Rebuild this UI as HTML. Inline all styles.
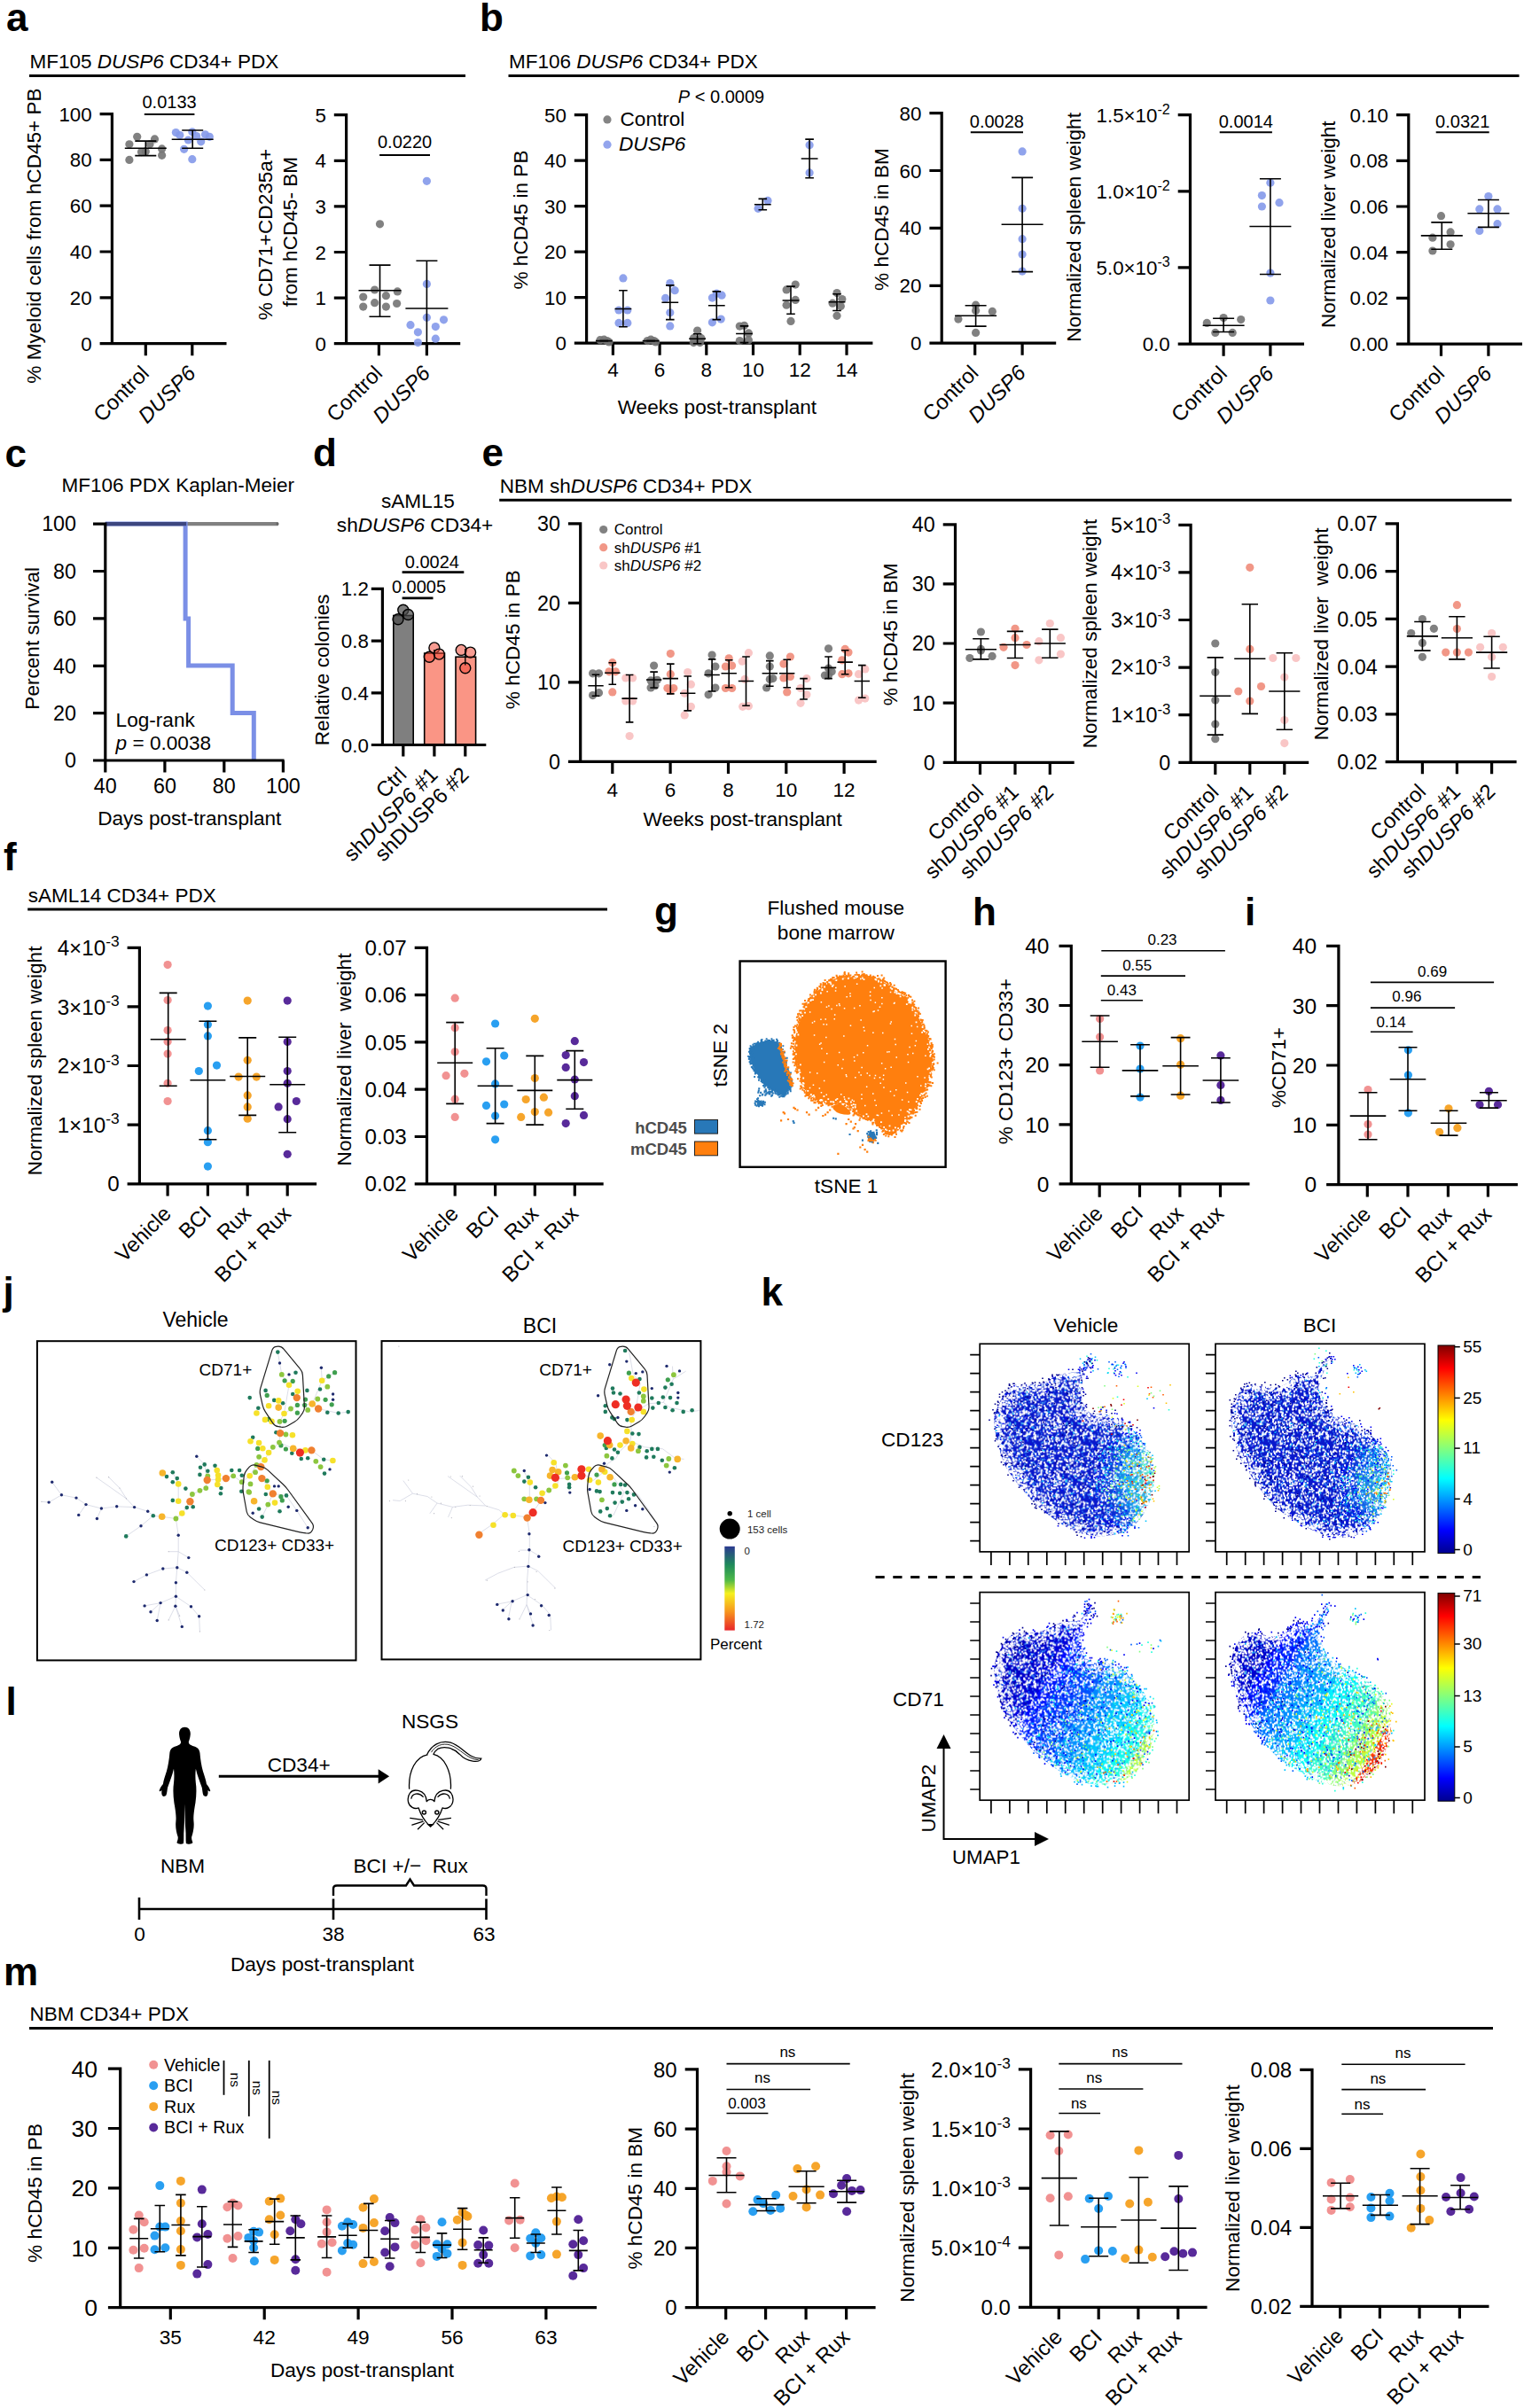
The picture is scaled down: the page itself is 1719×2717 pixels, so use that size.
<!DOCTYPE html>
<html><head><meta charset="utf-8"><title>Figure</title>
<style>html,body{margin:0;padding:0;background:#fff}svg{display:block}text{font-family:"Liberation Sans",sans-serif;fill:#000}</style></head>
<body>
<svg width="1719" height="2717" viewBox="0 0 1719 2717" fill="none">
<rect width="1719" height="2717" fill="#fff"/>
<text x="7" y="35" font-size="44" font-weight="bold" >a</text>
<path d="M33 85.6L525 85.6" stroke="#000" stroke-width="3" />
<text x="33.5" y="77.1" font-size="22.5" >MF105 <tspan font-style="italic">DUSP6</tspan> CD34+ PDX</text>
<path d="M126.4 127L126.4 387.7M112.6 387.7L255.5 387.7M112.6 335.9L126.4 335.9M112.6 284L126.4 284M112.6 232.2L126.4 232.2M112.6 180.4L126.4 180.4M112.6 128.6L126.4 128.6M164.3 387.7L164.3 401.3M216.8 387.7L216.8 401.3" stroke="#000" stroke-width="3.2"/>
<text x="103.6" y="395.7" font-size="22.3" text-anchor="end" >0</text>
<text x="103.6" y="343.8" font-size="22.3" text-anchor="end" >20</text>
<text x="103.6" y="292" font-size="22.3" text-anchor="end" >40</text>
<text x="103.6" y="240.2" font-size="22.3" text-anchor="end" >60</text>
<text x="103.6" y="188.4" font-size="22.3" text-anchor="end" >80</text>
<text x="103.6" y="136.6" font-size="22.3" text-anchor="end" >100</text>
<text x="45.5" y="266" font-size="22.6" text-anchor="middle" transform="rotate(-90 45.5 266)" >% Myeloid cells from hCD45+ PB</text>
<text x="169.6" y="422.7" font-size="23.9" text-anchor="end" transform="rotate(-45 169.6 422.7)" >Control</text>
<text x="222.1" y="422.7" font-size="23.9" text-anchor="end" transform="rotate(-45 222.1 422.7)" ><tspan font-style="italic">DUSP6</tspan></text>
<circle cx="145.9" cy="180.4" r="4.6" fill="#737373" fill-opacity="0.9" />
<circle cx="145.9" cy="162.8" r="4.6" fill="#737373" fill-opacity="0.9" />
<circle cx="154.7" cy="154.3" r="4.6" fill="#737373" fill-opacity="0.9" />
<circle cx="159.5" cy="171.6" r="4.6" fill="#737373" fill-opacity="0.9" />
<circle cx="164.3" cy="170.9" r="4.6" fill="#737373" fill-opacity="0.9" />
<circle cx="169" cy="162.8" r="4.6" fill="#737373" fill-opacity="0.9" />
<circle cx="174.5" cy="156.9" r="4.6" fill="#737373" fill-opacity="0.9" />
<circle cx="182.6" cy="167.9" r="4.6" fill="#737373" fill-opacity="0.9" />
<circle cx="182.6" cy="175.3" r="4.6" fill="#737373" fill-opacity="0.9" />
<path d="M140.8 167.2L187.8 167.2M164.3 175.6L164.3 159.1M152.3 175.6L176.3 175.6M152.3 159.1L176.3 159.1" stroke="#000" stroke-width="1.6"/>
<circle cx="198.4" cy="149.6" r="4.6" fill="#8499ea" fill-opacity="0.9" />
<circle cx="202.8" cy="152.5" r="4.6" fill="#8499ea" fill-opacity="0.9" />
<circle cx="207.6" cy="168.3" r="4.6" fill="#8499ea" fill-opacity="0.9" />
<circle cx="212.4" cy="158" r="4.6" fill="#8499ea" fill-opacity="0.9" />
<circle cx="216.8" cy="179.7" r="4.6" fill="#8499ea" fill-opacity="0.9" />
<circle cx="216.8" cy="148.8" r="4.6" fill="#8499ea" fill-opacity="0.9" />
<circle cx="221.6" cy="153.6" r="4.6" fill="#8499ea" fill-opacity="0.9" />
<circle cx="226.7" cy="159.8" r="4.6" fill="#8499ea" fill-opacity="0.9" />
<circle cx="231.5" cy="151.8" r="4.6" fill="#8499ea" fill-opacity="0.9" />
<circle cx="236.3" cy="154.3" r="4.6" fill="#8499ea" fill-opacity="0.9" />
<path d="M193.7 157.3L240.7 157.3M217.2 167.2L217.2 147M205.2 167.2L229.2 167.2M205.2 147L229.2 147" stroke="#000" stroke-width="1.6"/>
<path d="M162.8 129L219.4 129" stroke="#000" stroke-width="2" />
<text x="191.1" y="121.5" font-size="20" text-anchor="middle" >0.0133</text>
<path d="M390.6 128.1L390.6 387.7M376.8 387.7L519.2 387.7M376.8 336.1L390.6 336.1M376.8 284.5L390.6 284.5M376.8 232.9L390.6 232.9M376.8 181.3L390.6 181.3M376.8 129.7L390.6 129.7M427.4 387.7L427.4 401.3M481.4 387.7L481.4 401.3" stroke="#000" stroke-width="3.2"/>
<text x="367.8" y="395.7" font-size="22.3" text-anchor="end" >0</text>
<text x="367.8" y="344.1" font-size="22.3" text-anchor="end" >1</text>
<text x="367.8" y="292.5" font-size="22.3" text-anchor="end" >2</text>
<text x="367.8" y="240.9" font-size="22.3" text-anchor="end" >3</text>
<text x="367.8" y="189.3" font-size="22.3" text-anchor="end" >4</text>
<text x="367.8" y="137.7" font-size="22.3" text-anchor="end" >5</text>
<text x="306.8" y="264.6" font-size="22.6" text-anchor="middle" transform="rotate(-90 306.8 264.6)" >% CD71+CD235a+</text>
<text x="335.1" y="261.6" font-size="22.6" text-anchor="middle" transform="rotate(-90 335.1 261.6)" >from hCD45- BM</text>
<text x="432.7" y="422.7" font-size="23.9" text-anchor="end" transform="rotate(-45 432.7 422.7)" >Control</text>
<text x="486.7" y="422.7" font-size="23.9" text-anchor="end" transform="rotate(-45 486.7 422.7)" ><tspan font-style="italic">DUSP6</tspan></text>
<circle cx="428.5" cy="252.8" r="4.6" fill="#737373" fill-opacity="0.9" />
<circle cx="409.7" cy="335.1" r="4.6" fill="#737373" fill-opacity="0.9" />
<circle cx="422.6" cy="327" r="4.6" fill="#737373" fill-opacity="0.9" />
<circle cx="435.4" cy="333.7" r="4.6" fill="#737373" fill-opacity="0.9" />
<circle cx="448.3" cy="328.9" r="4.6" fill="#737373" fill-opacity="0.9" />
<circle cx="409.7" cy="346.1" r="4.6" fill="#737373" fill-opacity="0.9" />
<circle cx="422.6" cy="341.7" r="4.6" fill="#737373" fill-opacity="0.9" />
<circle cx="435.4" cy="346.1" r="4.6" fill="#737373" fill-opacity="0.9" />
<circle cx="447.6" cy="342.5" r="4.6" fill="#737373" fill-opacity="0.9" />
<path d="M404.5 327.8L452.5 327.8M428.5 357.2L428.5 299.1M416.5 357.2L440.5 357.2M416.5 299.1L440.5 299.1" stroke="#000" stroke-width="1.6"/>
<circle cx="481.4" cy="204.3" r="4.6" fill="#8499ea" fill-opacity="0.9" />
<circle cx="481.4" cy="320.4" r="4.6" fill="#8499ea" fill-opacity="0.9" />
<circle cx="481.4" cy="358.3" r="4.6" fill="#8499ea" fill-opacity="0.9" />
<circle cx="500.5" cy="360.8" r="4.6" fill="#8499ea" fill-opacity="0.9" />
<circle cx="463" cy="366.7" r="4.6" fill="#8499ea" fill-opacity="0.9" />
<circle cx="491.3" cy="368.6" r="4.6" fill="#8499ea" fill-opacity="0.9" />
<circle cx="471.4" cy="374.8" r="4.6" fill="#8499ea" fill-opacity="0.9" />
<circle cx="491.3" cy="382.2" r="4.6" fill="#8499ea" fill-opacity="0.9" />
<circle cx="471.4" cy="386.6" r="4.6" fill="#8499ea" fill-opacity="0.9" />
<path d="M457.4 348L505.4 348M481.4 387.7L481.4 294.3M469.4 294.3L493.4 294.3" stroke="#000" stroke-width="1.6"/>
<path d="M428.1 174.9L485 174.9" stroke="#000" stroke-width="2" />
<text x="456.6" y="167.4" font-size="20" text-anchor="middle" >0.0220</text>
<text x="541" y="35" font-size="44" font-weight="bold" >b</text>
<path d="M573.5 85.4L1713.5 85.4" stroke="#000" stroke-width="3" />
<text x="574" y="76.9" font-size="22.5" >MF106 <tspan font-style="italic">DUSP6</tspan> CD34+ PDX</text>
<path d="M661.6 128.1L661.6 387.2M647.8 387.2L984.4 387.2M647.8 335.7L661.6 335.7M647.8 284.2L661.6 284.2M647.8 232.7L661.6 232.7M647.8 181.2L661.6 181.2M647.8 129.7L661.6 129.7M691.4 387.2L691.4 400.8M744.1 387.2L744.1 400.8M796.8 387.2L796.8 400.8M849.5 387.2L849.5 400.8M902.2 387.2L902.2 400.8M955 387.2L955 400.8" stroke="#000" stroke-width="3.2"/>
<text x="638.8" y="395.2" font-size="22.3" text-anchor="end" >0</text>
<text x="638.8" y="343.7" font-size="22.3" text-anchor="end" >10</text>
<text x="638.8" y="292.2" font-size="22.3" text-anchor="end" >20</text>
<text x="638.8" y="240.7" font-size="22.3" text-anchor="end" >30</text>
<text x="638.8" y="189.1" font-size="22.3" text-anchor="end" >40</text>
<text x="638.8" y="137.6" font-size="22.3" text-anchor="end" >50</text>
<text x="691.4" y="425" font-size="22.5" text-anchor="middle" >4</text>
<text x="744.1" y="425" font-size="22.5" text-anchor="middle" >6</text>
<text x="796.8" y="425" font-size="22.5" text-anchor="middle" >8</text>
<text x="849.5" y="425" font-size="22.5" text-anchor="middle" >10</text>
<text x="902.2" y="425" font-size="22.5" text-anchor="middle" >12</text>
<text x="955" y="425" font-size="22.5" text-anchor="middle" >14</text>
<text x="808.9" y="466.9" font-size="22.6" text-anchor="middle" >Weeks post-transplant</text>
<text x="595.2" y="248" font-size="22.6" text-anchor="middle" transform="rotate(-90 595.2 248)" >% hCD45 in PB</text>
<text x="813.5" y="116.1" font-size="20" text-anchor="middle" ><tspan font-style="italic">P</tspan> &lt; 0.0009</text>
<circle cx="685" cy="134.9" r="4.6" fill="#737373" fill-opacity="0.88" />
<text x="699.5" y="141.5" font-size="22.6" >Control</text>
<circle cx="685" cy="163.2" r="4.6" fill="#8499ea" fill-opacity="0.88" />
<text x="698" y="170.1" font-size="22.6" ><tspan font-style="italic">DUSP6</tspan></text>
<circle cx="676.9" cy="383.7" r="4.6" fill="#737373" fill-opacity="0.9" />
<circle cx="681.3" cy="383.2" r="4.6" fill="#737373" fill-opacity="0.9" />
<circle cx="684.7" cy="384.6" r="4.6" fill="#737373" fill-opacity="0.9" />
<circle cx="687" cy="386" r="4.6" fill="#737373" fill-opacity="0.9" />
<path d="M671.9 384.6L690.7 384.6M681.3 384.9L681.3 384.3M676.5 384.9L686.1 384.9M676.5 384.3L686.1 384.3" stroke="#000" stroke-width="1.6"/>
<circle cx="702.9" cy="313.9" r="4.6" fill="#8499ea" fill-opacity="0.9" />
<circle cx="698" cy="350" r="4.6" fill="#8499ea" fill-opacity="0.9" />
<circle cx="707.8" cy="350" r="4.6" fill="#8499ea" fill-opacity="0.9" />
<circle cx="698" cy="364.4" r="4.6" fill="#8499ea" fill-opacity="0.9" />
<circle cx="707.8" cy="364.4" r="4.6" fill="#8499ea" fill-opacity="0.9" />
<path d="M693.5 348.5L712.3 348.5M702.9 368.7L702.9 327.7M698.1 368.7L707.7 368.7M698.1 327.7L707.7 327.7" stroke="#000" stroke-width="1.6"/>
<circle cx="730.3" cy="384.6" r="4.6" fill="#737373" fill-opacity="0.9" />
<circle cx="734.1" cy="383.2" r="4.6" fill="#737373" fill-opacity="0.9" />
<circle cx="737.6" cy="384.6" r="4.6" fill="#737373" fill-opacity="0.9" />
<circle cx="739.6" cy="386" r="4.6" fill="#737373" fill-opacity="0.9" />
<path d="M724.7 384.6L743.5 384.6M734.1 384.9L734.1 384.3M729.3 384.9L738.9 384.9M729.3 384.3L738.9 384.3" stroke="#000" stroke-width="1.6"/>
<circle cx="755.8" cy="319.6" r="4.6" fill="#8499ea" fill-opacity="0.9" />
<circle cx="761.2" cy="327.7" r="4.6" fill="#8499ea" fill-opacity="0.9" />
<circle cx="750.6" cy="336.4" r="4.6" fill="#8499ea" fill-opacity="0.9" />
<circle cx="755.8" cy="352.8" r="4.6" fill="#8499ea" fill-opacity="0.9" />
<circle cx="755.8" cy="367.9" r="4.6" fill="#8499ea" fill-opacity="0.9" />
<path d="M746.4 341.3L765.2 341.3M755.8 360.6L755.8 321.9M751 360.6L760.6 360.6M751 321.9L760.6 321.9" stroke="#000" stroke-width="1.6"/>
<circle cx="786.6" cy="373" r="4.6" fill="#737373" fill-opacity="0.9" />
<circle cx="782.3" cy="381.7" r="4.6" fill="#737373" fill-opacity="0.9" />
<circle cx="791" cy="381.7" r="4.6" fill="#737373" fill-opacity="0.9" />
<circle cx="782.3" cy="386.6" r="4.6" fill="#737373" fill-opacity="0.9" />
<circle cx="789.5" cy="386.6" r="4.6" fill="#737373" fill-opacity="0.9" />
<path d="M777.2 382.3L796 382.3M786.6 387.8L786.6 376.8M781.8 387.8L791.4 387.8M781.8 376.8L791.4 376.8" stroke="#000" stroke-width="1.6"/>
<circle cx="808.3" cy="331.2" r="4.6" fill="#8499ea" fill-opacity="0.9" />
<circle cx="814.1" cy="333.2" r="4.6" fill="#8499ea" fill-opacity="0.9" />
<circle cx="803.4" cy="336.1" r="4.6" fill="#8499ea" fill-opacity="0.9" />
<circle cx="813.2" cy="360.1" r="4.6" fill="#8499ea" fill-opacity="0.9" />
<circle cx="803.4" cy="363.8" r="4.6" fill="#8499ea" fill-opacity="0.9" />
<path d="M798.9 344.8L817.7 344.8M808.3 360.6L808.3 328.9M803.5 360.6L813.1 360.6M803.5 328.9L813.1 328.9" stroke="#000" stroke-width="1.6"/>
<circle cx="834.3" cy="368.1" r="4.6" fill="#737373" fill-opacity="0.9" />
<circle cx="839.5" cy="367.3" r="4.6" fill="#737373" fill-opacity="0.9" />
<circle cx="844.4" cy="375.9" r="4.6" fill="#737373" fill-opacity="0.9" />
<circle cx="834.3" cy="384.6" r="4.6" fill="#737373" fill-opacity="0.9" />
<circle cx="844.4" cy="383.7" r="4.6" fill="#737373" fill-opacity="0.9" />
<path d="M830.1 376.5L848.9 376.5M839.5 386.6L839.5 367.9M834.7 386.6L844.3 386.6M834.7 367.9L844.3 367.9" stroke="#000" stroke-width="1.6"/>
<circle cx="855.1" cy="235.3" r="4.6" fill="#8499ea" fill-opacity="0.9" />
<circle cx="866" cy="226.4" r="4.6" fill="#8499ea" fill-opacity="0.9" />
<path d="M850.9 230.7L869.7 230.7M860.3 236.8L860.3 224.4M855.5 236.8L865.1 236.8M855.5 224.4L865.1 224.4" stroke="#000" stroke-width="1.6"/>
<circle cx="897.2" cy="321.1" r="4.6" fill="#737373" fill-opacity="0.9" />
<circle cx="887.1" cy="326.9" r="4.6" fill="#737373" fill-opacity="0.9" />
<circle cx="897.2" cy="338.4" r="4.6" fill="#737373" fill-opacity="0.9" />
<circle cx="887.1" cy="344.2" r="4.6" fill="#737373" fill-opacity="0.9" />
<circle cx="892" cy="362.4" r="4.6" fill="#737373" fill-opacity="0.9" />
<path d="M882.6 339L901.4 339M892 354.3L892 323.1M887.2 354.3L896.8 354.3M887.2 323.1L896.8 323.1" stroke="#000" stroke-width="1.6"/>
<circle cx="913.1" cy="163.7" r="4.6" fill="#8499ea" fill-opacity="0.9" />
<circle cx="913.1" cy="194.9" r="4.6" fill="#8499ea" fill-opacity="0.9" />
<path d="M903.7 179L922.5 179M913.1 200.7L913.1 157.1M908.3 200.7L917.9 200.7M908.3 157.1L917.9 157.1" stroke="#000" stroke-width="1.6"/>
<circle cx="944" cy="330.6" r="4.6" fill="#737373" fill-opacity="0.9" />
<circle cx="949.8" cy="337.5" r="4.6" fill="#737373" fill-opacity="0.9" />
<circle cx="939.1" cy="342.2" r="4.6" fill="#737373" fill-opacity="0.9" />
<circle cx="948.3" cy="345.6" r="4.6" fill="#737373" fill-opacity="0.9" />
<circle cx="944" cy="356.3" r="4.6" fill="#737373" fill-opacity="0.9" />
<path d="M934.6 340.7L953.4 340.7M944 350.5L944 331.8M939.2 350.5L948.8 350.5M939.2 331.8L948.8 331.8" stroke="#000" stroke-width="1.6"/>
<path d="M1062.2 126L1062.2 387.2M1048.4 387.2L1191.2 387.2M1048.4 322.3L1062.2 322.3M1048.4 257.4L1062.2 257.4M1048.4 192.5L1062.2 192.5M1048.4 127.6L1062.2 127.6M1099.7 387.2L1099.7 400.8M1153.1 387.2L1153.1 400.8" stroke="#000" stroke-width="3.2"/>
<text x="1039.4" y="395.2" font-size="22.3" text-anchor="end" >0</text>
<text x="1039.4" y="330.3" font-size="22.3" text-anchor="end" >20</text>
<text x="1039.4" y="265.4" font-size="22.3" text-anchor="end" >40</text>
<text x="1039.4" y="200.5" font-size="22.3" text-anchor="end" >60</text>
<text x="1039.4" y="135.6" font-size="22.3" text-anchor="end" >80</text>
<text x="1002.1" y="247.5" font-size="22.6" text-anchor="middle" transform="rotate(-90 1002.1 247.5)" >% hCD45 in BM</text>
<text x="1105" y="422.2" font-size="23.9" text-anchor="end" transform="rotate(-45 1105 422.2)" >Control</text>
<text x="1158.4" y="422.2" font-size="23.9" text-anchor="end" transform="rotate(-45 1158.4 422.2)" ><tspan font-style="italic">DUSP6</tspan></text>
<path d="M1094.8 149.3L1154 149.3" stroke="#000" stroke-width="2" />
<text x="1124.4" y="144.1" font-size="20" text-anchor="middle" >0.0028</text>
<circle cx="1100.6" cy="344.2" r="4.6" fill="#737373" fill-opacity="0.9" />
<circle cx="1100.6" cy="350.5" r="4.6" fill="#737373" fill-opacity="0.9" />
<circle cx="1119.3" cy="351.4" r="4.6" fill="#737373" fill-opacity="0.9" />
<circle cx="1080.9" cy="360.1" r="4.6" fill="#737373" fill-opacity="0.9" />
<circle cx="1100.6" cy="375.4" r="4.6" fill="#737373" fill-opacity="0.9" />
<path d="M1077.1 356.3L1124.1 356.3M1100.6 368.1L1100.6 344.8M1088.6 368.1L1112.6 368.1M1088.6 344.8L1112.6 344.8" stroke="#000" stroke-width="1.6"/>
<circle cx="1153.1" cy="170.9" r="4.6" fill="#8499ea" fill-opacity="0.9" />
<circle cx="1153.1" cy="235.3" r="4.6" fill="#8499ea" fill-opacity="0.9" />
<circle cx="1153.1" cy="269.7" r="4.6" fill="#8499ea" fill-opacity="0.9" />
<circle cx="1153.1" cy="287" r="4.6" fill="#8499ea" fill-opacity="0.9" />
<circle cx="1153.1" cy="306.1" r="4.6" fill="#8499ea" fill-opacity="0.9" />
<path d="M1129.6 253.2L1176.6 253.2M1153.1 306.6L1153.1 200.4M1141.1 306.6L1165.1 306.6M1141.1 200.4L1165.1 200.4" stroke="#000" stroke-width="1.6"/>
<text x="1219" y="256.4" font-size="22.6" text-anchor="middle" transform="rotate(-90 1219 256.4)" >Normalized spleen weight</text>
<path d="M1342.5 128.1L1342.5 388.1M1328.7 388.1L1471 388.1M1328.7 301.9L1342.5 301.9M1328.7 215.8L1342.5 215.8M1328.7 129.7L1342.5 129.7M1380.1 388.1L1380.1 401.7M1432.9 388.1L1432.9 401.7" stroke="#000" stroke-width="3.2"/>
<text x="1319.7" y="396" font-size="22.3" text-anchor="end" >0.0</text>
<text x="1319.7" y="309.9" font-size="22.3" text-anchor="end" >5.0×10<tspan dy="-8.9" font-size="16.1">-3</tspan></text>
<text x="1319.7" y="223.8" font-size="22.3" text-anchor="end" >1.0×10<tspan dy="-8.9" font-size="16.1">-2</tspan></text>
<text x="1319.7" y="137.6" font-size="22.3" text-anchor="end" >1.5×10<tspan dy="-8.9" font-size="16.1">-2</tspan></text>
<text x="1385.4" y="423.1" font-size="23.9" text-anchor="end" transform="rotate(-45 1385.4 423.1)" >Control</text>
<text x="1438.2" y="423.1" font-size="23.9" text-anchor="end" transform="rotate(-45 1438.2 423.1)" ><tspan font-style="italic">DUSP6</tspan></text>
<path d="M1375.7 149.3L1434.9 149.3" stroke="#000" stroke-width="2" />
<text x="1405.3" y="144.1" font-size="20" text-anchor="middle" >0.0014</text>
<circle cx="1380.1" cy="358.6" r="4.6" fill="#737373" fill-opacity="0.9" />
<circle cx="1361.3" cy="364.4" r="4.6" fill="#737373" fill-opacity="0.9" />
<circle cx="1399.7" cy="360.6" r="4.6" fill="#737373" fill-opacity="0.9" />
<circle cx="1370.8" cy="375.4" r="4.6" fill="#737373" fill-opacity="0.9" />
<circle cx="1390.2" cy="375.4" r="4.6" fill="#737373" fill-opacity="0.9" />
<path d="M1356.6 367.3L1403.6 367.3M1380.1 374.5L1380.1 359.2M1368.1 374.5L1392.1 374.5M1368.1 359.2L1392.1 359.2" stroke="#000" stroke-width="1.6"/>
<circle cx="1432.9" cy="206.2" r="4.6" fill="#8499ea" fill-opacity="0.9" />
<circle cx="1423.4" cy="220.6" r="4.6" fill="#8499ea" fill-opacity="0.9" />
<circle cx="1443" cy="228.7" r="4.6" fill="#8499ea" fill-opacity="0.9" />
<circle cx="1423.4" cy="233" r="4.6" fill="#8499ea" fill-opacity="0.9" />
<circle cx="1432.9" cy="308.1" r="4.6" fill="#8499ea" fill-opacity="0.9" />
<circle cx="1432.9" cy="339" r="4.6" fill="#8499ea" fill-opacity="0.9" />
<path d="M1409.4 255.5L1456.4 255.5M1432.9 309.5L1432.9 201.8M1420.9 309.5L1444.9 309.5M1420.9 201.8L1444.9 201.8" stroke="#000" stroke-width="1.6"/>
<path d="M1588.8 128.1L1588.8 388.1M1575 388.1L1717 388.1M1575 336.4L1588.8 336.4M1575 284.7L1588.8 284.7M1575 233L1588.8 233M1575 181.3L1588.8 181.3M1575 129.7L1588.8 129.7M1625.5 388.1L1625.5 401.7M1678.9 388.1L1678.9 401.7" stroke="#000" stroke-width="3.2"/>
<text x="1566" y="396" font-size="22.3" text-anchor="end" >0.00</text>
<text x="1566" y="344.4" font-size="22.3" text-anchor="end" >0.02</text>
<text x="1566" y="292.7" font-size="22.3" text-anchor="end" >0.04</text>
<text x="1566" y="241" font-size="22.3" text-anchor="end" >0.06</text>
<text x="1566" y="189.3" font-size="22.3" text-anchor="end" >0.08</text>
<text x="1566" y="137.6" font-size="22.3" text-anchor="end" >0.10</text>
<text x="1506.5" y="253.2" font-size="22.6" text-anchor="middle" transform="rotate(-90 1506.5 253.2)" >Normalized liver weight</text>
<text x="1630.8" y="423.1" font-size="23.9" text-anchor="end" transform="rotate(-45 1630.8 423.1)" >Control</text>
<text x="1684.2" y="423.1" font-size="23.9" text-anchor="end" transform="rotate(-45 1684.2 423.1)" ><tspan font-style="italic">DUSP6</tspan></text>
<path d="M1619.7 149.3L1679.7 149.3" stroke="#000" stroke-width="2" />
<text x="1649.7" y="144.1" font-size="20" text-anchor="middle" >0.0321</text>
<circle cx="1625.5" cy="243.7" r="4.6" fill="#737373" fill-opacity="0.9" />
<circle cx="1636.1" cy="261.9" r="4.6" fill="#737373" fill-opacity="0.9" />
<circle cx="1615.9" cy="268.2" r="4.6" fill="#737373" fill-opacity="0.9" />
<circle cx="1636.1" cy="275.8" r="4.6" fill="#737373" fill-opacity="0.9" />
<circle cx="1615.9" cy="283" r="4.6" fill="#737373" fill-opacity="0.9" />
<path d="M1602.8 265.9L1649.8 265.9M1626.3 281.2L1626.3 250.9M1614.3 281.2L1638.3 281.2M1614.3 250.9L1638.3 250.9" stroke="#000" stroke-width="1.6"/>
<circle cx="1678.9" cy="221.5" r="4.6" fill="#8499ea" fill-opacity="0.9" />
<circle cx="1668.8" cy="235.9" r="4.6" fill="#8499ea" fill-opacity="0.9" />
<circle cx="1689" cy="235.9" r="4.6" fill="#8499ea" fill-opacity="0.9" />
<circle cx="1689" cy="252.7" r="4.6" fill="#8499ea" fill-opacity="0.9" />
<circle cx="1668.8" cy="260.4" r="4.6" fill="#8499ea" fill-opacity="0.9" />
<path d="M1655.4 240.8L1702.4 240.8M1678.9 256.4L1678.9 225.5M1666.9 256.4L1690.9 256.4M1666.9 225.5L1690.9 225.5" stroke="#000" stroke-width="1.6"/>
<text x="5.5" y="526.6" font-size="44" font-weight="bold" >c</text>
<text x="200.8" y="555" font-size="22.5" text-anchor="middle" >MF106 PDX Kaplan-Meier</text>
<path d="M118.8 591.1L313.7 591.1" stroke="#808080" stroke-width="4.2"/>
<circle cx="313" cy="591.1" r="1.6" fill="#666" />
<path d="M118.8 591.1L209.1 591.1L209.1 697.9L212.6 697.9L212.6 751L262.2 751L262.2 804.6L286.3 804.6L286.3 859" stroke="#7b8fe6" stroke-width="5" stroke-linejoin="miter"/>
<path d="M118.8 591.1L210.2 591.1" stroke="#3c467f" stroke-width="4.4"/>
<path d="M118.8 589.5L118.8 858M105 858L320.6 858M105 804.6L118.8 804.6M105 751.3L118.8 751.3M105 697.9L118.8 697.9M105 644.5L118.8 644.5M105 591.1L118.8 591.1M118.8 858L118.8 871.5M185.9 858L185.9 871.5M252.8 858L252.8 871.5M319.4 858L319.4 871.5" stroke="#000" stroke-width="3.2"/>
<text x="86" y="866.4" font-size="23.3" text-anchor="end" >0</text>
<text x="86" y="813" font-size="23.3" text-anchor="end" >20</text>
<text x="86" y="759.6" font-size="23.3" text-anchor="end" >40</text>
<text x="86" y="706.2" font-size="23.3" text-anchor="end" >60</text>
<text x="86" y="652.8" font-size="23.3" text-anchor="end" >80</text>
<text x="86" y="599.4" font-size="23.3" text-anchor="end" >100</text>
<text x="118.8" y="895.1" font-size="23.3" text-anchor="middle" >40</text>
<text x="185.9" y="895.1" font-size="23.3" text-anchor="middle" >60</text>
<text x="252.8" y="895.1" font-size="23.3" text-anchor="middle" >80</text>
<text x="319.4" y="895.1" font-size="23.3" text-anchor="middle" >100</text>
<text x="213.8" y="930.6" font-size="22.6" text-anchor="middle" >Days post-transplant</text>
<text x="44.4" y="720.3" font-size="22.6" text-anchor="middle" transform="rotate(-90 44.4 720.3)" >Percent survival</text>
<text x="130.6" y="819.5" font-size="22.6" >Log-rank</text>
<text x="130.6" y="845.5" font-size="22.6" ><tspan font-style="italic">p</tspan> = 0.0038</text>
<text x="353" y="526.3" font-size="44" font-weight="bold" >d</text>
<text x="471.4" y="572.6" font-size="22.6" text-anchor="middle" >sAML15</text>
<text x="468.1" y="599.6" font-size="22.6" text-anchor="middle" >sh<tspan font-style="italic">DUSP6</tspan> CD34+</text>
<rect x="443.8" y="694.5" width="22.4" height="146" fill="#7f7f7f" stroke="#000" stroke-width="1.6"/>
<rect x="478.7" y="737.1" width="22.8" height="103.4" fill="#fa9585" stroke="#000" stroke-width="1.6"/>
<rect x="514" y="741.2" width="22.6" height="99.3" fill="#fa9585" stroke="#000" stroke-width="1.6"/>
<path d="M431.4 662.8L431.4 840.5M418.8 840.5L548.3 840.5M418.8 781.8L431.4 781.8M418.8 723.1L431.4 723.1M418.8 664.4L431.4 664.4M454.8 840.5L454.8 853.4M489.9 840.5L489.9 853.4M524.8 840.5L524.8 853.4" stroke="#000" stroke-width="3.2"/>
<text x="415.8" y="848.5" font-size="22.3" text-anchor="end" >0.0</text>
<text x="415.8" y="789.8" font-size="22.3" text-anchor="end" >0.4</text>
<text x="415.8" y="731.1" font-size="22.3" text-anchor="end" >0.8</text>
<text x="415.8" y="672.4" font-size="22.3" text-anchor="end" >1.2</text>
<circle cx="454.8" cy="688.3" r="6" fill="#4a4a4a" fill-opacity="0.7" stroke="#000" stroke-width="1.4"/>
<circle cx="460.4" cy="693.5" r="6" fill="#4a4a4a" fill-opacity="0.7" stroke="#000" stroke-width="1.4"/>
<circle cx="449" cy="698.7" r="6" fill="#4a4a4a" fill-opacity="0.7" stroke="#000" stroke-width="1.4"/>
<circle cx="489.9" cy="730.9" r="6" fill="#f04a38" fill-opacity="0.55" stroke="#000" stroke-width="1.4"/>
<circle cx="495.3" cy="738.1" r="6" fill="#f04a38" fill-opacity="0.55" stroke="#000" stroke-width="1.4"/>
<circle cx="484.3" cy="741.2" r="6" fill="#f04a38" fill-opacity="0.55" stroke="#000" stroke-width="1.4"/>
<circle cx="520.2" cy="733.4" r="6" fill="#f04a38" fill-opacity="0.55" stroke="#000" stroke-width="1.4"/>
<circle cx="530.6" cy="736.1" r="6" fill="#f04a38" fill-opacity="0.55" stroke="#000" stroke-width="1.4"/>
<circle cx="524.8" cy="753.7" r="6" fill="#f04a38" fill-opacity="0.55" stroke="#000" stroke-width="1.4"/>
<path d="M454.8 697.6L454.8 690.4" stroke="#000" stroke-width="1.4" />
<path d="M489.9 740.2L489.9 732.9" stroke="#000" stroke-width="1.4" />
<path d="M524.8 750.6L524.8 731.9" stroke="#000" stroke-width="1.4" />
<text x="371.1" y="755.8" font-size="22.6" text-anchor="middle" transform="rotate(-90 371.1 755.8)" >Relative colonies</text>
<path d="M453.6 645.7L523.3 645.7" stroke="#000" stroke-width="2.8" />
<text x="487.4" y="640.5" font-size="20" text-anchor="middle" >0.0024</text>
<path d="M453.6 674.8L488.5 674.8" stroke="#000" stroke-width="2.8" />
<text x="472.5" y="669" font-size="20" text-anchor="middle" >0.0005</text>
<text x="460.1" y="875.5" font-size="23.9" text-anchor="end" transform="rotate(-45 460.1 875.5)" >Ctrl</text>
<text x="495.2" y="875.5" font-size="23.9" text-anchor="end" transform="rotate(-45 495.2 875.5)" >sh<tspan font-style="italic">DUSP6</tspan> #1</text>
<text x="530.1" y="875.5" font-size="23.9" text-anchor="end" transform="rotate(-45 530.1 875.5)" >shDUSP6 #2</text>
<text x="543.5" y="526.3" font-size="44" font-weight="bold" >e</text>
<path d="M563.2 564.3L1705 564.3" stroke="#000" stroke-width="3" />
<text x="563.7" y="555.8" font-size="22.5" >NBM sh<tspan font-style="italic">DUSP6</tspan> CD34+ PDX</text>
<path d="M654.7 589.3L654.7 859.4M640.9 859.4L988.7 859.4M640.9 769.9L654.7 769.9M640.9 680.4L654.7 680.4M640.9 590.9L654.7 590.9M690.8 859.4L690.8 873M756.1 859.4L756.1 873M821.5 859.4L821.5 873M886.8 859.4L886.8 873M952.1 859.4L952.1 873" stroke="#000" stroke-width="3.2"/>
<text x="631.9" y="867.7" font-size="23.3" text-anchor="end" >0</text>
<text x="631.9" y="778.2" font-size="23.3" text-anchor="end" >10</text>
<text x="631.9" y="688.7" font-size="23.3" text-anchor="end" >20</text>
<text x="631.9" y="599.2" font-size="23.3" text-anchor="end" >30</text>
<text x="690.8" y="899.2" font-size="22.5" text-anchor="middle" >4</text>
<text x="756.1" y="899.2" font-size="22.5" text-anchor="middle" >6</text>
<text x="821.5" y="899.2" font-size="22.5" text-anchor="middle" >8</text>
<text x="886.8" y="899.2" font-size="22.5" text-anchor="middle" >10</text>
<text x="952.1" y="899.2" font-size="22.5" text-anchor="middle" >12</text>
<text x="837.7" y="931.9" font-size="22.6" text-anchor="middle" >Weeks post-transplant</text>
<text x="586" y="721.7" font-size="22.6" text-anchor="middle" transform="rotate(-90 586 721.7)" >% hCD45 in PB</text>
<circle cx="680.7" cy="597.5" r="4.6" fill="#737373" fill-opacity="0.9" />
<text x="692.8" y="603.3" font-size="17" >Control</text>
<circle cx="680.7" cy="617.7" r="4.6" fill="#f08c7a" fill-opacity="0.9" />
<text x="692.8" y="623.5" font-size="17" >sh<tspan font-style="italic">DUSP6</tspan> #1</text>
<circle cx="680.7" cy="638" r="4.6" fill="#f8c0c0" fill-opacity="0.9" />
<text x="692.8" y="643.7" font-size="17" >sh<tspan font-style="italic">DUSP6</tspan> #2</text>
<circle cx="668.6" cy="759.8" r="4.6" fill="#737373" fill-opacity="0.9" />
<circle cx="675.5" cy="759.8" r="4.6" fill="#737373" fill-opacity="0.9" />
<circle cx="668.6" cy="784.6" r="4.6" fill="#737373" fill-opacity="0.9" />
<circle cx="675.5" cy="781.7" r="4.6" fill="#737373" fill-opacity="0.9" />
<path d="M663.3 773.7L680.7 773.7M672 785.2L672 761.2M667.7 785.2L676.3 785.2M667.7 761.2L676.3 761.2" stroke="#000" stroke-width="1.6"/>
<circle cx="690.8" cy="747.7" r="4.6" fill="#f08c7a" fill-opacity="0.9" />
<circle cx="687" cy="757.8" r="4.6" fill="#f08c7a" fill-opacity="0.9" />
<circle cx="694.3" cy="757.8" r="4.6" fill="#f08c7a" fill-opacity="0.9" />
<circle cx="690.8" cy="780.9" r="4.6" fill="#f08c7a" fill-opacity="0.9" />
<path d="M682.1 759.2L699.5 759.2M690.8 772.2L690.8 747.7M686.5 772.2L695.1 772.2M686.5 747.7L695.1 747.7" stroke="#000" stroke-width="1.6"/>
<circle cx="705.8" cy="765" r="4.6" fill="#f8c0c0" fill-opacity="0.9" />
<circle cx="713.6" cy="765" r="4.6" fill="#f8c0c0" fill-opacity="0.9" />
<circle cx="705.8" cy="791" r="4.6" fill="#f8c0c0" fill-opacity="0.9" />
<circle cx="713.6" cy="791" r="4.6" fill="#f8c0c0" fill-opacity="0.9" />
<circle cx="710.1" cy="830.5" r="4.6" fill="#f8c0c0" fill-opacity="0.9" />
<path d="M701.4 788.1L718.8 788.1M710.1 814.9L710.1 761.5M705.8 814.9L714.4 814.9M705.8 761.5L714.4 761.5" stroke="#000" stroke-width="1.6"/>
<circle cx="737.6" cy="751.1" r="4.6" fill="#737373" fill-opacity="0.9" />
<circle cx="734.1" cy="767.9" r="4.6" fill="#737373" fill-opacity="0.9" />
<circle cx="741.3" cy="767.3" r="4.6" fill="#737373" fill-opacity="0.9" />
<circle cx="734.1" cy="776" r="4.6" fill="#737373" fill-opacity="0.9" />
<circle cx="739" cy="773.7" r="4.6" fill="#737373" fill-opacity="0.9" />
<path d="M728.9 767L746.3 767M737.6 776L737.6 758.1M733.3 776L741.9 776M733.3 758.1L741.9 758.1" stroke="#000" stroke-width="1.6"/>
<circle cx="756.3" cy="737.6" r="4.6" fill="#f08c7a" fill-opacity="0.9" />
<circle cx="756.3" cy="760.7" r="4.6" fill="#f08c7a" fill-opacity="0.9" />
<circle cx="752.9" cy="776.5" r="4.6" fill="#f08c7a" fill-opacity="0.9" />
<circle cx="759.8" cy="776.5" r="4.6" fill="#f08c7a" fill-opacity="0.9" />
<circle cx="756.3" cy="779.4" r="4.6" fill="#f08c7a" fill-opacity="0.9" />
<path d="M747.6 765.6L765 765.6M756.3 782.9L756.3 749.1M752 782.9L760.6 782.9M752 749.1L760.6 749.1" stroke="#000" stroke-width="1.6"/>
<circle cx="775.7" cy="758.6" r="4.6" fill="#f8c0c0" fill-opacity="0.9" />
<circle cx="779.4" cy="772.2" r="4.6" fill="#f8c0c0" fill-opacity="0.9" />
<circle cx="772.2" cy="782.3" r="4.6" fill="#f8c0c0" fill-opacity="0.9" />
<circle cx="779.4" cy="797.3" r="4.6" fill="#f8c0c0" fill-opacity="0.9" />
<circle cx="772.2" cy="806.9" r="4.6" fill="#f8c0c0" fill-opacity="0.9" />
<path d="M767 782.3L784.4 782.3M775.7 801.9L775.7 763M771.4 801.9L780 801.9M771.4 763L780 763" stroke="#000" stroke-width="1.6"/>
<circle cx="803.1" cy="739" r="4.6" fill="#737373" fill-opacity="0.9" />
<circle cx="806.9" cy="752" r="4.6" fill="#737373" fill-opacity="0.9" />
<circle cx="799.1" cy="759.8" r="4.6" fill="#737373" fill-opacity="0.9" />
<circle cx="806.9" cy="776" r="4.6" fill="#737373" fill-opacity="0.9" />
<circle cx="799.1" cy="783.8" r="4.6" fill="#737373" fill-opacity="0.9" />
<path d="M794.4 761.5L811.8 761.5M803.1 780L803.1 743.9M798.8 780L807.4 780M798.8 743.9L807.4 743.9" stroke="#000" stroke-width="1.6"/>
<circle cx="822.2" cy="742.8" r="4.6" fill="#f08c7a" fill-opacity="0.9" />
<circle cx="818.4" cy="752" r="4.6" fill="#f08c7a" fill-opacity="0.9" />
<circle cx="825.6" cy="751.1" r="4.6" fill="#f08c7a" fill-opacity="0.9" />
<circle cx="818.4" cy="776.5" r="4.6" fill="#f08c7a" fill-opacity="0.9" />
<circle cx="825.6" cy="776.5" r="4.6" fill="#f08c7a" fill-opacity="0.9" />
<path d="M813.5 759.8L830.9 759.8M822.2 775.7L822.2 744.8M817.9 775.7L826.5 775.7M817.9 744.8L826.5 744.8" stroke="#000" stroke-width="1.6"/>
<circle cx="844.4" cy="736.7" r="4.6" fill="#f8c0c0" fill-opacity="0.9" />
<circle cx="837.2" cy="746.2" r="4.6" fill="#f8c0c0" fill-opacity="0.9" />
<circle cx="840.1" cy="766.4" r="4.6" fill="#f8c0c0" fill-opacity="0.9" />
<circle cx="837.7" cy="797.3" r="4.6" fill="#f8c0c0" fill-opacity="0.9" />
<circle cx="844.4" cy="796.7" r="4.6" fill="#f8c0c0" fill-opacity="0.9" />
<path d="M832.8 768.5L850.2 768.5M841.5 796.2L841.5 741M837.2 796.2L845.8 796.2M837.2 741L845.8 741" stroke="#000" stroke-width="1.6"/>
<circle cx="868.3" cy="739.9" r="4.6" fill="#737373" fill-opacity="0.9" />
<circle cx="868.3" cy="752" r="4.6" fill="#737373" fill-opacity="0.9" />
<circle cx="871.8" cy="765.6" r="4.6" fill="#737373" fill-opacity="0.9" />
<circle cx="864.6" cy="776" r="4.6" fill="#737373" fill-opacity="0.9" />
<circle cx="868.3" cy="766.4" r="4.6" fill="#737373" fill-opacity="0.9" />
<path d="M859.6 759.8L877 759.8M868.3 774.2L868.3 745.6M864 774.2L872.6 774.2M864 745.6L872.6 745.6" stroke="#000" stroke-width="1.6"/>
<circle cx="891.4" cy="741" r="4.6" fill="#f08c7a" fill-opacity="0.9" />
<circle cx="883.9" cy="749.1" r="4.6" fill="#f08c7a" fill-opacity="0.9" />
<circle cx="883.9" cy="765" r="4.6" fill="#f08c7a" fill-opacity="0.9" />
<circle cx="891.4" cy="763.5" r="4.6" fill="#f08c7a" fill-opacity="0.9" />
<circle cx="887.7" cy="780.9" r="4.6" fill="#f08c7a" fill-opacity="0.9" />
<path d="M879 759.8L896.4 759.8M887.7 775.7L887.7 744.2M883.4 775.7L892 775.7M883.4 744.2L892 744.2" stroke="#000" stroke-width="1.6"/>
<circle cx="909.9" cy="765.6" r="4.6" fill="#f8c0c0" fill-opacity="0.9" />
<circle cx="903" cy="776.5" r="4.6" fill="#f8c0c0" fill-opacity="0.9" />
<circle cx="909.9" cy="783.8" r="4.6" fill="#f8c0c0" fill-opacity="0.9" />
<circle cx="903" cy="793.3" r="4.6" fill="#f8c0c0" fill-opacity="0.9" />
<path d="M897.8 777.1L915.2 777.1M906.5 789L906.5 765.6M902.2 789L910.8 789M902.2 765.6L910.8 765.6" stroke="#000" stroke-width="1.6"/>
<circle cx="934.5" cy="731.8" r="4.6" fill="#737373" fill-opacity="0.9" />
<circle cx="934.5" cy="754" r="4.6" fill="#737373" fill-opacity="0.9" />
<circle cx="930.4" cy="762.1" r="4.6" fill="#737373" fill-opacity="0.9" />
<circle cx="938.2" cy="757.8" r="4.6" fill="#737373" fill-opacity="0.9" />
<circle cx="934.5" cy="762.1" r="4.6" fill="#737373" fill-opacity="0.9" />
<path d="M925.8 753.4L943.2 753.4M934.5 765.6L934.5 741M930.2 765.6L938.8 765.6M930.2 741L938.8 741" stroke="#000" stroke-width="1.6"/>
<circle cx="953.2" cy="732.4" r="4.6" fill="#f08c7a" fill-opacity="0.9" />
<circle cx="957" cy="736.1" r="4.6" fill="#f08c7a" fill-opacity="0.9" />
<circle cx="949.8" cy="744.8" r="4.6" fill="#f08c7a" fill-opacity="0.9" />
<circle cx="949.8" cy="760.7" r="4.6" fill="#f08c7a" fill-opacity="0.9" />
<circle cx="957" cy="759.8" r="4.6" fill="#f08c7a" fill-opacity="0.9" />
<path d="M944.5 747.1L961.9 747.1M953.2 760.7L953.2 733.8M948.9 760.7L957.5 760.7M948.9 733.8L957.5 733.8" stroke="#000" stroke-width="1.6"/>
<circle cx="975.8" cy="754.9" r="4.6" fill="#f8c0c0" fill-opacity="0.9" />
<circle cx="968.5" cy="760.7" r="4.6" fill="#f8c0c0" fill-opacity="0.9" />
<circle cx="968.5" cy="790.1" r="4.6" fill="#f8c0c0" fill-opacity="0.9" />
<circle cx="975.8" cy="788.1" r="4.6" fill="#f8c0c0" fill-opacity="0.9" />
<path d="M963.6 768.5L981 768.5M972.3 787.2L972.3 750.6M968 787.2L976.6 787.2M968 750.6L976.6 750.6" stroke="#000" stroke-width="1.6"/>
<path d="M1077.5 590.2L1077.5 860.3M1063.7 860.3L1211.7 860.3M1063.7 793.1L1077.5 793.1M1063.7 726L1077.5 726M1063.7 658.9L1077.5 658.9M1063.7 591.8L1077.5 591.8M1105.5 860.3L1105.5 873.9M1145 860.3L1145 873.9M1184.3 860.3L1184.3 873.9" stroke="#000" stroke-width="3.2"/>
<text x="1054.7" y="868.6" font-size="23.3" text-anchor="end" >0</text>
<text x="1054.7" y="801.5" font-size="23.3" text-anchor="end" >10</text>
<text x="1054.7" y="734.4" font-size="23.3" text-anchor="end" >20</text>
<text x="1054.7" y="667.2" font-size="23.3" text-anchor="end" >30</text>
<text x="1054.7" y="600.1" font-size="23.3" text-anchor="end" >40</text>
<text x="1011.7" y="715.9" font-size="22.6" text-anchor="middle" transform="rotate(-90 1011.7 715.9)" >% hCD45 in BM</text>
<text x="1110.8" y="895.3" font-size="23.9" text-anchor="end" transform="rotate(-45 1110.8 895.3)" >Control</text>
<text x="1150.3" y="895.3" font-size="23.9" text-anchor="end" transform="rotate(-45 1150.3 895.3)" >sh<tspan font-style="italic">DUSP6</tspan> #1</text>
<text x="1189.6" y="895.3" font-size="23.9" text-anchor="end" transform="rotate(-45 1189.6 895.3)" >sh<tspan font-style="italic">DUSP6</tspan> #2</text>
<circle cx="1106.4" cy="713" r="4.6" fill="#737373" fill-opacity="0.9" />
<circle cx="1106.4" cy="732.4" r="4.6" fill="#737373" fill-opacity="0.9" />
<circle cx="1093.9" cy="742.5" r="4.6" fill="#737373" fill-opacity="0.9" />
<circle cx="1119.1" cy="740.4" r="4.6" fill="#737373" fill-opacity="0.9" />
<circle cx="1106.4" cy="734.1" r="4.6" fill="#737373" fill-opacity="0.9" />
<path d="M1088.8 732.7L1124 732.7M1106.4 743.9L1106.4 720.8M1097.2 743.9L1115.6 743.9M1097.2 720.8L1115.6 720.8" stroke="#000" stroke-width="1.6"/>
<circle cx="1145" cy="709.3" r="4.6" fill="#f08c7a" fill-opacity="0.9" />
<circle cx="1145" cy="719.7" r="4.6" fill="#f08c7a" fill-opacity="0.9" />
<circle cx="1132" cy="730.3" r="4.6" fill="#f08c7a" fill-opacity="0.9" />
<circle cx="1158" cy="727.5" r="4.6" fill="#f08c7a" fill-opacity="0.9" />
<circle cx="1145" cy="750.6" r="4.6" fill="#f08c7a" fill-opacity="0.9" />
<path d="M1127.4 727.5L1162.6 727.5M1145 742.5L1145 712.4M1135.8 742.5L1154.2 742.5M1135.8 712.4L1154.2 712.4" stroke="#000" stroke-width="1.6"/>
<circle cx="1184.3" cy="703.5" r="4.6" fill="#f8c0c0" fill-opacity="0.9" />
<circle cx="1171.9" cy="723.7" r="4.6" fill="#f8c0c0" fill-opacity="0.9" />
<circle cx="1196.4" cy="719.7" r="4.6" fill="#f8c0c0" fill-opacity="0.9" />
<circle cx="1196.4" cy="738.1" r="4.6" fill="#f8c0c0" fill-opacity="0.9" />
<circle cx="1171.9" cy="744.8" r="4.6" fill="#f8c0c0" fill-opacity="0.9" />
<path d="M1166.7 726L1201.9 726M1184.3 742.2L1184.3 710.1M1175.1 742.2L1193.5 742.2M1175.1 710.1L1193.5 710.1" stroke="#000" stroke-width="1.6"/>
<text x="1236.9" y="715" font-size="22.6" text-anchor="middle" transform="rotate(-90 1236.9 715)" >Normalized spleen weight</text>
<path d="M1343.1 590.7L1343.1 860.3M1329.3 860.3L1476.2 860.3M1329.3 806.7L1343.1 806.7M1329.3 753.1L1343.1 753.1M1329.3 699.5L1343.1 699.5M1329.3 645.9L1343.1 645.9M1329.3 592.3L1343.1 592.3M1370.8 860.3L1370.8 873.9M1409.8 860.3L1409.8 873.9M1448.8 860.3L1448.8 873.9" stroke="#000" stroke-width="3.2"/>
<text x="1320.3" y="868.6" font-size="23.3" text-anchor="end" >0</text>
<text x="1320.3" y="815" font-size="23.3" text-anchor="end" >1×10<tspan dy="-9.3" font-size="16.8">-3</tspan></text>
<text x="1320.3" y="761.4" font-size="23.3" text-anchor="end" >2×10<tspan dy="-9.3" font-size="16.8">-3</tspan></text>
<text x="1320.3" y="707.8" font-size="23.3" text-anchor="end" >3×10<tspan dy="-9.3" font-size="16.8">-3</tspan></text>
<text x="1320.3" y="654.3" font-size="23.3" text-anchor="end" >4×10<tspan dy="-9.3" font-size="16.8">-3</tspan></text>
<text x="1320.3" y="600.7" font-size="23.3" text-anchor="end" >5×10<tspan dy="-9.3" font-size="16.8">-3</tspan></text>
<text x="1376.1" y="895.3" font-size="23.9" text-anchor="end" transform="rotate(-45 1376.1 895.3)" >Control</text>
<text x="1415.1" y="895.3" font-size="23.9" text-anchor="end" transform="rotate(-45 1415.1 895.3)" >sh<tspan font-style="italic">DUSP6</tspan> #1</text>
<text x="1454.1" y="895.3" font-size="23.9" text-anchor="end" transform="rotate(-45 1454.1 895.3)" >sh<tspan font-style="italic">DUSP6</tspan> #2</text>
<circle cx="1370.8" cy="726" r="4.6" fill="#737373" fill-opacity="0.9" />
<circle cx="1370.8" cy="758.6" r="4.6" fill="#737373" fill-opacity="0.9" />
<circle cx="1370.8" cy="790.1" r="4.6" fill="#737373" fill-opacity="0.9" />
<circle cx="1370.8" cy="817" r="4.6" fill="#737373" fill-opacity="0.9" />
<circle cx="1370.8" cy="833.7" r="4.6" fill="#737373" fill-opacity="0.9" />
<path d="M1353.2 785.2L1388.4 785.2M1370.8 829.1L1370.8 741.9M1361.6 829.1L1380 829.1M1361.6 741.9L1380 741.9" stroke="#000" stroke-width="1.6"/>
<circle cx="1409.8" cy="640.3" r="4.6" fill="#f08c7a" fill-opacity="0.9" />
<circle cx="1409.8" cy="732.4" r="4.6" fill="#f08c7a" fill-opacity="0.9" />
<circle cx="1396.8" cy="780" r="4.6" fill="#f08c7a" fill-opacity="0.9" />
<circle cx="1422.5" cy="774.5" r="4.6" fill="#f08c7a" fill-opacity="0.9" />
<circle cx="1409.8" cy="791" r="4.6" fill="#f08c7a" fill-opacity="0.9" />
<path d="M1392.2 743.3L1427.4 743.3M1409.8 805.4L1409.8 681.8M1400.6 805.4L1419 805.4M1400.6 681.8L1419 681.8" stroke="#000" stroke-width="1.6"/>
<circle cx="1435.8" cy="742.5" r="4.6" fill="#f8c0c0" fill-opacity="0.9" />
<circle cx="1461.8" cy="742.5" r="4.6" fill="#f8c0c0" fill-opacity="0.9" />
<circle cx="1448.8" cy="764.1" r="4.6" fill="#f8c0c0" fill-opacity="0.9" />
<circle cx="1448.8" cy="812.6" r="4.6" fill="#f8c0c0" fill-opacity="0.9" />
<circle cx="1448.8" cy="838.6" r="4.6" fill="#f8c0c0" fill-opacity="0.9" />
<path d="M1431.2 780L1466.4 780M1448.8 823.3L1448.8 736.7M1439.6 823.3L1458 823.3M1439.6 736.7L1458 736.7" stroke="#000" stroke-width="1.6"/>
<path d="M1576.4 589.3L1576.4 859.7M1562.6 859.7L1710.6 859.7M1562.6 805.9L1576.4 805.9M1562.6 752.2L1576.4 752.2M1562.6 698.4L1576.4 698.4M1562.6 644.7L1576.4 644.7M1562.6 590.9L1576.4 590.9M1604.4 859.7L1604.4 873.3M1643.4 859.7L1643.4 873.3M1682.6 859.7L1682.6 873.3" stroke="#000" stroke-width="3.2"/>
<text x="1553.6" y="868" font-size="23.3" text-anchor="end" >0.02</text>
<text x="1553.6" y="814.3" font-size="23.3" text-anchor="end" >0.03</text>
<text x="1553.6" y="760.5" font-size="23.3" text-anchor="end" >0.04</text>
<text x="1553.6" y="706.8" font-size="23.3" text-anchor="end" >0.05</text>
<text x="1553.6" y="653" font-size="23.3" text-anchor="end" >0.06</text>
<text x="1553.6" y="599.2" font-size="23.3" text-anchor="end" >0.07</text>
<text x="1498.4" y="715.3" font-size="22.6" text-anchor="middle" transform="rotate(-90 1498.4 715.3)" >Normalized liver  weight</text>
<text x="1609.7" y="894.7" font-size="23.9" text-anchor="end" transform="rotate(-45 1609.7 894.7)" >Control</text>
<text x="1648.7" y="894.7" font-size="23.9" text-anchor="end" transform="rotate(-45 1648.7 894.7)" >sh<tspan font-style="italic">DUSP6</tspan> #1</text>
<text x="1687.9" y="894.7" font-size="23.9" text-anchor="end" transform="rotate(-45 1687.9 894.7)" >sh<tspan font-style="italic">DUSP6</tspan> #2</text>
<circle cx="1604.4" cy="698.6" r="4.6" fill="#737373" fill-opacity="0.9" />
<circle cx="1591.7" cy="714.5" r="4.6" fill="#737373" fill-opacity="0.9" />
<circle cx="1617.4" cy="709.3" r="4.6" fill="#737373" fill-opacity="0.9" />
<circle cx="1604.4" cy="725.4" r="4.6" fill="#737373" fill-opacity="0.9" />
<circle cx="1604.4" cy="741.3" r="4.6" fill="#737373" fill-opacity="0.9" />
<path d="M1586.8 717.9L1622 717.9M1604.4 734.1L1604.4 701.5M1595.2 734.1L1613.6 734.1M1595.2 701.5L1613.6 701.5" stroke="#000" stroke-width="1.6"/>
<circle cx="1643.4" cy="682.7" r="4.6" fill="#f08c7a" fill-opacity="0.9" />
<circle cx="1643.4" cy="709.6" r="4.6" fill="#f08c7a" fill-opacity="0.9" />
<circle cx="1630.7" cy="736.1" r="4.6" fill="#f08c7a" fill-opacity="0.9" />
<circle cx="1643.4" cy="736.1" r="4.6" fill="#f08c7a" fill-opacity="0.9" />
<circle cx="1656.4" cy="736.1" r="4.6" fill="#f08c7a" fill-opacity="0.9" />
<path d="M1625.8 719.7L1661 719.7M1643.4 743.9L1643.4 695.7M1634.2 743.9L1652.6 743.9M1634.2 695.7L1652.6 695.7" stroke="#000" stroke-width="1.6"/>
<circle cx="1682.6" cy="714.5" r="4.6" fill="#f8c0c0" fill-opacity="0.9" />
<circle cx="1669.6" cy="730.3" r="4.6" fill="#f8c0c0" fill-opacity="0.9" />
<circle cx="1695.3" cy="730.3" r="4.6" fill="#f8c0c0" fill-opacity="0.9" />
<circle cx="1682.6" cy="741.3" r="4.6" fill="#f8c0c0" fill-opacity="0.9" />
<circle cx="1682.6" cy="763.5" r="4.6" fill="#f8c0c0" fill-opacity="0.9" />
<path d="M1665 736.1L1700.2 736.1M1682.6 754L1682.6 718.2M1673.4 754L1691.8 754M1673.4 718.2L1691.8 718.2" stroke="#000" stroke-width="1.6"/>
<text x="4" y="982" font-size="44" font-weight="bold" >f</text>
<path d="M31.2 1026L685 1026" stroke="#000" stroke-width="3" />
<text x="31.7" y="1017.5" font-size="22.5" >sAML14 CD34+ PDX</text>
<path d="M157.4 1067.7L157.4 1335.8M143.6 1335.8L357.1 1335.8M143.6 1269.2L157.4 1269.2M143.6 1202.5L157.4 1202.5M143.6 1135.9L157.4 1135.9M143.6 1069.3L157.4 1069.3M189.1 1335.8L189.1 1349.4M234.4 1335.8L234.4 1349.4M279.2 1335.8L279.2 1349.4M324.2 1335.8L324.2 1349.4" stroke="#000" stroke-width="3.2"/>
<text x="134.6" y="1344.4" font-size="24.2" text-anchor="end" >0</text>
<text x="134.6" y="1277.8" font-size="24.2" text-anchor="end" >1×10<tspan dy="-9.7" font-size="17.4">-3</tspan></text>
<text x="134.6" y="1211.2" font-size="24.2" text-anchor="end" >2×10<tspan dy="-9.7" font-size="17.4">-3</tspan></text>
<text x="134.6" y="1144.6" font-size="24.2" text-anchor="end" >3×10<tspan dy="-9.7" font-size="17.4">-3</tspan></text>
<text x="134.6" y="1078" font-size="24.2" text-anchor="end" >4×10<tspan dy="-9.7" font-size="17.4">-3</tspan></text>
<text x="46.8" y="1196.9" font-size="22.6" text-anchor="middle" transform="rotate(-90 46.8 1196.9)" >Normalized spleen weight</text>
<text x="194.4" y="1370.8" font-size="23.9" text-anchor="end" transform="rotate(-45 194.4 1370.8)" >Vehicle</text>
<text x="239.7" y="1370.8" font-size="23.9" text-anchor="end" transform="rotate(-45 239.7 1370.8)" >BCI</text>
<text x="284.5" y="1370.8" font-size="23.9" text-anchor="end" transform="rotate(-45 284.5 1370.8)" >Rux</text>
<text x="329.5" y="1370.8" font-size="23.9" text-anchor="end" transform="rotate(-45 329.5 1370.8)" >BCI + Rux</text>
<circle cx="189.1" cy="1088.6" r="4.6" fill="#f08c8c" fill-opacity="0.95" />
<circle cx="189.1" cy="1128.5" r="4.6" fill="#f08c8c" fill-opacity="0.95" />
<circle cx="189.1" cy="1162.5" r="4.6" fill="#f08c8c" fill-opacity="0.95" />
<circle cx="189.1" cy="1175.3" r="4.6" fill="#f08c8c" fill-opacity="0.95" />
<circle cx="189.1" cy="1189.1" r="4.6" fill="#f08c8c" fill-opacity="0.95" />
<circle cx="189.1" cy="1222.3" r="4.6" fill="#f08c8c" fill-opacity="0.95" />
<circle cx="189.1" cy="1242.5" r="4.6" fill="#f08c8c" fill-opacity="0.95" />
<path d="M169.7 1172.7L209.7 1172.7M189.7 1225.2L189.7 1120.4M179.7 1225.2L199.7 1225.2M179.7 1120.4L199.7 1120.4" stroke="#000" stroke-width="1.6"/>
<circle cx="234.4" cy="1135.1" r="4.6" fill="#1e9af0" fill-opacity="0.95" />
<circle cx="234.4" cy="1155.9" r="4.6" fill="#1e9af0" fill-opacity="0.95" />
<circle cx="234.4" cy="1168.9" r="4.6" fill="#1e9af0" fill-opacity="0.95" />
<circle cx="244.5" cy="1202.1" r="4.6" fill="#1e9af0" fill-opacity="0.95" />
<circle cx="224.3" cy="1208.5" r="4.6" fill="#1e9af0" fill-opacity="0.95" />
<circle cx="234.4" cy="1275.7" r="4.6" fill="#1e9af0" fill-opacity="0.95" />
<circle cx="234.4" cy="1288.7" r="4.6" fill="#1e9af0" fill-opacity="0.95" />
<circle cx="234.4" cy="1316.1" r="4.6" fill="#1e9af0" fill-opacity="0.95" />
<path d="M214.4 1218.8L254.4 1218.8M234.4 1285.8L234.4 1152.2M224.4 1285.8L244.4 1285.8M224.4 1152.2L244.4 1152.2" stroke="#000" stroke-width="1.6"/>
<circle cx="279.2" cy="1129.1" r="4.6" fill="#f5a020" fill-opacity="0.95" />
<circle cx="279.2" cy="1196.3" r="4.6" fill="#f5a020" fill-opacity="0.95" />
<circle cx="269.1" cy="1215.1" r="4.6" fill="#f5a020" fill-opacity="0.95" />
<circle cx="289.3" cy="1215.1" r="4.6" fill="#f5a020" fill-opacity="0.95" />
<circle cx="279.2" cy="1235.9" r="4.6" fill="#f5a020" fill-opacity="0.95" />
<circle cx="279.2" cy="1248.9" r="4.6" fill="#f5a020" fill-opacity="0.95" />
<circle cx="279.2" cy="1262.2" r="4.6" fill="#f5a020" fill-opacity="0.95" />
<path d="M259.2 1214.5L299.2 1214.5M279.2 1258.4L279.2 1170.9M269.2 1258.4L289.2 1258.4M269.2 1170.9L289.2 1170.9" stroke="#000" stroke-width="1.6"/>
<circle cx="324.2" cy="1129.1" r="4.6" fill="#4f1f95" fill-opacity="0.95" />
<circle cx="324.2" cy="1175.5" r="4.6" fill="#4f1f95" fill-opacity="0.95" />
<circle cx="324.2" cy="1208.5" r="4.6" fill="#4f1f95" fill-opacity="0.95" />
<circle cx="324.2" cy="1222.3" r="4.6" fill="#4f1f95" fill-opacity="0.95" />
<circle cx="334.3" cy="1242.5" r="4.6" fill="#4f1f95" fill-opacity="0.95" />
<circle cx="314.1" cy="1248.9" r="4.6" fill="#4f1f95" fill-opacity="0.95" />
<circle cx="324.2" cy="1262.7" r="4.6" fill="#4f1f95" fill-opacity="0.95" />
<circle cx="324.2" cy="1302.3" r="4.6" fill="#4f1f95" fill-opacity="0.95" />
<path d="M304.2 1223.8L344.2 1223.8M324.2 1277.7L324.2 1170.3M314.2 1277.7L334.2 1277.7M314.2 1170.3L334.2 1170.3" stroke="#000" stroke-width="1.6"/>
<path d="M481.5 1067.7L481.5 1335.8M467.7 1335.8L680.7 1335.8M467.7 1282.5L481.5 1282.5M467.7 1229.2L481.5 1229.2M467.7 1175.9L481.5 1175.9M467.7 1122.6L481.5 1122.6M467.7 1069.3L481.5 1069.3M513.2 1335.8L513.2 1349.4M558.6 1335.8L558.6 1349.4M603.3 1335.8L603.3 1349.4M648.3 1335.8L648.3 1349.4" stroke="#000" stroke-width="3.2"/>
<text x="458.7" y="1344.4" font-size="24.2" text-anchor="end" >0.02</text>
<text x="458.7" y="1291.1" font-size="24.2" text-anchor="end" >0.03</text>
<text x="458.7" y="1237.8" font-size="24.2" text-anchor="end" >0.04</text>
<text x="458.7" y="1184.5" font-size="24.2" text-anchor="end" >0.05</text>
<text x="458.7" y="1131.3" font-size="24.2" text-anchor="end" >0.06</text>
<text x="458.7" y="1078" font-size="24.2" text-anchor="end" >0.07</text>
<text x="395.7" y="1195.5" font-size="22.6" text-anchor="middle" transform="rotate(-90 395.7 1195.5)" >Normalized liver  weight</text>
<text x="518.5" y="1370.8" font-size="23.9" text-anchor="end" transform="rotate(-45 518.5 1370.8)" >Vehicle</text>
<text x="563.9" y="1370.8" font-size="23.9" text-anchor="end" transform="rotate(-45 563.9 1370.8)" >BCI</text>
<text x="608.6" y="1370.8" font-size="23.9" text-anchor="end" transform="rotate(-45 608.6 1370.8)" >Rux</text>
<text x="653.6" y="1370.8" font-size="23.9" text-anchor="end" transform="rotate(-45 653.6 1370.8)" >BCI + Rux</text>
<circle cx="513.2" cy="1126.2" r="4.6" fill="#f08c8c" fill-opacity="0.95" />
<circle cx="513.2" cy="1159.7" r="4.6" fill="#f08c8c" fill-opacity="0.95" />
<circle cx="513.2" cy="1186.8" r="4.6" fill="#f08c8c" fill-opacity="0.95" />
<circle cx="503.1" cy="1213.7" r="4.6" fill="#f08c8c" fill-opacity="0.95" />
<circle cx="523.9" cy="1211.3" r="4.6" fill="#f08c8c" fill-opacity="0.95" />
<circle cx="513.2" cy="1240.2" r="4.6" fill="#f08c8c" fill-opacity="0.95" />
<circle cx="513.2" cy="1260.4" r="4.6" fill="#f08c8c" fill-opacity="0.95" />
<path d="M493.2 1199.2L533.2 1199.2M513.2 1245.4L513.2 1153.6M503.2 1245.4L523.2 1245.4M503.2 1153.6L523.2 1153.6" stroke="#000" stroke-width="1.6"/>
<circle cx="558.6" cy="1155" r="4.6" fill="#1e9af0" fill-opacity="0.95" />
<circle cx="568.7" cy="1191.1" r="4.6" fill="#1e9af0" fill-opacity="0.95" />
<circle cx="548.5" cy="1197.8" r="4.6" fill="#1e9af0" fill-opacity="0.95" />
<circle cx="558.6" cy="1222.9" r="4.6" fill="#1e9af0" fill-opacity="0.95" />
<circle cx="548.5" cy="1247.4" r="4.6" fill="#1e9af0" fill-opacity="0.95" />
<circle cx="568.7" cy="1246" r="4.6" fill="#1e9af0" fill-opacity="0.95" />
<circle cx="558.6" cy="1259" r="4.6" fill="#1e9af0" fill-opacity="0.95" />
<circle cx="558.6" cy="1285.8" r="4.6" fill="#1e9af0" fill-opacity="0.95" />
<path d="M538.6 1225.2L578.6 1225.2M558.6 1267.6L558.6 1182.8M548.6 1267.6L568.6 1267.6M548.6 1182.8L568.6 1182.8" stroke="#000" stroke-width="1.6"/>
<circle cx="603.3" cy="1149.3" r="4.6" fill="#f5a020" fill-opacity="0.95" />
<circle cx="603.3" cy="1216.5" r="4.6" fill="#f5a020" fill-opacity="0.95" />
<circle cx="593.2" cy="1240.5" r="4.6" fill="#f5a020" fill-opacity="0.95" />
<circle cx="613.4" cy="1238.2" r="4.6" fill="#f5a020" fill-opacity="0.95" />
<circle cx="603.3" cy="1254.6" r="4.6" fill="#f5a020" fill-opacity="0.95" />
<circle cx="618.6" cy="1255.2" r="4.6" fill="#f5a020" fill-opacity="0.95" />
<circle cx="587.7" cy="1260.4" r="4.6" fill="#f5a020" fill-opacity="0.95" />
<path d="M583.3 1230.4L623.3 1230.4M603.3 1269.1L603.3 1191.4M593.3 1269.1L613.3 1269.1M593.3 1191.4L613.3 1191.4" stroke="#000" stroke-width="1.6"/>
<circle cx="648.3" cy="1174.7" r="4.6" fill="#4f1f95" fill-opacity="0.95" />
<circle cx="638.2" cy="1190.6" r="4.6" fill="#4f1f95" fill-opacity="0.95" />
<circle cx="658.5" cy="1198.6" r="4.6" fill="#4f1f95" fill-opacity="0.95" />
<circle cx="638.2" cy="1204.4" r="4.6" fill="#4f1f95" fill-opacity="0.95" />
<circle cx="648.3" cy="1218" r="4.6" fill="#4f1f95" fill-opacity="0.95" />
<circle cx="648.3" cy="1236.7" r="4.6" fill="#4f1f95" fill-opacity="0.95" />
<circle cx="658.5" cy="1258.4" r="4.6" fill="#4f1f95" fill-opacity="0.95" />
<circle cx="638.2" cy="1267.6" r="4.6" fill="#4f1f95" fill-opacity="0.95" />
<path d="M628.3 1218.6L668.3 1218.6M648.3 1251.2L648.3 1185.6M638.3 1251.2L658.3 1251.2M638.3 1185.6L658.3 1185.6" stroke="#000" stroke-width="1.6"/>
<text x="738" y="1042.5" font-size="44" font-weight="bold" >g</text>
<text x="942.8" y="1032" font-size="22.6" text-anchor="middle" >Flushed mouse</text>
<text x="942.8" y="1059.6" font-size="22.6" text-anchor="middle" >bone marrow</text>
<text x="954.6" y="1345.6" font-size="22.6" text-anchor="middle" >tSNE 1</text>
<text x="820.2" y="1190.8" font-size="22.6" text-anchor="middle" transform="rotate(-90 820.2 1190.8)" >tSNE 2</text>
<text x="774.8" y="1278.7" font-size="18.5" text-anchor="end" font-weight="bold" style="fill:#4d4d4d" >hCD45</text>
<text x="774.8" y="1303" font-size="18.5" text-anchor="end" font-weight="bold" style="fill:#4d4d4d" >mCD45</text>
<rect x="783.5" y="1263.5" width="26" height="15.6" fill="#2878b8" stroke="#222" stroke-width="1"/>
<rect x="783.5" y="1288" width="26" height="15.8" fill="#ff7f0e" stroke="#222" stroke-width="1"/>
<path d="M954.6 1102.9Q962.5 1101.5 975.6 1102.2Q988.7 1102.9 999.2 1109.4Q1009.7 1116 1018.9 1123.9Q1028.1 1131.7 1034.6 1144.9Q1041.2 1158 1045.8 1169.8Q1050.4 1181.6 1051 1193.4Q1051.7 1205.2 1047.8 1218.3Q1043.8 1231.5 1037.3 1242Q1030.7 1252.5 1022.8 1263Q1015 1273.5 1008.4 1276.1Q1001.8 1278.7 997.9 1273.5Q994 1268.2 986.1 1264.9Q978.2 1261.7 971.7 1258.4Q965.1 1255.1 961.2 1248.5Q957.2 1242 950.7 1242.6Q944.1 1243.3 937.5 1243.9Q931 1244.6 924.4 1242Q917.8 1239.3 913.9 1235.4Q910 1231.5 906 1223.6Q902.1 1215.7 900.8 1206.5Q899.5 1197.3 897.5 1188.2Q895.5 1179 897.5 1168.5Q899.5 1158 903.4 1148.8Q907.3 1139.6 911.3 1131.7Q915.2 1123.9 923.1 1117.3Q931 1110.7 938.8 1107.5Q946.7 1104.2 954.6 1102.9Z" fill="#ff7f0e"/>
<path d="M940.2 1251.8Q937.5 1248.5 942.1 1246.6Q946.7 1244.6 951.3 1247.2Q955.9 1249.8 958.5 1253.8Q961.2 1257.7 956.6 1257.7Q952 1257.7 947.4 1256.4Q942.8 1255.1 940.2 1251.8Z" fill="#ff7f0e"/>
<path d="M1002.4 1277.4h2M936.5 1245.2h2M918.7 1244.3h2M1019.8 1125.3h2M948.5 1243.1h2M928.5 1111.7h2M1021.1 1268h2M1049 1180h2M895.6 1173.7h2M935.4 1244.7h2M1040.6 1155.7h2M1044 1229.7h2M1044.1 1226.6h2M915.7 1238.2h2M920.8 1114.8h2M977.5 1262.4h2M998.4 1107.9h2M1027.1 1134h2M1045.9 1164.5h2M1004.6 1113.5h2M1032.4 1138.1h2M946.5 1246h2M968.1 1101.4h2M897.4 1193.8h2M988 1268h2M918.4 1241.4h2M937.5 1106.2h2M992.3 1269.1h2M995.4 1272.1h2M953.3 1102.1h2M895.7 1193.1h2M958.4 1252.3h2M898.5 1151h2M939.8 1105.7h2M1044.5 1168.7h2M899 1144.2h2M961.7 1252.8h2M902.7 1225.6h2M903.1 1227.2h2M937.8 1246.1h2M956.4 1244.9h2M945.7 1245h2M1038.5 1240.1h2M945.6 1245.7h2M1032.5 1248.7h2M901 1150.9h2M975.9 1262.9h2M998 1276h2M988.2 1266.9h2M962 1101.8h2M999.9 1108.8h2M1051.2 1190h2M1031.6 1255h2M958.3 1247h2M934.9 1246.4h2M1011.6 1274.8h2M949.3 1102.5h2M899.5 1206.1h2M998.7 1275.8h2M1009.5 1277.3h2M937 1246.2h2M1040.7 1159h2M1016.2 1276.6h2M901.7 1228.5h2M947.8 1102.8h2M901.2 1140.4h2M912.8 1127.3h2M946.1 1101.5h2M1042.6 1238h2M1045 1229.6h2M985.4 1103.3h2M1028.9 1255.9h2M1007.8 1275.9h2M1033.1 1250.9h2M945.4 1247.9h2M895.5 1173.6h2M1051.4 1200.5h2M983.4 1268.6h2M990.9 1105.6h2M898.7 1201.5h2M904.9 1140.4h2M1021.3 1265.1h2M906.8 1134.5h2M1049.7 1178.8h2M907.5 1134.4h2M932.8 1109.8h2M949.7 1243.7h2M1044.8 1167.1h2M942.9 1101.8h2M1036.8 1144.1h2M925.8 1244.2h2M952.1 1246.9h2M1038.8 1239.5h2M967.8 1257.2h2M1045.2 1226.1h2M976.4 1100.3h2M933.3 1244.1h2M902 1217.2h2M891.6 1180.6h2M991.8 1105.4h2M900.5 1143.8h2M1049.2 1181.4h2M1033 1141.3h2M917.5 1120.6h2M954.7 1249h2M996.2 1103.6h2M995.9 1280h2M984.4 1101.9h2M907.2 1136h2M921.1 1116.2h2M1045.6 1170.7h2M916.8 1239.7h2M1024.7 1124.3h2M891.9 1177.2h2M913.6 1126.1h2M911.6 1235.8h2M959.9 1249.4h2M1039.1 1241.9h2M938.3 1107.2h2M1018.5 1271.1h2M946.8 1104h2M953.4 1100.8h2M1050.5 1192.6h2M939.9 1244.1h2M976.1 1262.5h2M896.1 1188h2M907.5 1136.4h2M915.8 1123.5h2M1046.2 1169h2M989.9 1267.5h2M908.5 1234.3h2M1042.2 1163h2M1012.4 1118.9h2M1048.4 1172.2h2M1048.8 1214.7h2M993.3 1273.2h2M965.7 1257.3h2M987.5 1266.5h2M897.8 1209.4h2M898.9 1209.7h2M949.3 1243.7h2M987.8 1268.5h2M974.5 1102h2M1019.2 1267h2M945.8 1245.6h2M1005.9 1278.9h2M896.7 1195.6h2M1041.8 1159.5h2M1051.1 1185.9h2M961.4 1251.5h2M1050 1205.6h2M1026.8 1256.5h2M1038.4 1239.7h2M917.9 1116.7h2M1051 1202.7h2M931.2 1245.6h2M932.5 1244.7h2M904.1 1144.5h2M956.9 1249.7h2M896.4 1200.4h2M895.3 1202.2h2M925.3 1247.9h2M1041.4 1234.5h2M1000.3 1278.8h2M893.2 1180.9h2M980.7 1263.4h2M1043.5 1162.8h2M1046.6 1174.2h2M981 1102.5h2M1005.4 1113.5h2M981.3 1264.2h2M980.8 1100.5h2M1013.9 1120.2h2M1021.3 1123.1h2M1036.6 1248.1h2M1020.9 1267.3h2M942.1 1105.2h2M945.6 1103.8h2M937.5 1104.8h2M1028.5 1133h2M1012.9 1119.1h2M1014.2 1271.8h2M1034.6 1142.9h2M895.5 1193.7h2M950.7 1102.4h2M933.5 1247.3h2M951.8 1097.1h2M902.4 1145.6h2M1001.3 1282.2h2M1021.9 1127.3h2M1044.6 1163.3h2M971.1 1259.9h2M906.5 1134.3h2M958.8 1248.9h2M896.7 1197.8h2M895 1162.4h2M999.8 1278.4h2M910.2 1233.7h2M965.8 1099.7h2M961.5 1258.6h2M1050 1190.5h2M978.3 1262.2h2M898.5 1206.3h2M1048.1 1221h2M1047.6 1172.1h2M896.8 1198.8h2M994.1 1273.5h2M894.9 1171.1h2M955.9 1100.6h2M894.5 1190.1h2M1014.9 1275.5h2M1004.4 1280h2M898 1199.3h2M1020.2 1120.8h2M948.7 1103.6h2M911.3 1239.2h2M949.5 1243.8h2M945.8 1245.3h2M965.1 1097.4h2M1002.6 1277.8h2M993.7 1273.5h2M914.5 1237.2h2M1018 1272.8h2M1023.2 1125.7h2M1021 1126.2h2M1012.6 1273.3h2M956.2 1098.2h2M893.8 1186.2h2M1034.6 1143.6h2M1035.7 1142.5h2M992.4 1106.2h2M895.5 1189.7h2M1010 1279.7h2M939.9 1248.3h2M904.3 1142.2h2M994.9 1105.6h2M899 1217.2h2M947.5 1102.1h2M1042.4 1230.4h2M1033.4 1254.7h2M929.6 1106.1h2M993.9 1272.1h2M1045.1 1229.5h2M924.2 1113h2M994 1272.9h2M907 1227.9h2M941.6 1245.6h2M1023.3 1261.8h2M910.9 1234.2h2M981 1102.5h2M967.4 1100.5h2M981.5 1102.6h2M924.8 1111.2h2M946.9 1246h2M911.3 1127h2M977.8 1262.5h2M1043.6 1233.6h2M950.3 1243.2h2M952.2 1102.2h2M908.5 1133.8h2M998.8 1276.4h2M990.3 1268.3h2M1025.3 1260.4h2M1030.1 1252.8h2M961.3 1101.9h2M1052.1 1192.1h2M1025.5 1260.3h2M943.9 1103h2M1027.5 1260.7h2M898.2 1203.9h2M898 1197.7h2M1050.6 1192.1h2M898.3 1159.7h2M954.7 1244.6h2M974.7 1100.5h2M926 1244.1h2M1020.6 1125.6h2M1034.6 1145.2h2M1050.8 1178.9h2M972.4 1261.8h2M908.4 1235.7h2M991.6 1272.1h2M991 1269.4h2M1050.9 1204.2h2M1037.7 1242.4h2M1035.1 1137.5h2M969.2 1261.4h2M909.6 1235.9h2M986.8 1266.3h2M950.3 1243.1h2M1001.7 1277h2M926 1245h2M1028.8 1131.6h2M1052.1 1201.1h2M898.2 1209.1h2M952.6 1244.7h2M924.3 1244.1h2M1013.6 1272.9h2M910 1235.4h2M998.2 1279.1h2M957.3 1248.9h2M911.7 1235.1h2M961.2 1254.1h2M1049.3 1211.6h2M923.4 1113h2M1012.1 1273.7h2M1029.9 1253.1h2M894.9 1172.2h2M909 1231.7h2M967.9 1100.1h2M984.2 1102.7h2M983.4 1103h2M958.4 1100.6h2M976.8 1262.2h2M962.7 1254.5h2M1021.8 1263.2h2M920.4 1117h2M947.5 1245.3h2M1039.7 1151.1h2M958.4 1248.9h2M894 1174.4h2M1028 1128.6h2M1046.3 1220.5h2M973.6 1098.9h2M1051.9 1204.7h2M947.4 1103.6h2M955.9 1246.7h2M1028.3 1133.5h2M980.8 1101.7h2M1040.2 1238.9h2M920 1118.2h2M1051 1222.1h2M962.8 1255.9h2M895.3 1164.6h2M920.5 1118.1h2M897.6 1158.2h2M1037.3 1243.6h2M895.9 1157.5h2M904.4 1229.8h2M946 1104.2h2M944.4 1244h2M1050.5 1181h2M910.8 1128.8h2M1041.5 1157.2h2M1042.7 1164.5h2M906.6 1136.7h2M991.1 1271.5h2M987.3 1266.7h2M965.1 1255.2h2M1039.9 1155.7h2M910 1233.7h2M914.1 1241.8h2M999.9 1279.2h2M994.5 1270.8h2M890.9 1182.7h2M989.1 1267.3h2M1030.2 1136.1h2M1016.7 1121.2h2M1044.4 1229.3h2M1030.2 1133.5h2M1032.1 1136.9h2M952 1243.7h2M1050.3 1196.9h2M918.9 1120h2M979.8 1102.1h2M1017.2 1275.3h2M1016.7 1119.2h2M976.8 1100.9h2M1056.6 1199.4h2M958.4 1248h2M939.8 1244.8h2M1007.7 1111.8h2M1037.5 1150.4h2M989.7 1270.1h2M993 1272.8h2M985.8 1102.8h2M979 1263.1h2M910.3 1233.1h2M894.1 1161.8h2M929.1 1109.9h2M911.5 1128.7h2M995.3 1104.9h2M1041.7 1234.9h2M892.9 1180.9h2M902.3 1145.3h2M999.7 1279.2h2M902.1 1225.5h2M1041.7 1235h2M1020 1120.7h2M894.2 1189.1h2M973.2 1259.9h2M1005.7 1276.7h2M892.9 1171h2M903.2 1221.4h2M939.6 1103.1h2M908.5 1235.3h2M1049.3 1225.3h2M914 1239.6h2M1039.7 1236.6h2M994.8 1273.3h2M1003.1 1109.1h2M993.7 1271.2h2M929.2 1110.6h2M1028.9 1256.4h2M1049.1 1212.7h2M907.5 1134.9h2M1052.9 1192.8h2M996.2 1273.8h2M1014.5 1120.2h2M1028.3 1131.2h2M1039.2 1153h2M1030.4 1129.8h2M1044.7 1225.3h2M1032.1 1250.2h2M986.3 1104h2M907.5 1135.4h2M967.7 1258h2M1041.5 1234.7h2M900.8 1149.2h2M896.5 1191.9h2M944.9 1102.7h2M894.9 1189.4h2M922.6 1244.9h2M942.6 1100.8h2M1032 1140.9h2M955.7 1245.9h2M954.8 1245.7h2M930.1 1111.3h2M914.1 1236.8h2M927.6 1109h2M899.5 1152.7h2M988.1 1269.9h2M914.9 1123.7h2M1009.9 1115.8h2M906.6 1132.5h2M921.2 1243h2M1032.8 1248.4h2M964.6 1256.2h2M1050.7 1205.9h2M929.3 1110.9h2M895 1188.2h2M1045.1 1224.3h2M932.1 1107.9h2M903.8 1145.1h2M895.5 1172.9h2M925.1 1245.3h2M958 1248.3h2M918.3 1240.4h2M945.6 1103.2h2M894.7 1188h2M957.3 1101.7h2M1002.2 1279.9h2M910.5 1129.7h2M970 1259h2M953.9 1101.4h2M1033.5 1246.7h2M988.3 1269.5h2M1034.7 1145.1h2M1044.8 1236.7h2M908.5 1134h2M1027.7 1133.2h2M908.9 1233.9h2M932 1244.5h2M918.7 1119.3h2M936.2 1106.9h2M1002.5 1278.1h2M1004 1110.4h2M936.9 1244.6h2M903.7 1221.2h2M992.1 1268.8h2M989 1100.9h2M894.8 1173.5h2M1011.9 1117h2M952 1099.2h2M950 1243.5h2M1028.9 1254.1h2M923 1243h2M983.9 1101.8h2M998.1 1276.8h2M940.8 1105.6h2M907.2 1134.3h2M1037.9 1245.1h2M958.3 1248.5h2M898.4 1156.2h2M894.1 1173.9h2M894.4 1174.7h2M1022.8 1265.8h2M972.8 1101.6h2M934.1 1106.4h2M950.6 1100.4h2M997.2 1276.1h2M995.9 1106.8h2M1006.9 1276.3h2M900.5 1148.7h2M899.1 1204.1h2M920.2 1240.6h2M991.6 1269.3h2M907 1135.6h2M1000.4 1279.4h2M917.9 1244.1h2M1019.2 1266.5h2M936.2 1244.5h2M896.7 1190.5h2M933.2 1245.6h2M1009 1116.2h2M956.9 1244.7h2M921.8 1241.7h2M948.5 1101.6h2M1047.4 1224.5h2M904.3 1222.6h2M996.9 1107.1h2M1050.9 1196.5h2M1024.5 1267h2M1051.1 1205.3h2M951.5 1097.9h2M907.9 1135.5h2M1051 1204.2h2M922.6 1242.2h2M1036.5 1243.1h2M1024.3 1262.5h2M924.5 1114.1h2M896.3 1208.4h2M1050.1 1207.5h2M1026.3 1124.7h2M957 1246.2h2M899.9 1153.2h2M900.3 1149.1h2M947.3 1243h2M938.7 1244.5h2M951.5 1247.6h2M1048.7 1221.6h2M908.9 1231.9h2M967.7 1101h2M990 1104.5h2M895.6 1180.6h2M947.5 1103.1h2M1029.9 1136.1h2M895.1 1171.7h2M893.8 1170.3h2M967.8 1101.5h2M995.5 1105.9h2M900.1 1153.8h2M893.6 1189.5h2M911.4 1128h2M1006.3 1277h2M1035 1147h2M897.3 1196.1h2M899.4 1146.4h2M907 1136.4h2M973.8 1099.7h2M898.3 1206.6h2M1006.4 1114.8h2M988.6 1267.4h2M896.8 1191.2h2M1007.1 1277.7h2M1046.1 1223.9h2M1012 1117.8h2M1031.7 1258.8h2M990.5 1269h2M904.8 1141.4h2M1029.2 1134.7h2M913.1 1125.6h2M1050.4 1194.8h2M951.2 1243h2M943 1244.8h2M960.7 1250h2M1004.9 1280.5h2M1003.6 1111h2M970.1 1101.5h2M894.8 1194.5h2M893.8 1194.9h2M897.8 1195.3h2M1008.5 1275.6h2M894 1177.7h2M941.5 1248.2h2M1052.7 1207.2h2M967.3 1100.4h2M948.3 1102.6h2M952.8 1242.8h2M1036.5 1251.7h2M1044.7 1166.5h2M1004.5 1277.5h2M1048.6 1172.4h2M993.6 1100.6h2M934.4 1105.9h2M929.9 1109.6h2M1052.8 1189.2h2M965.2 1256.7h2M1008.3 1115.2h2M1048 1213.7h2M905.2 1140.2h2M990.5 1269.1h2M997.4 1278.6h2M895.8 1199.3h2M986.9 1267.6h2M938.8 1106.8h2M922.3 1241.5h2M926.8 1246.9h2M1033.9 1247.3h2M1032.3 1248.7h2M937.6 1248.7h2M929.3 1111.6h2M1041.6 1160.5h2M924.7 1110.2h2M949.7 1243.8h2M908.1 1132.5h2M898.1 1160.6h2M903 1146.2h2M897.7 1202.6h2M1030.7 1136.6h2M892.6 1168.5h2M1000.7 1110.2h2M894.5 1159.1h2M1008.3 1277.9h2M911.9 1237.8h2M1019.5 1124.8h2M912.9 1122.4h2M915.9 1241.7h2M897.9 1147.7h2M1050.6 1205.8h2M1050.8 1181h2M985.6 1102.9h2M1004.3 1278.9h2M984.4 1266.4h2M918.3 1119.2h2M1049.8 1183.3h2M904.5 1132.7h2M927.4 1111h2M995 1276h2M1024 1123.1h2M1009.5 1275.4h2M897.4 1201.3h2M994.4 1276.7h2M903.8 1227.5h2M929.5 1243.9h2M975.6 1102.1h2M1038.2 1151h2M942.8 1104.6h2M930 1110.4h2M904.2 1141.4h2M966.6 1258.2h2M902.7 1140.2h2M947.2 1103h2M1049.8 1215.6h2M908.5 1131.8h2M938.3 1102.9h2M948 1103.3h2M927.4 1113.1h2M1050.1 1180.5h2M968.3 1258.8h2M1006.5 1278.3h2M955 1102.6h2M1025.7 1261.7h2M977.7 1263.7h2M956.3 1100.1h2M963.4 1253.3h2M987.7 1268.2h2M907.4 1236.8h2M1038.3 1153.7h2M1001.5 1277.6h2M925.3 1245.3h2M1000 1277.1h2M974.3 1260.2h2M899.3 1207.2h2M944.7 1104.8h2M1010.1 1116.3h2M1032.3 1139.3h2M1041.3 1158.9h2M1052.3 1200.2h2M974.4 1262.2h2M971 1100.8h2M1050.6 1187.2h2M893.7 1189.7h2M972.8 1101.1h2M963.6 1100.1h2M997.1 1274.9h2M988.6 1104.8h2M1050.6 1186.3h2M1008.5 1283.1h2M1048.8 1210.5h2M906.8 1232.8h2M1028.2 1254.4h2M917.4 1244.3h2M1012.3 1118.5h2M958.3 1249.8h2M936 1104.9h2M1018.9 1122.3h2M909.2 1230.9h2M893.6 1198.5h2M950.5 1244.1h2M983.3 1266.8h2M971.7 1099.6h2M895.8 1194.6h2M1046.8 1221.6h2M1049.6 1176.9h2M1030.5 1255.4h2M906.1 1227.5h2M906.3 1231h2M1050.6 1185.7h2M921.2 1115.5h2M962.5 1257.5h2M892.9 1168.2h2M907.7 1228.9h2M1049.7 1188.7h2M1034.4 1140.7h2M998.2 1281.5h2M971.6 1096.6h2M1030.1 1133.6h2M990.5 1104.3h2M989.1 1267.5h2M1042.8 1163h2M1041.9 1235.7h2M903.1 1219.3h2M958.8 1247h2M1003.7 1278.4h2M994.2 1107.1h2M1048.3 1181h2M1046.8 1225h2M1027.9 1254.7h2M965.4 1256.3h2M897.2 1206.3h2M1052.7 1195.4h2M950 1243.8h2M895.3 1183.8h2M901.6 1144.8h2M968.5 1263.7h2M960.5 1249.4h2M1033.3 1250.5h2M1014.8 1119.7h2M980.1 1263.1h2M897.9 1210.4h2M965 1254.6h2M917.5 1118.8h2M948.2 1102h2M905.5 1136.3h2M897.6 1158h2M895.1 1165.2h2M894.2 1182.7h2M1000.6 1276.7h2M944.4 1244.8h2M962.8 1255.3h2M1001.8 1277.4h2M1052 1191.7h2M901.6 1219.8h2M958 1249.1h2M1046.1 1225h2M962.6 1252.8h2M977.7 1102.1h2M942 1243.6h2M1050.4 1181.6h2M907 1129h2M1018.6 1120.1h2M1002.8 1112.4h2M957.1 1252.4h2M933.8 1245.2h2" stroke="#ff7f0e" stroke-width="2"/>
<path d="M942.4 1106.1h1.8M1037.1 1235.9h1.8M1031.7 1142.6h1.8M992.4 1112.4h1.8M987.4 1105.7h1.8M1048.3 1187.2h1.8M1045.7 1206.4h1.8M1016 1269.8h1.8M986.5 1104.8h1.8M926.5 1116.1h1.8M904.9 1221.8h1.8M1014.7 1124.3h1.8M996.5 1111.7h1.8M897.6 1179.5h1.8M905.3 1216.5h1.8M1032.6 1153.4h1.8M965.3 1253.5h1.8M1020.1 1264h1.8M900.3 1207.2h1.8M1032.8 1243h1.8M908.3 1136.1h1.8M899.5 1167.5h1.8M1039.6 1234.5h1.8M928.5 1237h1.8M926.5 1117.2h1.8M1002.6 1270.4h1.8M925 1120.5h1.8M904.2 1146.1h1.8M905.7 1222.6h1.8M971.9 1103.7h1.8M996.6 1111.2h1.8M1039.2 1164.9h1.8M914 1234.8h1.8M956.5 1239.3h1.8M961.8 1246.1h1.8M1047.2 1205.4h1.8M959.7 1247.2h1.8M1003.8 1114.6h1.8M1012.3 1273.2h1.8M1040.8 1162.9h1.8M1043.3 1223.2h1.8M1021.9 1133.1h1.8M895.8 1175.4h1.8M930.5 1242.9h1.8M997 1111.9h1.8M1025.1 1252h1.8M1012.7 1121h1.8M1031.3 1145.5h1.8M1028.3 1137.1h1.8M1006.7 1275.5h1.8M966 1102.1h1.8M959 1243.5h1.8M943.5 1239.9h1.8M996.2 1271.9h1.8M1010.6 1121.2h1.8M1020.5 1263.8h1.8M1048.3 1191.5h1.8M1010.6 1119h1.8M913.6 1129h1.8M1041.9 1163.8h1.8M898.1 1164.6h1.8M902 1201.4h1.8M917.8 1237.6h1.8M911.1 1131.3h1.8M926.5 1241.4h1.8M1008.5 1119.7h1.8M984.6 1263.1h1.8M1039.7 1159h1.8M900.8 1207.6h1.8M938.6 1243.2h1.8M952.9 1242.5h1.8M947.1 1242.8h1.8M1009.1 1117.6h1.8M993 1266.2h1.8M1028.4 1139.6h1.8M998 1274.3h1.8M1002.5 1275.9h1.8M1005.3 1115.9h1.8M933.4 1240.2h1.8M963.7 1248.9h1.8M915.5 1237h1.8M1047.1 1181.6h1.8M1038.4 1233.8h1.8M937.9 1112.6h1.8M914.1 1128.1h1.8M1014.3 1121.6h1.8M984.3 1264.5h1.8M1048.5 1210.6h1.8M1020.6 1264.4h1.8M925.1 1241h1.8M1023.6 1259.5h1.8M963.9 1246.6h1.8M962.6 1103.7h1.8M978.4 1259.7h1.8M954.2 1243h1.8M1009 1272.3h1.8M961.2 1249.6h1.8M929.2 1113.5h1.8M936.3 1243.2h1.8M976.6 1257.2h1.8M916.8 1124.3h1.8M916.1 1128.2h1.8M993 1108.4h1.8M908.5 1136.1h1.8M949.8 1104.7h1.8M955.9 1104h1.8M990.1 1107.6h1.8M973.6 1105.2h1.8M973.1 1259.3h1.8M1024.7 1255.6h1.8M935.7 1108.5h1.8M1042.9 1225.7h1.8M919.2 1122.3h1.8M939.4 1243.6h1.8M1040.9 1233.7h1.8M1024.4 1131.4h1.8M1046 1183.8h1.8M910.4 1230.9h1.8M897.1 1189.4h1.8M1049.1 1189.7h1.8M1047.4 1215.8h1.8M1034.1 1239.9h1.8M936.4 1110.4h1.8M1020 1265h1.8M907.1 1142.6h1.8M916.9 1236h1.8M997.2 1111.5h1.8M938.1 1112.9h1.8M941.9 1241.2h1.8M901.5 1210.2h1.8" stroke="#fff" stroke-width="1.8"/>
<path d="M882.6 1255.1h2.2M894.4 1249.8h2.2M887.9 1263h2.2M908.9 1255.1h2.2M922 1249.8h2.2M929.9 1257.7h2.2M953.5 1268.2h2.2M961.4 1273.5h2.2M969.2 1294.5h2.2M977.1 1299.7h2.2M944.3 1301.8h2.2M981.1 1287.9h2.2M883.9 1256.4h2.2M895.8 1251.2h2.2M958.7 1265.6h2.2M962.7 1272.2h2.2M927.2 1259h2.2M919.4 1252.5h2.2M966.6 1276.1h2.2M974.5 1297.1h2.2M911.5 1257.7h2.2M898.4 1252.5h2.2M956.1 1263h2.2M964 1268.2h2.2M971.9 1291.8h2.2M983.7 1289.2h2.2M880 1264.3h2.2M935.1 1252.5h2.2M932.5 1255.1h2.2" stroke="#ff7f0e" stroke-width="2.2"/>
<path d="M985.4 1141.1h1.5M963.9 1249.7h1.5M993.9 1199.7h1.5M948 1234.8h1.5M996.2 1227h1.5M1027.7 1166.3h1.5M1047.4 1214h1.5M928.9 1219.6h1.5M925.6 1130.8h1.5M984.1 1165.3h1.5M945.8 1132.7h1.5M1008.3 1131.4h1.5M917.8 1168.1h1.5M1033.9 1158.4h1.5M965.9 1110.2h1.5M986.1 1241.6h1.5M985.5 1114.5h1.5M934.1 1135.1h1.5M1023.2 1189.8h1.5M1007.9 1236.3h1.5M1001.9 1253.5h1.5M950.3 1195.4h1.5M1010 1229.8h1.5M925.2 1150.3h1.5M951.8 1137.7h1.5M1003.7 1231.6h1.5M954.4 1124.7h1.5M1029 1188.4h1.5M986.6 1131.3h1.5M921 1211.1h1.5M992.5 1222.2h1.5M981.3 1128.4h1.5M912.9 1210h1.5M941.8 1117.9h1.5M1025.3 1181.5h1.5M943.1 1134.5h1.5M953.6 1212.7h1.5M994.1 1125.7h1.5M912.8 1227.5h1.5M916.7 1224.3h1.5M1003.7 1155h1.5M917.9 1152.5h1.5M1002.2 1186.7h1.5M993.7 1255.9h1.5M963.1 1196.9h1.5M962.4 1242.5h1.5M940.5 1149.8h1.5M1043.2 1191.3h1.5M928.3 1155.8h1.5M971.2 1239.8h1.5M974.3 1163.1h1.5M977.5 1211h1.5M1016.9 1240.9h1.5M1008.7 1172.4h1.5M932 1188.8h1.5M931.5 1235.3h1.5M969.2 1134.8h1.5M1042.3 1216.1h1.5M944.5 1201.8h1.5M958.4 1123.9h1.5M949.1 1205.6h1.5M1027.5 1157.6h1.5M1022.7 1254h1.5M952 1240.3h1.5M928.9 1198.6h1.5M988.5 1258.3h1.5M1007.7 1132.3h1.5M1003.8 1119.4h1.5M1045.6 1178.3h1.5M975 1247.4h1.5M1009.5 1178.5h1.5M954.1 1214.5h1.5M970.4 1150.9h1.5M923.6 1227.9h1.5M991.7 1136.3h1.5M1000.1 1187.1h1.5M1031.6 1179.8h1.5M1034.2 1214.8h1.5M923.9 1178.3h1.5M997.9 1205.8h1.5M958.2 1120.9h1.5M931.7 1156h1.5M989.8 1258.4h1.5M937.3 1138.5h1.5M946.4 1134.5h1.5M940.9 1144.9h1.5M1032.6 1174.5h1.5M1015.3 1252.4h1.5M925.7 1232.7h1.5M973 1187.8h1.5M912.9 1141.9h1.5M958.7 1157.2h1.5M964 1215.7h1.5M984.3 1141.6h1.5M968.2 1210h1.5M1022.8 1232.4h1.5M1004.4 1204.2h1.5M984 1234.1h1.5M939.2 1111.4h1.5M980.8 1123.4h1.5M1005.5 1258.6h1.5M970 1104.4h1.5M945.9 1187.4h1.5M931.7 1136.2h1.5M1024.1 1254.4h1.5M970.4 1213h1.5M964.7 1103.3h1.5M951.1 1169h1.5M1010.5 1192.9h1.5M942.1 1114.6h1.5M915.7 1154h1.5M1021 1222.1h1.5M932.4 1118.7h1.5M999.6 1275.3h1.5M951.5 1237.8h1.5M1038 1225h1.5M995.9 1213.2h1.5M1013.2 1257.9h1.5M926.1 1183.2h1.5M977.8 1179.8h1.5M962.9 1137.5h1.5M976.9 1226.2h1.5M962.7 1192.8h1.5M987.5 1247.3h1.5M991.7 1215.7h1.5M931.1 1170.4h1.5M995 1165.5h1.5M994.1 1132.5h1.5M930.5 1150.1h1.5M995.6 1217.8h1.5M1020.2 1260.7h1.5M971.2 1235h1.5M924 1241.5h1.5M966.4 1190.5h1.5M1024.1 1243.3h1.5M960.6 1241.2h1.5M980.2 1213.4h1.5M1023.8 1198.6h1.5M994.3 1115.1h1.5M971.4 1204.4h1.5M985.7 1216.6h1.5M952.4 1113h1.5M925.3 1177h1.5M989.7 1140.1h1.5M1027 1252.3h1.5M1004.5 1153h1.5M990.1 1106.6h1.5M973.5 1159.2h1.5M986.7 1213.5h1.5M980.9 1119.2h1.5" stroke="#fff" stroke-width="1.5"/>
<path d="M846.3 1188.2Q847 1181.6 852.2 1178.3Q857.5 1175 865.4 1174.4Q873.2 1173.7 876.5 1176.4Q879.8 1179 881.8 1186.9Q883.7 1194.7 887 1203.9Q890.3 1213.1 891.6 1219.7Q892.9 1226.2 888.3 1232.1Q883.7 1238 878.5 1234.8Q873.2 1231.5 868 1227.5Q862.7 1223.6 857.5 1217Q852.2 1210.5 849 1202.6Q845.7 1194.7 846.3 1188.2Z" fill="#2878b8"/>
<path d="M875.3 1175.9h1.9M891.4 1221h1.9M852.7 1177.1h1.9M881.8 1191.6h1.9M850.2 1215h1.9M882 1232.9h1.9M889.8 1212.5h1.9M844.7 1191.9h1.9M889.9 1228.2h1.9M885 1233.8h1.9M863.2 1223.4h1.9M882.1 1187.2h1.9M845.2 1183h1.9M882.4 1180.1h1.9M846.1 1190.9h1.9M857.7 1175.8h1.9M874.3 1176.2h1.9M883.9 1235.4h1.9M853.3 1179.5h1.9M888.5 1226.3h1.9M878.9 1184h1.9M885.2 1233h1.9M847 1192.3h1.9M877.8 1178.3h1.9M885.8 1200.5h1.9M883.3 1200h1.9M849.1 1181.2h1.9M858.3 1174.9h1.9M885.5 1201.1h1.9M890.5 1229.9h1.9M846.2 1182.6h1.9M890.5 1219.6h1.9M875.1 1172.7h1.9M890.6 1215.4h1.9M891.9 1224.6h1.9M888.3 1217h1.9M856.8 1176.6h1.9M883.6 1204.8h1.9M855.3 1216.7h1.9M847 1200.1h1.9M865.2 1226.7h1.9M891.8 1218.5h1.9M846.3 1181.2h1.9M854.3 1215.3h1.9M869.8 1232.5h1.9M881.9 1237.3h1.9M845 1189h1.9M865.4 1175h1.9M849.6 1208.2h1.9M875.7 1177.2h1.9M887.4 1213.2h1.9M877 1178.6h1.9M858.5 1173h1.9M883.7 1199.9h1.9M883.5 1237.3h1.9M845.6 1200.5h1.9M844.9 1194.2h1.9M876.9 1179h1.9M845.2 1192h1.9M880.7 1192.5h1.9M888.7 1211.6h1.9M861.9 1224.3h1.9M873.7 1231.2h1.9M855.4 1216.8h1.9M888.2 1211.3h1.9M850.3 1201.2h1.9M846.7 1182.1h1.9M847.2 1204.2h1.9M850.2 1207.4h1.9M874.4 1234.1h1.9M847.2 1182.4h1.9M876.6 1235.5h1.9M858.8 1176.5h1.9M884.8 1198.4h1.9M878.3 1237.8h1.9M887.4 1212.6h1.9M877.4 1177.3h1.9M884.1 1233.3h1.9M858.3 1176.2h1.9M866.6 1229.6h1.9M889.4 1225.9h1.9M856.5 1215h1.9M888.1 1211h1.9M880.2 1236.9h1.9M867 1224.4h1.9M850.1 1206.2h1.9M858.8 1221.2h1.9M860.9 1224.9h1.9M890 1227.9h1.9M867.8 1176.8h1.9M881.9 1184.1h1.9M862.8 1225.2h1.9M845 1186h1.9M857.6 1173.8h1.9M849.8 1182.5h1.9M871.4 1175.1h1.9M866.3 1173.9h1.9M852.6 1177.2h1.9M867.9 1226.1h1.9M875.6 1176.6h1.9M887.8 1209.2h1.9M876 1175.1h1.9M850.8 1206.7h1.9M884.6 1200.5h1.9M848.5 1202.6h1.9M889.4 1214.6h1.9M863.3 1174.7h1.9M844 1186.8h1.9M875.3 1234.1h1.9M848.4 1178.7h1.9M890.5 1229.5h1.9M890 1229.3h1.9M873.3 1233.3h1.9M862.4 1221.7h1.9M891.2 1224.3h1.9M850 1182.4h1.9M845.3 1198.5h1.9M851.3 1180.3h1.9M885.2 1231.5h1.9M882.7 1236.4h1.9M886.8 1214.3h1.9M848.7 1193.7h1.9M890.8 1231.2h1.9M850.9 1204.3h1.9M858.9 1219.8h1.9M892.3 1225.5h1.9M862.8 1174.8h1.9M885 1204.7h1.9M843.8 1194.7h1.9M851.2 1177.7h1.9M890.7 1228.9h1.9M847.2 1182.7h1.9M887.9 1205.8h1.9M881.1 1190.9h1.9M845.6 1196.2h1.9M860.5 1222h1.9M879.4 1182.1h1.9M884.3 1202.8h1.9M887.6 1219.1h1.9M881.9 1186.6h1.9M877.3 1179.1h1.9M890.9 1216.6h1.9M862 1223.7h1.9M848 1205h1.9M846.2 1189.5h1.9M877.5 1180.7h1.9M861.2 1223.6h1.9M889.1 1213.3h1.9M845 1187.8h1.9M845.6 1180.2h1.9M854.1 1175.6h1.9M877.7 1183.4h1.9M886 1234.4h1.9M863.7 1172.3h1.9M870 1229.7h1.9M859.2 1219.7h1.9M882.5 1194.4h1.9M854.5 1177.1h1.9M887.8 1233h1.9M854.2 1215.3h1.9M865.2 1226.1h1.9M879.2 1183.8h1.9M844.7 1192.2h1.9M891.7 1219.5h1.9M868.9 1174.6h1.9M885.9 1198.5h1.9M861.3 1177.4h1.9M852.1 1210.7h1.9M866.3 1174.5h1.9M883.2 1199.7h1.9M891.1 1223.5h1.9M861.2 1218h1.9M869.7 1228.9h1.9M868.9 1228.8h1.9M888.1 1208.1h1.9M876 1173.9h1.9M882.8 1191.2h1.9M846.8 1203.9h1.9M884.9 1233.8h1.9M888.3 1208.4h1.9M850 1177.6h1.9M888.6 1215.4h1.9M884.9 1194.4h1.9M857.6 1220.1h1.9M849 1180.7h1.9M872.1 1229.4h1.9M868.5 1174.7h1.9M847.6 1203.9h1.9M845.8 1186.7h1.9M881.3 1184h1.9M867.1 1173.9h1.9M847.7 1188.4h1.9M846 1184.7h1.9M885.5 1197.8h1.9M848.9 1180.7h1.9M884.5 1232.5h1.9M891 1210.5h1.9M844.3 1195.1h1.9M845.2 1183.7h1.9M892 1219.2h1.9M864.5 1175.2h1.9M878.8 1182.3h1.9M869.9 1230h1.9M884.2 1202.5h1.9M844.2 1193.5h1.9M876.7 1234.6h1.9M850.8 1206.5h1.9M877.9 1181.4h1.9M845.2 1187.6h1.9M867.5 1226h1.9M864.5 1224.3h1.9M882.3 1236h1.9M857.7 1218.5h1.9M847.7 1181.2h1.9M872.7 1176.7h1.9M861.5 1221.5h1.9M889.1 1210h1.9M888 1208.8h1.9M870 1173.9h1.9M853 1177.8h1.9M880.1 1182.4h1.9M891.2 1226.6h1.9M844.6 1183.2h1.9M850.9 1211.6h1.9M890.8 1223.5h1.9M847.2 1184.8h1.9M845.4 1184.1h1.9M844.6 1198.2h1.9M887.9 1209.4h1.9M869.5 1172.1h1.9M884.6 1235.7h1.9M845.6 1197.5h1.9M845.6 1191.5h1.9M857.6 1217h1.9M847.2 1182.7h1.9M884.9 1234h1.9M884.7 1198.2h1.9M846.9 1196.9h1.9M862.6 1222.6h1.9M848.1 1187h1.9M885.2 1204.4h1.9M860.1 1225h1.9M855.1 1214.8h1.9M887.7 1233.8h1.9M881.9 1234.5h1.9M871.8 1173.8h1.9M859.7 1176.3h1.9M878.6 1233.4h1.9M892.3 1220.4h1.9M888.3 1227.1h1.9M855 1218.9h1.9M886.8 1193.7h1.9M866.9 1229.6h1.9M843 1191.9h1.9M889.3 1223.8h1.9M866.3 1177.4h1.9M852 1178.8h1.9M884.8 1234.7h1.9M844.1 1186.8h1.9M873.8 1176.1h1.9M876.3 1178.7h1.9M876.2 1177.3h1.9M884 1187.5h1.9M887.6 1207.4h1.9M848.6 1206.3h1.9M862.3 1174.4h1.9M887.9 1230.7h1.9M846.3 1181.8h1.9M870.4 1176.4h1.9M845.5 1196.7h1.9M871 1233.5h1.9M848.8 1184.6h1.9M846.9 1185.5h1.9M880.9 1233.6h1.9M860.9 1176.2h1.9M870.2 1230.5h1.9M878.6 1180.5h1.9M874.7 1230.4h1.9M862.4 1224.9h1.9M856 1214.8h1.9M879.9 1180.5h1.9M849.7 1177.6h1.9M878.5 1235.4h1.9M874.8 1178.5h1.9M846.7 1199.2h1.9M887.5 1211.3h1.9M867 1227.5h1.9M872.8 1230.9h1.9M845.7 1192.1h1.9M865.3 1173.7h1.9M866.6 1228.3h1.9M851 1209.9h1.9M875.5 1175.1h1.9M884.8 1201h1.9M862.8 1224.7h1.9M872.8 1229.1h1.9M846.1 1193.6h1.9M851.5 1208.3h1.9M871.1 1175.8h1.9M878.2 1176.7h1.9" stroke="#2878b8" stroke-width="1.9"/>
<path d="M884.9 1203.6h1.8M883.2 1192.3h1.8M882.6 1194.9h1.8M884 1201.8h1.8M880.2 1189.8h1.8M893.2 1222.1h1.8M879.4 1184.1h1.8M890.8 1217.1h1.8M887 1213.1h1.8M890.9 1223.2h1.8M886.8 1211.1h1.8M879.8 1185.6h1.8M886.8 1196.4h1.8M883.4 1196.1h1.8M884.4 1208.9h1.8M881.5 1190.7h1.8M883.3 1197.2h1.8M884.6 1203.7h1.8M880.4 1180.2h1.8M878.4 1181.1h1.8M883.8 1192.9h1.8M883.9 1201.2h1.8M893 1225h1.8M886.2 1204.6h1.8M889.5 1220.8h1.8M889.9 1219.6h1.8M888.4 1204.2h1.8M892 1225.2h1.8M883.9 1186.4h1.8M879.9 1188.6h1.8M887.3 1207.9h1.8M891 1224h1.8M885.3 1206.7h1.8M888.9 1210.7h1.8M882.8 1188.5h1.8M879.8 1177.7h1.8M885.4 1205.3h1.8M890.1 1220.7h1.8M885 1196.3h1.8M883.4 1194.8h1.8M892.7 1223.9h1.8M882.2 1194.3h1.8M882.1 1191.4h1.8M885 1202h1.8M881.6 1187.5h1.8M881.6 1191.4h1.8M884.3 1203.5h1.8M888 1204.4h1.8M882.3 1187.3h1.8M887.6 1209.9h1.8M880.7 1187.2h1.8M882.7 1192.7h1.8M880 1178.3h1.8M878.5 1180.6h1.8M880.2 1178h1.8M886.2 1202.5h1.8M881.4 1184.7h1.8M882.1 1193.3h1.8M879.1 1180.3h1.8M879 1178.4h1.8M881.6 1188.4h1.8M891.8 1216.9h1.8M883.9 1201.5h1.8M878.7 1183.1h1.8M891 1223.4h1.8M890.3 1224.2h1.8M881.2 1183.6h1.8M883.9 1202.4h1.8M878.3 1177.7h1.8M889.8 1214.2h1.8M885.3 1207.7h1.8M889.2 1210.1h1.8M890.2 1222.2h1.8M878.4 1181.7h1.8M878.5 1180.9h1.8M887.8 1219.1h1.8M888.9 1215.5h1.8M889.7 1219.5h1.8M880.1 1183.9h1.8M892.2 1221.7h1.8M889 1211.3h1.8M888.3 1210.9h1.8M891.8 1222.6h1.8M889.8 1211.8h1.8M890.7 1212.3h1.8M888.5 1209h1.8M891.1 1218.1h1.8M891.6 1220.5h1.8M886.4 1197.2h1.8M881.2 1192.6h1.8M890.2 1216.5h1.8M892.7 1218.4h1.8M887.9 1209.8h1.8M876.9 1182.8h1.8M888.5 1204.5h1.8M888.3 1219.5h1.8M885.5 1200.9h1.8M891.6 1221.5h1.8M893.9 1222.3h1.8M882.5 1189.8h1.8M882.1 1198.7h1.8M892.9 1225.1h1.8M880.4 1185.6h1.8M879.6 1183.7h1.8M889.1 1216.4h1.8M886.5 1207.9h1.8M890.8 1211.7h1.8M881 1187.6h1.8M882.6 1191h1.8M888.5 1209.4h1.8M885.6 1199.7h1.8M881.5 1188.7h1.8M879.3 1177.4h1.8M879.5 1183.9h1.8M891.3 1223.1h1.8M884.4 1198.3h1.8M883.6 1199.8h1.8M884.9 1193.5h1.8M878.1 1181.3h1.8M878.5 1183.8h1.8" stroke="#ff7f0e" stroke-width="1.8"/>
<path d="M857.2 1243.8h2.1M856.3 1246.2h2.1M858.1 1246.3h2.1M855.3 1246.9h2.1M854.6 1242.3h2.1M858.8 1245.6h2.1M854 1241.7h2.1M855.2 1244.7h2.1M858.9 1243.9h2.1M856.7 1244.6h2.1M857.6 1246.7h2.1M857.6 1246.9h2.1M857.5 1242.5h2.1M855.6 1243.6h2.1M852.3 1243h2.1M855 1248.3h2.1M858.3 1245.9h2.1M858.7 1246.2h2.1M861.8 1243.8h2.1M858.3 1244.4h2.1M857.2 1246.4h2.1M858.3 1245.9h2.1M856.4 1246.5h2.1M853.8 1245.6h2.1M858.9 1247.7h2.1M858.5 1246.8h2.1M859 1247.1h2.1M854 1239.2h2.1M850.6 1244.8h2.1M856.8 1245.7h2.1M854.4 1245.9h2.1M855.7 1243.1h2.1M853 1240.3h2.1M861.4 1246.2h2.1M859.9 1244.9h2.1M851.1 1242.5h2.1M856.5 1243.7h2.1M852.6 1247.7h2.1M851.1 1246.8h2.1M853.7 1246.7h2.1M853.7 1243.7h2.1M860.1 1244.5h2.1M858.3 1247h2.1M860 1242.8h2.1M857.1 1244.3h2.1M981.9 1283h2.1M983.8 1283.6h2.1M984.8 1279.8h2.1M978.2 1282.2h2.1M986.6 1283.4h2.1M980.6 1282.4h2.1M980.2 1287.9h2.1M978.4 1283h2.1M981.1 1276.3h2.1M982.2 1280.6h2.1M979.3 1281.4h2.1M981.5 1280h2.1M983.5 1279.4h2.1M981.4 1281.4h2.1M984.5 1279.4h2.1M985.4 1280.8h2.1M982 1283.7h2.1M980.3 1279.4h2.1M981.6 1280.5h2.1M981.4 1282.5h2.1M982.8 1279.1h2.1M979.4 1283.2h2.1M983.1 1280h2.1M988 1280.1h2.1M982.8 1283.7h2.1M984.7 1283.8h2.1M979.7 1279.7h2.1M985.8 1282.2h2.1M983.4 1279.7h2.1M980.9 1277.4h2.1M989.2 1289.9h2.1M977.2 1279.1h2.1M981.4 1283.9h2.1M979.9 1281.5h2.1M980.7 1281.3h2.1M980.5 1281.1h2.1M980.8 1281.5h2.1M982.3 1278h2.1M985.2 1280.4h2.1M987.7 1275.4h2.1M978.4 1281.2h2.1M982.4 1282.3h2.1M982.5 1280.1h2.1M980.5 1281.4h2.1M987.1 1283.9h2.1M978.9 1285.1h2.1M983.6 1280.6h2.1M984.4 1277.8h2.1M983.3 1284.3h2.1M980.9 1280.2h2.1M982.4 1281.6h2.1M979.1 1283.9h2.1M982.1 1279.4h2.1M983.7 1279.6h2.1M984.1 1282.7h2.1M983.6 1279.7h2.1M978.6 1277h2.1M980.2 1278.5h2.1M988 1278h2.1M982.7 1281.6h2.1M983.6 1285.8h2.1M981.2 1283.1h2.1M983.2 1281h2.1M981.2 1284h2.1M982.7 1283.3h2.1M985 1285.1h2.1M983.3 1280.4h2.1M982.6 1288.4h2.1M983.5 1286.5h2.1M983.5 1283.3h2.1M858.8 1235.5h2.1M863.3 1234.4h2.1M868.1 1231.9h2.1M862.7 1229.2h2.1M864.2 1233.3h2.1M865.6 1232.7h2.1M861.5 1231.3h2.1M862.2 1235.6h2.1M855.2 1228.3h2.1M869.4 1231.9h2.1M870 1235.6h2.1M863.1 1231.3h2.1M854.3 1232.6h2.1M861.4 1226.8h2.1M866.5 1234.3h2.1M867.4 1234.4h2.1M859.2 1234.8h2.1M854.8 1230.5h2.1M867.3 1233.6h2.1M856.1 1236.3h2.1M865.7 1227.2h2.1M866.4 1232.1h2.1M857.1 1232.9h2.1M861.5 1232.5h2.1M869.1 1236.8h2.1M894.5 1266.9h2.1M893.7 1265.1h2.1M939.1 1261.7h2.1M941.7 1262.4h2.1M957.5 1280h2.1M971.9 1286.6h2.1" stroke="#2878b8" stroke-width="2.1"/>
<path d="M978.8 1282.4h1.8M982.7 1286.5h1.8M979.6 1285.6h1.8M982.3 1285.7h1.8M980.3 1287.1h1.8M986.1 1285.7h1.8M982 1287h1.8M978.5 1287h1.8M982.4 1286.2h1.8M981.6 1286.5h1.8M981.1 1284.8h1.8M981 1284.5h1.8M978.8 1287.1h1.8M986.9 1286.8h1.8M983.9 1286.8h1.8M984.9 1286.9h1.8M978.7 1286.4h1.8M979.1 1285.1h1.8" stroke="#ff7f0e" stroke-width="1.8"/>
<rect x="834.6" y="1084.5" width="232" height="232.3" stroke="#000" stroke-width="2.4"/>
<text x="1097" y="1043.7" font-size="44" font-weight="bold" >h</text>
<path d="M1208.3 1065.7L1208.3 1335.9M1194.5 1335.9L1409.5 1335.9M1194.5 1268.8L1208.3 1268.8M1194.5 1201.6L1208.3 1201.6M1194.5 1134.5L1208.3 1134.5M1194.5 1067.3L1208.3 1067.3M1240.2 1335.9L1240.2 1350.8M1285.5 1335.9L1285.5 1350.8M1330.9 1335.9L1330.9 1350.8M1376.5 1335.9L1376.5 1350.8" stroke="#000" stroke-width="3.2"/>
<text x="1183.5" y="1344.7" font-size="24.5" text-anchor="end" >0</text>
<text x="1183.5" y="1277.5" font-size="24.5" text-anchor="end" >10</text>
<text x="1183.5" y="1210.4" font-size="24.5" text-anchor="end" >20</text>
<text x="1183.5" y="1143.2" font-size="24.5" text-anchor="end" >30</text>
<text x="1183.5" y="1076.1" font-size="24.5" text-anchor="end" >40</text>
<text x="1141.9" y="1197.7" font-size="22.6" text-anchor="middle" transform="rotate(-90 1141.9 1197.7)" >% CD123+ CD33+</text>
<text x="1245.5" y="1370.9" font-size="23.9" text-anchor="end" transform="rotate(-45 1245.5 1370.9)" >Vehicle</text>
<text x="1290.8" y="1370.9" font-size="23.9" text-anchor="end" transform="rotate(-45 1290.8 1370.9)" >BCI</text>
<text x="1336.2" y="1370.9" font-size="23.9" text-anchor="end" transform="rotate(-45 1336.2 1370.9)" >Rux</text>
<text x="1381.8" y="1370.9" font-size="23.9" text-anchor="end" transform="rotate(-45 1381.8 1370.9)" >BCI + Rux</text>
<path d="M1242.3 1072.8L1381.9 1072.8" stroke="#000" stroke-width="1.6" />
<text x="1311" y="1065.7" font-size="17" text-anchor="middle" >0.23</text>
<path d="M1241.8 1101.1L1337 1101.1" stroke="#000" stroke-width="1.6" />
<text x="1282.7" y="1094.5" font-size="17" text-anchor="middle" >0.55</text>
<path d="M1241.8 1128.7L1289.1 1128.7" stroke="#000" stroke-width="1.6" />
<text x="1265.4" y="1123.3" font-size="17" text-anchor="middle" >0.43</text>
<circle cx="1240.6" cy="1149.5" r="4.6" fill="#f08c8c" fill-opacity="0.95" />
<circle cx="1240.6" cy="1170.1" r="4.6" fill="#f08c8c" fill-opacity="0.95" />
<circle cx="1240.6" cy="1207.9" r="4.6" fill="#f08c8c" fill-opacity="0.95" />
<path d="M1220.3 1175.3L1260.9 1175.3M1240.6 1204.3L1240.6 1146M1229.7 1204.3L1251.5 1204.3M1229.7 1146L1251.5 1146" stroke="#000" stroke-width="1.6"/>
<circle cx="1286" cy="1180" r="4.6" fill="#1e9af0" fill-opacity="0.95" />
<circle cx="1286" cy="1206" r="4.6" fill="#1e9af0" fill-opacity="0.95" />
<circle cx="1286" cy="1238.1" r="4.6" fill="#1e9af0" fill-opacity="0.95" />
<path d="M1265.7 1207.9L1306.3 1207.9M1286 1236.9L1286 1178.8M1275.1 1236.9L1296.9 1236.9M1275.1 1178.8L1296.9 1178.8" stroke="#000" stroke-width="1.6"/>
<circle cx="1331.6" cy="1171.7" r="4.6" fill="#f5a020" fill-opacity="0.95" />
<circle cx="1331.6" cy="1201.3" r="4.6" fill="#f5a020" fill-opacity="0.95" />
<circle cx="1331.6" cy="1236.2" r="4.6" fill="#f5a020" fill-opacity="0.95" />
<path d="M1311.3 1202.7L1351.9 1202.7M1331.6 1235L1331.6 1170.6M1320.7 1235L1342.5 1235M1320.7 1170.6L1342.5 1170.6" stroke="#000" stroke-width="1.6"/>
<circle cx="1376.9" cy="1190.9" r="4.6" fill="#4f1f95" fill-opacity="0.95" />
<circle cx="1376.9" cy="1224.4" r="4.6" fill="#4f1f95" fill-opacity="0.95" />
<circle cx="1376.9" cy="1241.4" r="4.6" fill="#4f1f95" fill-opacity="0.95" />
<path d="M1356.6 1219L1397.2 1219M1376.9 1244L1376.9 1193.7M1366 1244L1387.8 1244M1366 1193.7L1387.8 1193.7" stroke="#000" stroke-width="1.6"/>
<text x="1404" y="1043.5" font-size="44" font-weight="bold" >i</text>
<path d="M1509.9 1065.8L1509.9 1336.6M1496.1 1336.6L1711.9 1336.6M1496.1 1269.3L1509.9 1269.3M1496.1 1202L1509.9 1202M1496.1 1134.7L1509.9 1134.7M1496.1 1067.4L1509.9 1067.4M1542.3 1336.6L1542.3 1350.6M1588 1336.6L1588 1350.6M1633.4 1336.6L1633.4 1350.6M1678.4 1336.6L1678.4 1350.6" stroke="#000" stroke-width="3.2"/>
<text x="1485.1" y="1345.4" font-size="24.5" text-anchor="end" >0</text>
<text x="1485.1" y="1278.1" font-size="24.5" text-anchor="end" >10</text>
<text x="1485.1" y="1210.8" font-size="24.5" text-anchor="end" >20</text>
<text x="1485.1" y="1143.5" font-size="24.5" text-anchor="end" >30</text>
<text x="1485.1" y="1076.2" font-size="24.5" text-anchor="end" >40</text>
<text x="1449.8" y="1204.5" font-size="22.6" text-anchor="middle" transform="rotate(-90 1449.8 1204.5)" >%CD71+</text>
<text x="1547.6" y="1371.6" font-size="23.9" text-anchor="end" transform="rotate(-45 1547.6 1371.6)" >Vehicle</text>
<text x="1593.3" y="1371.6" font-size="23.9" text-anchor="end" transform="rotate(-45 1593.3 1371.6)" >BCI</text>
<text x="1638.7" y="1371.6" font-size="23.9" text-anchor="end" transform="rotate(-45 1638.7 1371.6)" >Rux</text>
<text x="1683.7" y="1371.6" font-size="23.9" text-anchor="end" transform="rotate(-45 1683.7 1371.6)" >BCI + Rux</text>
<path d="M1545.9 1108.4L1685.1 1108.4" stroke="#000" stroke-width="1.6" />
<text x="1615.6" y="1101.9" font-size="17" text-anchor="middle" >0.69</text>
<path d="M1545.9 1137.1L1641.1 1137.1" stroke="#000" stroke-width="1.6" />
<text x="1586.9" y="1130.4" font-size="17" text-anchor="middle" >0.96</text>
<path d="M1545.9 1164.3L1593.6 1164.3" stroke="#000" stroke-width="1.6" />
<text x="1569.1" y="1159.1" font-size="17" text-anchor="middle" >0.14</text>
<circle cx="1543" cy="1229.6" r="4.6" fill="#f08c8c" fill-opacity="0.95" />
<circle cx="1543" cy="1268.6" r="4.6" fill="#f08c8c" fill-opacity="0.95" />
<circle cx="1543" cy="1280.1" r="4.6" fill="#f08c8c" fill-opacity="0.95" />
<path d="M1522.7 1259.1L1563.3 1259.1M1543 1285.7L1543 1232.8M1532.5 1285.7L1553.5 1285.7M1532.5 1232.8L1553.5 1232.8" stroke="#000" stroke-width="1.6"/>
<circle cx="1588.4" cy="1184.8" r="4.6" fill="#1e9af0" fill-opacity="0.95" />
<circle cx="1588.4" cy="1213.1" r="4.6" fill="#1e9af0" fill-opacity="0.95" />
<circle cx="1588.4" cy="1255.8" r="4.6" fill="#1e9af0" fill-opacity="0.95" />
<path d="M1567.7 1217.7L1608.3 1217.7M1588 1253.3L1588 1181.7M1577.5 1253.3L1598.5 1253.3M1577.5 1181.7L1598.5 1181.7" stroke="#000" stroke-width="1.6"/>
<circle cx="1634" cy="1250.8" r="4.6" fill="#f5a020" fill-opacity="0.95" />
<circle cx="1643.9" cy="1272.7" r="4.6" fill="#f5a020" fill-opacity="0.95" />
<circle cx="1623.6" cy="1277.3" r="4.6" fill="#f5a020" fill-opacity="0.95" />
<path d="M1613.7 1267.3L1654.3 1267.3M1634 1281.1L1634 1253.3M1623.5 1281.1L1644.5 1281.1M1623.5 1253.3L1644.5 1253.3" stroke="#000" stroke-width="1.6"/>
<circle cx="1679.4" cy="1231.3" r="4.6" fill="#4f1f95" fill-opacity="0.95" />
<circle cx="1669" cy="1246.6" r="4.6" fill="#4f1f95" fill-opacity="0.95" />
<circle cx="1689.5" cy="1246.6" r="4.6" fill="#4f1f95" fill-opacity="0.95" />
<path d="M1659.1 1241.8L1699.7 1241.8M1679.4 1250.1L1679.4 1232.8M1668.9 1250.1L1689.9 1250.1M1668.9 1232.8L1689.9 1232.8" stroke="#000" stroke-width="1.6"/>
<text x="3.5" y="1472" font-size="44" font-weight="bold" >j</text>
<text x="220.5" y="1497.2" font-size="23" text-anchor="middle" >Vehicle</text>
<text x="609" y="1504.3" font-size="23" text-anchor="middle" >BCI</text>
<path d="M198.4 1713.5L182.7 1711.3L172.8 1710.2L166.7 1705.3L151.6 1700.6L131.7 1699.8L114.4 1702L97 1697.6L86 1690.1L69.4 1686.8L58.7 1672.2M69.4 1686.8L55.1 1695.1L46.9 1694.3M97 1697.6L88.7 1709.4M114.4 1702L109.4 1713.5M151.6 1700.6L142.5 1690.9L135 1679.1L122.6 1666.7M142.5 1690.9L108.9 1667.2M172.8 1710.2L159 1721.8L142.2 1733.4M198.4 1713.5L201.2 1732.3L201.2 1750.7L199.8 1768.7L198.4 1785.7L198.4 1801.2L197.9 1812.2L190.2 1827.9M190.2 1750.7L201.2 1750.7L212.8 1757.6M199.8 1768.7L183.8 1770L165.4 1776.9L151 1784.6M199.8 1768.7L210.8 1774.2L230.9 1794M198.4 1801.2L181.1 1808.6L163.1 1811.9M181.1 1808.6L170 1818.8M181.1 1808.6L177.2 1828.5M198.4 1801.2L215.5 1812.8L224.6 1823.8L225.4 1840.9M197.9 1812.2L205.3 1835.4M197.9 1812.2L202.6 1823.2M198.4 1713.5L205.3 1707.5L214.4 1694.3L216.9 1686L232.3 1679.1L233.7 1670L245.3 1669.4L254.9 1668.1L263.2 1665.3L272.8 1672.2L281.7 1665.3L289.4 1652.9L298.5 1647.4L303.1 1639.1M201.2 1693.7L201.2 1674.4L194.8 1661.2M233.7 1670L230.7 1652.4L221.8 1643.3M303.1 1639.1L315 1627.6L316.1 1617.1L315.5 1603.9L320.5 1595L326 1562.8L317.8 1550.9L313.3 1525.6M315 1627.6L330.7 1634.4L351.4 1636.4L365.2 1646.8L375.4 1648M320.5 1595L335.4 1585.4L352.2 1584L359.1 1589.5L381.7 1594.5L392.7 1593.1M352.2 1584L363.2 1557.8L377.6 1548.7M363.2 1557.8L362.4 1543.2M295.4 1668.1L307.8 1685.4L323 1687.4L334.8 1704.4L347.2 1723.7M307.8 1685.4L302.3 1697.6L295.7 1711.6" stroke="#cdd0de" stroke-width="0.7"/>
<g fill="#b4b4be"><circle cx="108.9" cy="1667.2" r="0.6"/><circle cx="122.6" cy="1666.7" r="0.6"/><circle cx="135" cy="1679.1" r="0.6"/><circle cx="142.5" cy="1690.9" r="0.6"/><circle cx="190.2" cy="1750.7" r="0.6"/><circle cx="230.9" cy="1794" r="0.6"/><circle cx="225.4" cy="1840.9" r="0.6"/><circle cx="202.6" cy="1823.2" r="0.6"/><circle cx="190.2" cy="1827.9" r="0.6"/><circle cx="46.9" cy="1694.3" r="0.6"/></g>
<g fill="#1e2a6e"><circle cx="58.7" cy="1672.2" r="1.7"/><circle cx="69.4" cy="1686.8" r="1.7"/><circle cx="55.1" cy="1695.1" r="1.7"/><circle cx="86" cy="1690.1" r="1.7"/><circle cx="97" cy="1697.6" r="1.7"/><circle cx="88.7" cy="1709.4" r="1.7"/><circle cx="114.4" cy="1702" r="1.7"/><circle cx="109.4" cy="1713.5" r="1.7"/><circle cx="131.7" cy="1699.8" r="1.7"/><circle cx="151.6" cy="1700.6" r="1.7"/><circle cx="166.7" cy="1705.3" r="1.7"/><circle cx="159" cy="1721.8" r="1.7"/><circle cx="201.2" cy="1732.3" r="1.7"/><circle cx="212.8" cy="1757.6" r="1.7"/><circle cx="199.8" cy="1768.7" r="1.7"/><circle cx="183.8" cy="1770" r="1.7"/><circle cx="165.4" cy="1776.9" r="1.7"/><circle cx="151" cy="1784.6" r="1.7"/><circle cx="210.8" cy="1774.2" r="1.7"/><circle cx="198.4" cy="1785.7" r="1.7"/><circle cx="198.4" cy="1801.2" r="1.7"/><circle cx="181.1" cy="1808.6" r="1.7"/><circle cx="163.1" cy="1811.9" r="1.7"/><circle cx="170" cy="1818.8" r="1.7"/><circle cx="177.2" cy="1828.5" r="1.7"/><circle cx="197.9" cy="1812.2" r="1.7"/><circle cx="215.5" cy="1812.8" r="1.7"/><circle cx="224.6" cy="1823.8" r="1.7"/><circle cx="205.3" cy="1835.4" r="1.7"/><circle cx="221.8" cy="1643.3" r="1.7"/><circle cx="315.5" cy="1538" r="1.7"/><circle cx="326" cy="1550.9" r="1.7"/><circle cx="362.4" cy="1543.2" r="1.7"/><circle cx="375.6" cy="1573" r="1.7"/><circle cx="375.6" cy="1579.3" r="1.7"/><circle cx="372" cy="1657.9" r="1.7"/><circle cx="309.5" cy="1676.9" r="1.7"/><circle cx="314.2" cy="1676.9" r="1.7"/><circle cx="325.2" cy="1700.3" r="1.7"/><circle cx="334.8" cy="1704.4" r="1.7"/><circle cx="285.2" cy="1707.2" r="1.7"/><circle cx="347.2" cy="1723.7" r="1.7"/></g>
<g fill="#1f7a5c"><circle cx="142.2" cy="1733.4" r="2.3"/><circle cx="172.8" cy="1710.2" r="2.3"/><circle cx="194.8" cy="1661.2" r="2.3"/><circle cx="188" cy="1666.1" r="2.3"/><circle cx="199.8" cy="1668.1" r="2.3"/><circle cx="194.8" cy="1672.2" r="2.3"/><circle cx="209.4" cy="1679.6" r="2.3"/><circle cx="194.8" cy="1692.9" r="2.3"/><circle cx="210.8" cy="1701.1" r="2.3"/><circle cx="217.7" cy="1700.3" r="2.3"/><circle cx="230.7" cy="1652.4" r="2.3"/><circle cx="226" cy="1655.7" r="2.3"/><circle cx="225.4" cy="1663.9" r="2.3"/><circle cx="234.3" cy="1659.8" r="2.3"/><circle cx="242.5" cy="1653.7" r="2.3"/><circle cx="249.4" cy="1679.1" r="2.3"/><circle cx="248.9" cy="1685.2" r="2.3"/><circle cx="261.3" cy="1659" r="2.3"/><circle cx="270.1" cy="1659" r="2.3"/><circle cx="272.8" cy="1664.8" r="2.3"/><circle cx="272.3" cy="1682.7" r="2.3"/><circle cx="313.3" cy="1525.6" r="2.3"/><circle cx="333.5" cy="1548.7" r="2.3"/><circle cx="330.2" cy="1573" r="2.3"/><circle cx="299.6" cy="1568.9" r="2.3"/><circle cx="309.2" cy="1579.9" r="2.3"/><circle cx="319.1" cy="1583.2" r="2.3"/><circle cx="281.7" cy="1577.1" r="2.3"/><circle cx="291.3" cy="1588.7" r="2.3"/><circle cx="361" cy="1567.5" r="2.3"/><circle cx="346.4" cy="1568.9" r="2.3"/><circle cx="369.3" cy="1593.7" r="2.3"/><circle cx="381.7" cy="1594.5" r="2.3"/><circle cx="392.7" cy="1593.1" r="2.3"/><circle cx="285.2" cy="1621.8" r="2.3"/><circle cx="311.4" cy="1616.3" r="2.3"/><circle cx="329.3" cy="1639.7" r="2.3"/><circle cx="339.8" cy="1646" r="2.3"/><circle cx="347.2" cy="1645.2" r="2.3"/><circle cx="365.2" cy="1646.8" r="2.3"/><circle cx="366" cy="1662.6" r="2.3"/><circle cx="299.8" cy="1686" r="2.3"/><circle cx="323" cy="1687.4" r="2.3"/><circle cx="292.1" cy="1702.5" r="2.3"/><circle cx="315.5" cy="1705.3" r="2.3"/><circle cx="295.7" cy="1711.6" r="2.3"/></g>
<g fill="#3f9f4f"><circle cx="321.1" cy="1557.8" r="2.6"/><circle cx="330.2" cy="1558.4" r="2.6"/><circle cx="301.2" cy="1574.4" r="2.6"/><circle cx="335.4" cy="1585.4" r="2.6"/><circle cx="335.4" cy="1594.2" r="2.6"/><circle cx="303.1" cy="1601.4" r="2.6"/><circle cx="321.1" cy="1603.3" r="2.6"/><circle cx="377.6" cy="1548.7" r="2.6"/><circle cx="370.7" cy="1552.9" r="2.6"/><circle cx="344.5" cy="1579.1" r="2.6"/><circle cx="367.1" cy="1579.3" r="2.6"/><circle cx="374.2" cy="1584.8" r="2.6"/><circle cx="343.7" cy="1585.4" r="2.6"/><circle cx="316.9" cy="1630.9" r="2.6"/><circle cx="322.4" cy="1635" r="2.6"/><circle cx="290.7" cy="1634.4" r="2.6"/><circle cx="301.2" cy="1670.8" r="2.6"/><circle cx="316.9" cy="1688.7" r="2.6"/><circle cx="318.3" cy="1692.9" r="2.6"/></g>
<g fill="#8cc63f"><circle cx="216.9" cy="1686" r="2.9"/><circle cx="225.4" cy="1681.8" r="2.9"/><circle cx="232.3" cy="1679.1" r="2.9"/><circle cx="234.3" cy="1665.3" r="2.9"/><circle cx="263.2" cy="1665.3" r="2.9"/><circle cx="272.8" cy="1672.2" r="2.9"/><circle cx="281.1" cy="1683.8" r="2.9"/><circle cx="198.4" cy="1713.5" r="2.9"/><circle cx="289.4" cy="1652.9" r="2.9"/><circle cx="317.8" cy="1550.9" r="2.9"/><circle cx="328" cy="1589.5" r="2.9"/><circle cx="315.5" cy="1603.9" r="2.9"/><circle cx="369.3" cy="1564.7" r="2.9"/><circle cx="358.3" cy="1578.5" r="2.9"/><circle cx="347.2" cy="1590.9" r="2.9"/><circle cx="322.4" cy="1618.5" r="2.9"/><circle cx="315" cy="1627.6" r="2.9"/><circle cx="307.8" cy="1632.8" r="2.9"/><circle cx="356.3" cy="1648.8" r="2.9"/><circle cx="361.6" cy="1655.1" r="2.9"/><circle cx="292.1" cy="1643.8" r="2.9"/><circle cx="288" cy="1661.2" r="2.9"/><circle cx="282.5" cy="1674.4" r="2.9"/><circle cx="280.5" cy="1683.2" r="2.9"/><circle cx="302.3" cy="1697.6" r="2.9"/></g>
<g fill="#f6e12a"><circle cx="201.2" cy="1674.4" r="3.3"/><circle cx="201.2" cy="1693.7" r="3.3"/><circle cx="205.3" cy="1707.5" r="3.3"/><circle cx="244.7" cy="1659" r="3.3"/><circle cx="246.1" cy="1664.5" r="3.3"/><circle cx="246.1" cy="1669.4" r="3.3"/><circle cx="245.3" cy="1675" r="3.3"/><circle cx="292.1" cy="1628.1" r="3.3"/><circle cx="282.5" cy="1626.2" r="3.3"/><circle cx="296.3" cy="1634.2" r="3.3"/><circle cx="303.1" cy="1639.1" r="3.3"/><circle cx="298.5" cy="1647.4" r="3.3"/><circle cx="344.5" cy="1636.4" r="3.3"/><circle cx="326" cy="1562.8" r="3.3"/><circle cx="335.7" cy="1569.7" r="3.3"/><circle cx="314.2" cy="1580.4" r="3.3"/><circle cx="303.1" cy="1586.2" r="3.3"/><circle cx="320.5" cy="1595" r="3.3"/><circle cx="289.4" cy="1594.5" r="3.3"/><circle cx="299" cy="1601.9" r="3.3"/><circle cx="306.5" cy="1603.9" r="3.3"/><circle cx="363.2" cy="1557.8" r="3.3"/><circle cx="329.9" cy="1619.3" r="3.3"/><circle cx="375.4" cy="1648" r="3.3"/><circle cx="281.7" cy="1665.3" r="3.3"/><circle cx="301.8" cy="1677.7" r="3.3"/><circle cx="310" cy="1695.6" r="3.3"/></g>
<g fill="#f7b52c"><circle cx="183.3" cy="1662" r="3.8"/><circle cx="182.7" cy="1711.3" r="3.8"/><circle cx="286.6" cy="1693.7" r="3.8"/><circle cx="330.7" cy="1634.4" r="3.8"/><circle cx="352.2" cy="1584" r="3.8"/><circle cx="314.2" cy="1588.1" r="3.8"/></g>
<g fill="#f08030"><circle cx="214.4" cy="1694.3" r="4.2"/><circle cx="233.7" cy="1670" r="4.2"/><circle cx="254.9" cy="1668.1" r="4.2"/><circle cx="295.4" cy="1668.1" r="4.2"/><circle cx="294.3" cy="1655.1" r="4.2"/><circle cx="307.8" cy="1685.4" r="4.2"/><circle cx="351.4" cy="1636.4" r="4.2"/><circle cx="316.1" cy="1617.1" r="4.2"/><circle cx="334.8" cy="1577.1" r="4.2"/><circle cx="359.1" cy="1589.5" r="4.2"/></g>
<g fill="#ee2e24"><circle cx="338.4" cy="1639.1" r="4.6"/></g>
<path d="M594.5 1711.9L578.8 1709.7L568.9 1708.6L562.8 1703.7L547.7 1699L527.8 1698.2L510.5 1700.4L493.1 1696L482.1 1688.5L465.5 1685.2L454.8 1670.6M465.5 1685.2L451.2 1693.5L443 1692.7M493.1 1696L484.8 1707.8M510.5 1700.4L505.5 1711.9M547.7 1699L538.6 1689.3L531.1 1677.5L518.7 1665.1M538.6 1689.3L505 1665.6M568.9 1708.6L555.1 1720.2L538.3 1731.8M594.5 1711.9L597.3 1730.7L597.3 1749.1L595.9 1767.1L594.5 1784.1L594.5 1799.6L594 1810.6L586.3 1826.3M586.3 1749.1L597.3 1749.1L608.9 1756M595.9 1767.1L579.9 1768.4L561.5 1775.3L547.1 1783M595.9 1767.1L606.9 1772.6L627 1792.4M594.5 1799.6L577.2 1807L559.2 1810.3M577.2 1807L566.1 1817.2M577.2 1807L573.3 1826.9M594.5 1799.6L611.6 1811.2L620.7 1822.2L621.5 1839.3M594 1810.6L601.4 1833.8M594 1810.6L598.7 1821.6M594.5 1711.9L601.4 1705.9L610.5 1692.7L613 1684.4L628.4 1677.5L629.8 1668.4L641.4 1667.8L651 1666.5L659.3 1663.7L668.9 1670.6L677.8 1663.7L685.5 1651.3L694.6 1645.8L699.2 1637.5M597.3 1692.1L597.3 1672.8L590.9 1659.6M629.8 1668.4L626.8 1650.8L617.9 1641.7M699.2 1637.5L711.1 1626L712.2 1615.5L711.6 1602.3L716.6 1593.4L722.1 1561.2L713.9 1549.3L709.4 1524M711.1 1626L726.8 1632.8L747.5 1634.8L761.3 1645.2L771.5 1646.4M716.6 1593.4L731.5 1583.8L748.3 1582.4L755.2 1587.9L777.8 1592.9L788.8 1591.5M748.3 1582.4L759.3 1556.2L773.7 1547.1M759.3 1556.2L758.5 1541.6M691.5 1666.5L703.9 1683.8L719.1 1685.8L730.9 1702.8L743.3 1722.1M703.9 1683.8L698.4 1696L691.8 1710" stroke="#cdd0de" stroke-width="0.7"/>
<g fill="#b4b4be"><circle cx="439.4" cy="1693.6" r="0.6"/><circle cx="457.4" cy="1693.6" r="0.6"/><circle cx="460.7" cy="1670" r="0.6"/><circle cx="470.5" cy="1685.7" r="0.6"/><circle cx="486.9" cy="1689" r="0.6"/><circle cx="497.4" cy="1696.2" r="0.6"/><circle cx="489.6" cy="1707.7" r="0.6"/><circle cx="513.8" cy="1700.5" r="0.6"/><circle cx="509.3" cy="1712.6" r="0.6"/><circle cx="530.2" cy="1698.5" r="0.6"/><circle cx="508.3" cy="1666" r="0.6"/><circle cx="521.4" cy="1665.7" r="0.6"/><circle cx="533.5" cy="1677.2" r="0.6"/><circle cx="541.1" cy="1688" r="0.6"/><circle cx="549.3" cy="1699.5" r="0.6"/><circle cx="449.9" cy="1519.1" r="0.6"/><circle cx="595.2" cy="1784.8" r="0.6"/><circle cx="585.4" cy="1750.4" r="0.6"/><circle cx="580.4" cy="1768.4" r="0.6"/><circle cx="549.3" cy="1783.2" r="0.6"/><circle cx="605.1" cy="1773.3" r="0.6"/><circle cx="625.7" cy="1792" r="0.6"/><circle cx="619.8" cy="1839.6" r="0.6"/><circle cx="586" cy="1826.8" r="0.6"/><circle cx="603.4" cy="1804.5" r="0.6"/><circle cx="737.9" cy="1722.5" r="0.6"/></g>
<g fill="#1e2a6e"><circle cx="596.9" cy="1730.7" r="1.7"/><circle cx="596.9" cy="1748.7" r="1.7"/><circle cx="607.7" cy="1756.3" r="1.7"/><circle cx="595.9" cy="1767.4" r="1.7"/><circle cx="595.2" cy="1799.6" r="1.7"/><circle cx="578.1" cy="1806.8" r="1.7"/><circle cx="560.8" cy="1810.4" r="1.7"/><circle cx="567.3" cy="1817" r="1.7"/><circle cx="573.9" cy="1826.8" r="1.7"/><circle cx="598.5" cy="1820.9" r="1.7"/><circle cx="601.1" cy="1834" r="1.7"/><circle cx="610.6" cy="1811.7" r="1.7"/><circle cx="619.2" cy="1822.5" r="1.7"/><circle cx="614.9" cy="1695.6" r="1.7"/><circle cx="591.3" cy="1659.5" r="1.7"/><circle cx="616.5" cy="1642.1" r="1.7"/><circle cx="642.8" cy="1684.1" r="1.7"/><circle cx="665.1" cy="1680.5" r="1.7"/><circle cx="716.6" cy="1698.8" r="1.7"/><circle cx="724.8" cy="1702.8" r="1.7"/><circle cx="706.8" cy="1704.4" r="1.7"/><circle cx="706.8" cy="1536.1" r="1.7"/><circle cx="687.7" cy="1539.7" r="1.7"/><circle cx="717.3" cy="1549.6" r="1.7"/><circle cx="724.8" cy="1547.9" r="1.7"/><circle cx="674.6" cy="1574.8" r="1.7"/><circle cx="696.9" cy="1599.4" r="1.7"/><circle cx="735.3" cy="1566.6" r="1.7"/><circle cx="752" cy="1541.4" r="1.7"/><circle cx="766.5" cy="1546.9" r="1.7"/><circle cx="764.8" cy="1571.5" r="1.7"/><circle cx="764.8" cy="1577.1" r="1.7"/><circle cx="755.3" cy="1661.1" r="1.7"/><circle cx="681.5" cy="1651.3" r="1.7"/></g>
<g fill="#1f7a5c"><circle cx="595.9" cy="1666.7" r="2.3"/><circle cx="591.3" cy="1671.6" r="2.3"/><circle cx="604.1" cy="1678.2" r="2.3"/><circle cx="642.1" cy="1674.9" r="2.3"/><circle cx="642.1" cy="1678.2" r="2.3"/><circle cx="700.2" cy="1674.9" r="2.3"/><circle cx="705.1" cy="1675.6" r="2.3"/><circle cx="691" cy="1684.1" r="2.3"/><circle cx="699.2" cy="1684.7" r="2.3"/><circle cx="707.4" cy="1684.1" r="2.3"/><circle cx="715" cy="1686.4" r="2.3"/><circle cx="673" cy="1682.4" r="2.3"/><circle cx="676.6" cy="1683.1" r="2.3"/><circle cx="693.6" cy="1695.6" r="2.3"/><circle cx="701.8" cy="1694.6" r="2.3"/><circle cx="709.1" cy="1691.3" r="2.3"/><circle cx="684.8" cy="1702.1" r="2.3"/><circle cx="688.1" cy="1710.3" r="2.3"/><circle cx="677.2" cy="1705.4" r="2.3"/><circle cx="705.1" cy="1524" r="2.3"/><circle cx="721.5" cy="1556.1" r="2.3"/><circle cx="691" cy="1566.6" r="2.3"/><circle cx="692" cy="1571.5" r="2.3"/><circle cx="699.5" cy="1572.5" r="2.3"/><circle cx="720.9" cy="1571.5" r="2.3"/><circle cx="682.8" cy="1586.3" r="2.3"/><circle cx="682.8" cy="1592.9" r="2.3"/><circle cx="690.4" cy="1599.4" r="2.3"/><circle cx="693" cy="1601.1" r="2.3"/><circle cx="707.4" cy="1602.1" r="2.3"/><circle cx="735.3" cy="1577.5" r="2.3"/><circle cx="736.3" cy="1588.6" r="2.3"/><circle cx="742.8" cy="1583" r="2.3"/><circle cx="747.8" cy="1576.5" r="2.3"/><circle cx="750.4" cy="1565.6" r="2.3"/><circle cx="750.4" cy="1588" r="2.3"/><circle cx="756" cy="1577.1" r="2.3"/><circle cx="757.6" cy="1561.7" r="2.3"/><circle cx="763.5" cy="1583" r="2.3"/><circle cx="758.6" cy="1591.2" r="2.3"/><circle cx="770.7" cy="1592.9" r="2.3"/><circle cx="780.6" cy="1591.2" r="2.3"/><circle cx="683.8" cy="1633.9" r="2.3"/><circle cx="693" cy="1635.5" r="2.3"/><circle cx="696.9" cy="1638.8" r="2.3"/><circle cx="713.3" cy="1617.5" r="2.3"/><circle cx="720.5" cy="1618.1" r="2.3"/><circle cx="721.5" cy="1632.9" r="2.3"/><circle cx="729.7" cy="1637.2" r="2.3"/><circle cx="735.3" cy="1634.9" r="2.3"/><circle cx="741.9" cy="1634.9" r="2.3"/><circle cx="729.1" cy="1644.4" r="2.3"/><circle cx="737.3" cy="1643.7" r="2.3"/><circle cx="746.8" cy="1647.7" r="2.3"/><circle cx="760.9" cy="1656.2" r="2.3"/><circle cx="690.4" cy="1645.4" r="2.3"/></g>
<g fill="#3f9f4f"><circle cx="639.5" cy="1661.8" r="2.6"/><circle cx="673" cy="1664.1" r="2.6"/><circle cx="693" cy="1674.9" r="2.6"/><circle cx="709.4" cy="1549.2" r="2.6"/><circle cx="753.3" cy="1556.8" r="2.6"/><circle cx="682.2" cy="1630.6" r="2.6"/></g>
<g fill="#8cc63f"><circle cx="591.3" cy="1691.3" r="2.9"/><circle cx="605.1" cy="1691.3" r="2.9"/><circle cx="619.2" cy="1681.5" r="2.9"/><circle cx="579.8" cy="1659.5" r="2.9"/><circle cx="584.4" cy="1665.1" r="2.9"/><circle cx="637.9" cy="1653.6" r="2.9"/><circle cx="640.2" cy="1667.3" r="2.9"/><circle cx="678.9" cy="1692.3" r="2.9"/><circle cx="725.8" cy="1575.5" r="2.9"/><circle cx="725.8" cy="1580.7" r="2.9"/><circle cx="759.9" cy="1551.2" r="2.9"/><circle cx="719.9" cy="1637.2" r="2.9"/><circle cx="754.3" cy="1646" r="2.9"/><circle cx="751.7" cy="1653.6" r="2.9"/><circle cx="684.4" cy="1642.7" r="2.9"/></g>
<g fill="#f6e12a"><circle cx="556.5" cy="1720.8" r="3.3"/><circle cx="569.6" cy="1709.3" r="3.3"/><circle cx="578.8" cy="1710" r="3.3"/><circle cx="611.6" cy="1684.7" r="3.3"/><circle cx="626.4" cy="1676.5" r="3.3"/><circle cx="597.8" cy="1672.6" r="3.3"/><circle cx="624.7" cy="1650.3" r="3.3"/><circle cx="664.1" cy="1657.8" r="3.3"/><circle cx="665.1" cy="1670" r="3.3"/><circle cx="674.9" cy="1672.6" r="3.3"/><circle cx="682.2" cy="1660.8" r="3.3"/><circle cx="712.3" cy="1555.1" r="3.3"/><circle cx="726.4" cy="1567.6" r="3.3"/><circle cx="725.8" cy="1592.9" r="3.3"/><circle cx="712.7" cy="1602.1" r="3.3"/><circle cx="699.5" cy="1630.6" r="3.3"/><circle cx="713.3" cy="1629" r="3.3"/><circle cx="707.4" cy="1614.9" r="3.3"/></g>
<g fill="#f7b52c"><circle cx="596.9" cy="1692.3" r="3.8"/><circle cx="623.1" cy="1658.5" r="3.8"/><circle cx="620.5" cy="1665.1" r="3.8"/><circle cx="629.7" cy="1660.8" r="3.8"/><circle cx="648.4" cy="1666.7" r="3.8"/><circle cx="678.9" cy="1657.8" r="3.8"/><circle cx="688.1" cy="1666.7" r="3.8"/><circle cx="677.2" cy="1620.1" r="3.8"/><circle cx="687.7" cy="1630.6" r="3.8"/><circle cx="706.1" cy="1625.7" r="3.8"/><circle cx="711.7" cy="1633.9" r="3.8"/><circle cx="764.2" cy="1646.4" r="3.8"/></g>
<g fill="#f08030"><circle cx="540.4" cy="1731.7" r="4.2"/><circle cx="594.6" cy="1712.6" r="4.2"/><circle cx="610" cy="1692.9" r="4.2"/><circle cx="711.7" cy="1592.9" r="4.2"/></g>
<g fill="#ee2e24"><circle cx="601.1" cy="1706.7" r="4.6"/><circle cx="626.4" cy="1667.3" r="4.6"/><circle cx="655.9" cy="1657.8" r="4.6"/><circle cx="655.9" cy="1665.1" r="4.6"/><circle cx="717.3" cy="1560.1" r="4.6"/><circle cx="694.3" cy="1584.7" r="4.6"/><circle cx="706.1" cy="1579.1" r="4.6"/><circle cx="707.4" cy="1586.3" r="4.6"/><circle cx="719.9" cy="1588" r="4.6"/><circle cx="685.4" cy="1625.7" r="4.6"/></g>
<path d="M306.9 1523.4Q308.1 1519.5 312.1 1519.3L313.5 1519.2Q317.5 1519 320 1522.1L338.6 1544.6Q341.2 1547.6 341.4 1551.6L343.4 1587.2Q343.7 1591.2 341.3 1594.4L338 1599Q335.7 1602.2 332.2 1604.2L324.5 1608.7Q321.1 1610.7 317.1 1610.2L314 1609.7Q310 1609.1 307.8 1605.8L299.3 1592.9Q297.1 1589.5 296.2 1585.6L293.6 1574.1Q292.7 1570.2 293.8 1566.4Z" stroke="#222" stroke-width="1.2"/>
<path d="M281.3 1655.2Q283.9 1652.1 287.7 1653.1L295.4 1655.2Q299.3 1656.2 302.2 1658.9L319.5 1675Q322.4 1677.7 324.8 1681L352.1 1718.6Q354.4 1721.8 352.8 1725.5L352.2 1726.7Q350.5 1730.4 346.6 1730L345.2 1729.9Q341.2 1729.5 337.3 1728.6L293.3 1717.8Q289.4 1716.8 286.1 1714.5L282.2 1711.7Q278.9 1709.4 278.2 1705.5L274.4 1684.4Q273.7 1680.5 274.1 1676.5L275.2 1666Q275.6 1662 278.1 1658.9Z" stroke="#222" stroke-width="1.2"/>
<path d="M695.5 1523.4Q696.7 1519.5 700.7 1519.3L702.1 1519.2Q706.1 1519 708.6 1522.1L727.2 1544.6Q729.8 1547.6 730 1551.6L732 1587.2Q732.3 1591.2 729.9 1594.4L726.6 1599Q724.3 1602.2 720.8 1604.2L713.1 1608.7Q709.7 1610.7 705.7 1610.2L702.6 1609.7Q698.6 1609.1 696.4 1605.8L687.9 1592.9Q685.7 1589.5 684.8 1585.6L682.2 1574.1Q681.3 1570.2 682.4 1566.4Z" stroke="#222" stroke-width="1.2"/>
<path d="M669.9 1655.2Q672.5 1652.1 676.3 1653.1L684 1655.2Q687.9 1656.2 690.8 1658.9L708.1 1675Q711 1677.7 713.4 1681L740.7 1718.6Q743 1721.8 741.4 1725.5L740.8 1726.7Q739.1 1730.4 735.2 1730L733.8 1729.9Q729.8 1729.5 725.9 1728.6L681.9 1717.8Q678 1716.8 674.7 1714.5L670.8 1711.7Q667.5 1709.4 666.8 1705.5L663 1684.4Q662.3 1680.5 662.7 1676.5L663.8 1666Q664.2 1662 666.7 1658.9Z" stroke="#222" stroke-width="1.2"/>
<text x="224.6" y="1552.3" font-size="19" >CD71+</text>
<text x="242" y="1749.9" font-size="19" >CD123+ CD33+</text>
<text x="608.3" y="1551.9" font-size="19" >CD71+</text>
<text x="634.6" y="1751.3" font-size="19" >CD123+ CD33+</text>
<rect x="41.9" y="1513.2" width="359.6" height="360.2" stroke="#000" stroke-width="2"/>
<rect x="430.5" y="1513.1" width="359.9" height="359.3" stroke="#000" stroke-width="2"/>
<circle cx="823.2" cy="1707.7" r="2.7" fill="#000" />
<circle cx="823.2" cy="1725.1" r="11.5" fill="#000" />
<text x="842.9" y="1712" font-size="11.5" style="fill:#222" >1 cell</text>
<text x="842.9" y="1729.7" font-size="11.5" style="fill:#222" >153 cells</text>
<defs><linearGradient id="spade" x1="0" y1="0" x2="0" y2="1"><stop offset="0" stop-color="#2b3990"/><stop offset="0.22" stop-color="#1f8a5a"/><stop offset="0.4" stop-color="#4db848"/><stop offset="0.56" stop-color="#f5f01e"/><stop offset="0.78" stop-color="#f7941e"/><stop offset="1" stop-color="#e8262a"/></linearGradient></defs>
<rect x="817.3" y="1744.8" width="11.5" height="94.8" fill="url(#spade)"/>
<text x="839.6" y="1753.6" font-size="11.5" style="fill:#222" >0</text>
<text x="839.6" y="1837.3" font-size="11.5" style="fill:#222" >1.72</text>
<text x="800.9" y="1860.9" font-size="17" >Percent</text>
<text x="858.5" y="1472.5" font-size="44" font-weight="bold" >k</text>
<text x="1224.8" y="1502.5" font-size="22.6" text-anchor="middle" >Vehicle</text>
<text x="1488.5" y="1502.8" font-size="22.6" text-anchor="middle" >BCI</text>
<text x="994" y="1631.7" font-size="22.6" >CD123</text>
<text x="1007" y="1925" font-size="22.6" >CD71</text>
<defs><pattern id="spk" width="64" height="64" patternUnits="userSpaceOnUse"><path d="M28 36h1.6M58.5 30h1.6M31.5 37.5h1.6M11 33h1.6M39.5 51h1.6M5 19.5h1.6M5 52h1.6M43.5 2.5h1.6M62 61.5h1.6M41 39.5h1.6M9.5 1h1.6M33 4h1.6M11.5 15.5h1.6M1 29.5h1.6M27.5 54h1.6M32.5 41h1.6M31 42.5h1.6M28.5 18h1.6M63 63.5h1.6M53 45.5h1.6M19.5 14.5h1.6M17.5 4.5h1.6M48 25.5h1.6M53.5 24.5h1.6M60.5 54h1.6M-1 13.5h1.6M57.5 30h1.6M62 25.5h1.6M4 40.5h1.6M49 17.5h1.6M5 21.5h1.6M61 48.5h1.6M7 16h1.6M5.5 4h1.6M50 11.5h1.6M35 28.5h1.6M11.5 47h1.6M7.5 41h1.6M6.5 27h1.6M13 17.5h1.6M61.5 51.5h1.6M18.5 56.5h1.6M12.5 25h1.6M54 41h1.6M5.5 63.5h1.6M13 16.5h1.6M48.5 21h1.6M18 4.5h1.6M5 37.5h1.6M15 38.5h1.6M23 29h1.6M60.5 31h1.6M36 55.5h1.6M11 10h1.6M57.5 52.5h1.6M15 12h1.6M46.5 60h1.6M12 61h1.6M55.5 38.5h1.6M26 6.5h1.6M1.5 61.5h1.6M14.5 45h1.6M15.5 52.5h1.6M37.5 19h1.6M10.5 46h1.6M3.5 14.5h1.6M35 54.5h1.6M38.5 18h1.6M58 13h1.6M0.5 17h1.6M27.5 4h1.6M10.5 23.5h1.6M36 8.5h1.6M22.5 57h1.6M62 42h1.6M43.5 37.5h1.6M8 2h1.6M0.5 58.5h1.6M44 61.5h1.6M0.5 40.5h1.6M30 47h1.6M19.5 64h1.6M4 35h1.6M46.5 57.5h1.6M46.5 45h1.6M50 58.5h1.6M21.5 44h1.6M57 56h1.6M26 50.5h1.6M54.5 36.5h1.6M39 24.5h1.6M36.5 39h1.6M4.5 41h1.6M63 56.5h1.6M46 25h1.6M46 37h1.6M27.5 53.5h1.6M4.5 48h1.6M1 38.5h1.6M30 14.5h1.6M44 32h1.6M38.5 59h1.6M15.5 0.5h1.6M18.5 43.5h1.6M12 11h1.6M57 42h1.6M27.5 57h1.6M20 42.5h1.6M12 27.5h1.6M51 58.5h1.6M55.5 24.5h1.6M36.5 20.5h1.6M8 32h1.6M53 54.5h1.6M44.5 61h1.6M17 11h1.6M28 17.5h1.6M13 26.5h1.6M39 31.5h1.6M19.5 53.5h1.6M62 29h1.6M4 2h1.6M55 2.5h1.6M44.5 36.5h1.6M19 50.5h1.6M0.5 8.5h1.6M28.5 1.5h1.6M52.5 15h1.6M8 3h1.6M39.5 28.5h1.6M39.5 42h1.6M51 61.5h1.6M43 13h1.6M29.5 11.5h1.6M0 30h1.6M45 11.5h1.6M16.5 22h1.6M44 33.5h1.6M38.5 48.5h1.6M24.5 50.5h1.6M57 5.5h1.6M59 46h1.6M7.5 29h1.6M39 58h1.6M23.5 36.5h1.6M55.5 51h1.6M59.5 29.5h1.6M41 13h1.6M45.5 52.5h1.6M40.5 46h1.6M13 57.5h1.6M62 62.5h1.6M33.5 50.5h1.6M19.5 58h1.6M54 22.5h1.6M4.5 28h1.6M34.5 49h1.6M30.5 2h1.6M51 4h1.6M50.5 11h1.6M20.5 50.5h1.6M8 9.5h1.6M32.5 46.5h1.6M53 44h1.6M59.5 31.5h1.6M60 5.5h1.6M13.5 33.5h1.6M18 46.5h1.6M40 33.5h1.6M53 36h1.6" stroke="#2f7df5" stroke-width="1.6"/><path d="M19 24.5h1.6M53.5 57.5h1.6M12.5 54.5h1.6M61 33.5h1.6M36 13h1.6M33.5 32h1.6M38 2h1.6M61 33h1.6M25 51.5h1.6M35 31.5h1.6M43.5 4h1.6M33.5 26.5h1.6M60.5 59h1.6M16.5 30.5h1.6M7.5 28h1.6M51.5 57.5h1.6M29.5 20.5h1.6M11.5 39.5h1.6M58.5 8.5h1.6M49 1.5h1.6M11.5 14.5h1.6M43 20.5h1.6M22 39.5h1.6M6 47h1.6M7 32.5h1.6M15 12.5h1.6M33 28h1.6M23 26.5h1.6M33 10h1.6M12.5 40.5h1.6M40 34h1.6M53.5 39h1.6M54 15h1.6M46.5 52h1.6M57 20h1.6M19.5 59h1.6M13 64h1.6M56 8.5h1.6M14.5 46.5h1.6M16 6h1.6M52.5 27h1.6M50 8h1.6M25 44h1.6M0.5 13h1.6M43 58.5h1.6M61 7.5h1.6M31.5 48.5h1.6M31.5 44h1.6M11.5 4.5h1.6M6 2.5h1.6M34.5 33h1.6M35.5 9.5h1.6M11 13h1.6M53 63.5h1.6M58.5 6h1.6M3 61h1.6M29 49h1.6M20 30h1.6M32 27.5h1.6M37.5 1h1.6M44 54h1.6M11 29h1.6M46.5 26h1.6M11.5 10.5h1.6M32 1h1.6M56.5 51.5h1.6M44.5 55h1.6M39.5 26h1.6M37.5 32.5h1.6M62 51.5h1.6M15.5 58.5h1.6M47 50h1.6M51.5 26h1.6M56.5 56.5h1.6M43.5 49h1.6M48 26h1.6M45.5 4.5h1.6M21 30h1.6M0 23h1.6M40 40h1.6M14 60.5h1.6M42 21.5h1.6M41.5 36.5h1.6M33.5 25h1.6M63 41h1.6" stroke="#55d4f5" stroke-width="1.6"/><path d="M44 49h1.9M62 1.5h1.9M38.5 47.5h1.9M15.5 25.5h1.9M2.5 12.5h1.9M23 6.5h1.9M15 58h1.9M34.5 32.5h1.9M61 36.5h1.9M62.5 41h1.9M51 5h1.9M37.5 48.5h1.9M2 59.5h1.9M9.5 30h1.9M10 31.5h1.9M38 3.5h1.9M59.5 27h1.9M33 38.5h1.9M22.5 18.5h1.9M41 36h1.9M17 46h1.9M18 1h1.9M14.5 2.5h1.9M9 48.5h1.9M24 57.5h1.9M47 3h1.9M62.5 60.5h1.9M4 58h1.9M26.5 30.5h1.9M61.5 15.5h1.9M32.5 60h1.9M45.5 30h1.9M61.5 52.5h1.9M37.5 7.5h1.9M39 29h1.9M12 3.5h1.9M33 8h1.9M27.5 42.5h1.9M28 17h1.9M36.5 27h1.9M49 34h1.9M63 61h1.9M46 15.5h1.9M6.5 57h1.9M49 40h1.9M22 17.5h1.9M43 36h1.9M37 40.5h1.9M47.5 12h1.9M15 62.5h1.9M57.5 56h1.9M1.5 4h1.9M16.5 27h1.9M39 6.5h1.9M33.5 4.5h1.9M4.5 43.5h1.9M34.5 40.5h1.9M23 30.5h1.9M12.5 22h1.9M46.5 53.5h1.9M4 7.5h1.9M51 40h1.9M48.5 13.5h1.9M26 16.5h1.9M51 23.5h1.9M41 63.5h1.9M20 35h1.9M47 59h1.9M26.5 23.5h1.9M5.5 56h1.9M4 5.5h1.9M35 31h1.9M43 19h1.9M48.5 5h1.9M12.5 42.5h1.9M4.5 19.5h1.9M45.5 44.5h1.9M17 9h1.9M22 46.5h1.9M22.5 7.5h1.9M44.5 36.5h1.9M58 60h1.9M57.5 28h1.9M50.5 19.5h1.9M19.5 25.5h1.9M59 57.5h1.9M15 23h1.9M22.5 23.5h1.9M24.5 25h1.9M11.5 36h1.9M50 34.5h1.9M52.5 36h1.9M10.5 48.5h1.9M55.5 18h1.9M0.5 33h1.9M34 36.5h1.9M61 41.5h1.9M50.5 4h1.9M34 50.5h1.9M4.5 5h1.9M46 57.5h1.9M4.5 40.5h1.9M8.5 47.5h1.9M40.5 15.5h1.9M13 49h1.9M32.5 49h1.9M24.5 21.5h1.9M61 43h1.9M30.5 34.5h1.9M45 45.5h1.9M57.5 26.5h1.9M52 42.5h1.9M53.5 51.5h1.9M52.5 57h1.9M60.5 41h1.9M32.5 45.5h1.9M50.5 27h1.9M26 9.5h1.9M46.5 63.5h1.9M23 10.5h1.9M12 27h1.9M17.5 62h1.9M3 19.5h1.9M6.5 41.5h1.9M48.5 11.5h1.9M3 29.5h1.9M36.5 58h1.9M1.5 7h1.9M11 14h1.9M14 46h1.9M37 14.5h1.9M11 18h1.9M10 48.5h1.9M19 35h1.9M51.5 30.5h1.9M15.5 57h1.9M57.5 22h1.9M34 61h1.9M30 14h1.9M2 60.5h1.9M50.5 24.5h1.9M33 33h1.9M16.5 63.5h1.9M41 15h1.9M-0.5 30h1.9M23 51h1.9M44.5 39h1.9M9 10h1.9M19.5 16.5h1.9M54.5 33h1.9M40 63.5h1.9M16 34h1.9M8.5 49.5h1.9M-1 52.5h1.9M53 52.5h1.9M4.5 17.5h1.9M45 6h1.9M30 30h1.9M60 37.5h1.9M54 19.5h1.9M49.5 26.5h1.9M57.5 6h1.9M52 13.5h1.9M34 33.5h1.9M9 53h1.9M19 20h1.9M4 19.5h1.9M29 46h1.9M22 44h1.9M6 25h1.9M28.5 62h1.9M52 42h1.9M0 24h1.9M44.5 15h1.9M35 29.5h1.9M-0.5 63.5h1.9M50 13h1.9M38.5 18.5h1.9M23 34.5h1.9M18 21.5h1.9M24 42.5h1.9M15.5 13h1.9M46 21h1.9M59.5 36h1.9M45.5 21h1.9M52 6h1.9M8 6h1.9M42.5 45.5h1.9M10.5 25.5h1.9M52.5 38h1.9M5 14.5h1.9M9 8h1.9M25 4.5h1.9M58 27.5h1.9M32 41.5h1.9M48 52.5h1.9M24 21h1.9M25.5 1h1.9M24.5 45h1.9M62 50.5h1.9M41.5 39h1.9M0 21h1.9M21 41.5h1.9M6 24h1.9M31.5 50.5h1.9M52 39h1.9M9 49h1.9M57 35h1.9M21.5 32h1.9M8 45.5h1.9M62 33h1.9M45 53.5h1.9M11.5 60.5h1.9M39 12.5h1.9M4.5 15.5h1.9M36 44.5h1.9M20 59.5h1.9M22 29.5h1.9M7 62.5h1.9M7.5 58h1.9M34 36h1.9M35 17h1.9M57 63.5h1.9M51.5 38.5h1.9M7 53h1.9M17.5 57.5h1.9M14.5 36.5h1.9M52 12h1.9M34 5h1.9M1 11.5h1.9M62 60h1.9M41 19.5h1.9M42 47h1.9M23.5 38h1.9M50.5 1h1.9M12 30h1.9M8 24.5h1.9M35.5 11h1.9M32.5 17h1.9M35.5 21.5h1.9M40 2.5h1.9M42 9.5h1.9M60.5 38.5h1.9M29 26.5h1.9M39 44h1.9M47.5 48h1.9M30 63.5h1.9M52.5 54.5h1.9M25 28h1.9M35.5 58h1.9M32.5 33.5h1.9M26.5 58h1.9M19.5 3.5h1.9M45.5 57.5h1.9M46 38h1.9M47 19.5h1.9M37 4.5h1.9M7 28.5h1.9M31 25.5h1.9M2.5 44.5h1.9M32.5 15.5h1.9M18.5 25.5h1.9M14 4.5h1.9M57.5 62h1.9M41.5 55.5h1.9M26 51.5h1.9M13 48h1.9M35.5 58h1.9M5.5 50.5h1.9M7 34.5h1.9M60 0h1.9M14.5 19h1.9M20 4h1.9M56.5 52h1.9M24.5 23h1.9M36.5 3h1.9M1 57.5h1.9M19 32h1.9M59 62.5h1.9M29.5 13h1.9M18 59h1.9M56.5 12.5h1.9M52.5 22.5h1.9M29.5 11h1.9M55.5 63.5h1.9M12 40.5h1.9M11.5 56.5h1.9M2.5 7h1.9M45.5 20h1.9M56.5 55.5h1.9M44.5 8.5h1.9M43.5 60h1.9M27.5 5h1.9M13.5 19.5h1.9M44.5 12.5h1.9M10.5 15h1.9M41.5 50.5h1.9M23 42.5h1.9M55.5 38h1.9M13.5 19.5h1.9M58.5 42.5h1.9M17 41h1.9M5 63h1.9M27 34h1.9M33 3h1.9M37.5 18h1.9M15 51.5h1.9M4.5 18h1.9M47.5 15.5h1.9M17 35h1.9M11 57.5h1.9M62.5 2h1.9M28.5 48h1.9M23.5 59.5h1.9M31 11.5h1.9M34.5 41.5h1.9M22 42h1.9M49 33h1.9M31.5 54h1.9M43 33.5h1.9M60 11h1.9M49 10.5h1.9M38 15h1.9M27 49.5h1.9M49.5 50.5h1.9M14 31.5h1.9M13 37h1.9M31 2.5h1.9M37 45.5h1.9M35.5 56h1.9M10.5 9.5h1.9M0 32h1.9M27 28.5h1.9M16 51h1.9M3.5 58h1.9M35.5 35h1.9M49.5 15h1.9M8.5 20h1.9M2 20h1.9M39 33.5h1.9M16 37.5h1.9M4.5 52.5h1.9M10 16.5h1.9M9.5 44h1.9M52 50.5h1.9M3 26.5h1.9M22.5 14h1.9M61 2.5h1.9M30.5 48.5h1.9M62 9.5h1.9M28 47.5h1.9M1.5 15.5h1.9M56 9h1.9M24 19h1.9M26 5h1.9M1 64h1.9M48 47h1.9M14 16h1.9M34.5 15.5h1.9M28.5 59.5h1.9M22.5 21.5h1.9M62 39h1.9M1.5 26h1.9M40.5 3.5h1.9M21 44.5h1.9M54.5 38h1.9M56 29.5h1.9M24 54h1.9M23.5 50h1.9M13 22h1.9M11 35h1.9M9.5 13h1.9M13 30h1.9M19 28.5h1.9M62.5 43.5h1.9M54.5 13h1.9M23.5 4.5h1.9M43.5 23h1.9M16.5 1h1.9M10.5 17h1.9M24 59h1.9M45 17h1.9M22 10h1.9M59 23h1.9M48 46.5h1.9M57 1.5h1.9M19.5 24.5h1.9M4.5 56.5h1.9M20 49.5h1.9M32.5 3.5h1.9M24.5 15.5h1.9M1.5 9.5h1.9M37 2h1.9M19 27h1.9M34 8.5h1.9M44.5 16.5h1.9M45.5 42.5h1.9M8.5 13h1.9M17 45.5h1.9M25 24.5h1.9M54.5 14.5h1.9M17.5 22h1.9M13 2.5h1.9M0.5 40.5h1.9M35.5 52h1.9M61.5 19h1.9M42 59h1.9M13 44h1.9M41.5 61h1.9M54.5 15h1.9M39.5 6h1.9M26.5 25h1.9M3 24.5h1.9M20 32h1.9M17 10h1.9M25 30.5h1.9M9.5 42.5h1.9M14.5 6h1.9M21 27h1.9M8.5 37.5h1.9M44 35.5h1.9M44 1.5h1.9M24 23.5h1.9M3 26h1.9M2.5 31.5h1.9M36.5 30h1.9M20 16h1.9M0.5 22h1.9M56 36h1.9M16 43h1.9" stroke="#fff" stroke-width="1.9"/></pattern><pattern id="spk2" width="64" height="64" patternUnits="userSpaceOnUse"><path d="M11 30h2M38.5 61h2M22 37h2M59.5 49.5h2M39 39.5h2M25.5 26.5h2M16.5 53h2M55.5 24.5h2M57 2.5h2M7.5 32.5h2M19 23h2M61.5 9.5h2M11.5 14.5h2M42.5 15h2M-1 35h2M24 15.5h2M30.5 41.5h2M34 40h2M35 53h2M61 21.5h2M21 56.5h2M19 46h2M43.5 44h2M60.5 53h2M9 40h2M30.5 36h2M22.5 18.5h2M47 34h2M14 16h2M20 11.5h2M32 8h2M3 4.5h2M5.5 45h2M6 29h2M48.5 31h2M9.5 55.5h2M54.5 3.5h2M15 32.5h2M50 25h2M45 16h2M45 21h2M20.5 48.5h2M53 53h2M35.5 27h2M44 40h2M52 51.5h2M7 24h2M42 15h2M11 1h2M36.5 60h2M61 8.5h2M43 27h2M39.5 25.5h2M58.5 63.5h2M2 45.5h2M6.5 2.5h2M17.5 47h2M62.5 7.5h2M20 1.5h2M33.5 31h2M23 20h2M50 53.5h2M17 25h2M38.5 49h2M62 25h2M43.5 35h2M50 9.5h2M10 7h2M58.5 16h2M30 7.5h2M19.5 1h2M35 9h2M39 17.5h2M13.5 31h2M22.5 16.5h2M2.5 4h2M56 20h2M4 11.5h2M30 64h2M12 55.5h2M30 26.5h2M50.5 25.5h2M2.5 35h2M41 40h2M16.5 60h2M54.5 63.5h2M27.5 53.5h2M45.5 11.5h2M0.5 11h2M6.5 5h2M22 48h2M19 33h2M-0.5 13.5h2M60.5 0.5h2M32.5 52h2M49.5 47h2M24.5 51.5h2M52 49h2M62 6.5h2M60 25.5h2M44 16h2M57 1.5h2M36 14.5h2M24 23.5h2M41 52h2M22.5 41h2M21.5 18h2M57 20.5h2M5 21.5h2M46.5 13.5h2M46.5 35h2M42.5 11.5h2M6 9h2M21.5 27.5h2M-0.5 32h2M25 20.5h2M33.5 61h2M12 56.5h2M19.5 48.5h2M6 63h2M26.5 61.5h2M13 26h2M44 11.5h2M16.5 43.5h2M59.5 20.5h2M10.5 23h2M62.5 9.5h2M39.5 24h2M40 13.5h2M38.5 57h2M54 40h2M31.5 36.5h2M6.5 53.5h2M43 29h2M41.5 27h2M23.5 14.5h2M37.5 36.5h2M32 2h2M39 28.5h2M37 38h2M58.5 9.5h2M29 63.5h2M46 20h2M46 63.5h2M24.5 55.5h2M7 63.5h2M30.5 15h2M53 41.5h2M59 53h2M50 32.5h2M62.5 4h2M54.5 45.5h2M15 51.5h2M28 34.5h2M54.5 12.5h2M17 41h2M3.5 35.5h2M49.5 31.5h2M14.5 51h2M53.5 49.5h2M34 58h2M50 9.5h2M22.5 6.5h2M1.5 22h2M54.5 53.5h2M6.5 11.5h2M24 54.5h2M38.5 57.5h2M3.5 63h2M12 40.5h2M55 46.5h2M11.5 43h2M26.5 1h2M20.5 20h2M39.5 18h2M37.5 44.5h2M10.5 8h2M43.5 30h2M7.5 7.5h2M59 39h2M22 12.5h2M62.5 44.5h2M46 23h2M19 26h2M8.5 40.5h2M26 52.5h2M25 29h2M31.5 60.5h2M21 45h2M14 37h2M17 56h2M17.5 54.5h2M42.5 29h2M59 25h2M46.5 38.5h2M27.5 4h2M26 18h2M27 61h2M17.5 44.5h2M42 15.5h2M25.5 8.5h2M56.5 16h2M26 22h2M51.5 54.5h2M37 35h2M5.5 57.5h2M4.5 23.5h2M23 46.5h2M42 22h2M56.5 61h2M0.5 40.5h2M29 23h2M28.5 20h2M42 39h2M61 62.5h2M62.5 25.5h2M52 41.5h2M44 64h2M3.5 29.5h2M24.5 42h2M13 63.5h2M12.5 23.5h2M8 25.5h2M46.5 5.5h2M9.5 41.5h2M39 47.5h2M15 52h2M46 49.5h2M6.5 30h2M0 55h2M59.5 57.5h2M0.5 22.5h2M33.5 34h2M6 50.5h2M18.5 32.5h2M7 36.5h2M7.5 5.5h2M32 19h2M49 16h2M25.5 3.5h2M13 29h2M34.5 29.5h2M53.5 6.5h2M53.5 10h2M61 33.5h2M25 39h2M54.5 61.5h2M25.5 0.5h2M9 52.5h2M46 45.5h2M9 34h2M1 7h2M18 62h2M40 54.5h2M2 26.5h2M4 16.5h2M6 59h2M20 31.5h2M41 56.5h2M59.5 36.5h2M31 58h2M24 19h2M46.5 16.5h2M22.5 27.5h2M29.5 23h2M26.5 29h2M2 53.5h2M3 34h2M34 25.5h2M13.5 6.5h2M23 20h2M30 14.5h2M47 31h2M-0.5 26h2M61 0.5h2M37 61.5h2M22.5 38.5h2M22.5 19.5h2M38 37.5h2M19 32h2M32 48h2M2.5 6h2M15 17.5h2M50 27h2M54 25.5h2M17.5 43.5h2M4.5 63h2M52 21h2M19.5 52.5h2M49.5 41h2M2.5 49h2M2 40h2M34.5 59.5h2M40 1.5h2M59 48h2M36 0.5h2M46 27h2M42.5 63h2M57.5 5h2M49 28h2M47 24h2M27.5 28h2M6.5 20.5h2M46 4.5h2M6.5 53.5h2M41.5 35h2M6 7.5h2M19 61h2M35 59h2M12.5 26.5h2M33.5 53.5h2M7 56h2M29 2h2M26.5 24h2M42 59.5h2M30.5 44h2M24 50h2M5.5 47.5h2M9.5 37.5h2M12 22h2M9.5 22.5h2M37 33.5h2M24 37h2M53 23h2M36.5 31h2M62 21h2M43.5 15h2M15.5 46.5h2M36 16.5h2M3 53h2M23 46h2M26.5 39.5h2M35 62.5h2M57 29h2M30 15h2M47 6.5h2M18.5 54h2M1 44.5h2M35.5 35.5h2M20.5 9.5h2M60 49h2M50.5 6.5h2M49 14h2M12 34h2M38 7.5h2M48 37.5h2M56.5 59h2M43 23.5h2M60 46h2M17.5 55h2M45.5 17h2M15 1.5h2M33.5 16h2M18 16h2M7.5 31h2M16.5 18h2M17 32.5h2M55 10h2M54 54.5h2M38 35h2M46 34h2M41 59h2M48.5 16.5h2M2.5 60h2M22 50.5h2M14 29h2M22.5 46.5h2M59.5 32.5h2M35 22.5h2M14 61h2M6 60h2M41 4.5h2M56.5 6.5h2M35 7.5h2M62.5 20h2M55 4h2M41.5 4.5h2M1 36.5h2M62 44h2M53.5 50h2M32.5 5h2M32.5 12h2M32.5 22.5h2M31 12.5h2M44 26.5h2M30 5h2M30 35.5h2M61 36h2M7.5 19h2M20.5 45h2M59 62.5h2M60 59h2M54 60h2M0.5 31.5h2M37 44h2M38 39h2M58.5 5.5h2M32 61.5h2M1 7h2M54.5 61.5h2M0.5 2h2M52 44h2M32.5 37h2M47.5 51.5h2M-1 4.5h2M50 62.5h2M52.5 26h2M20.5 22h2M0 49.5h2M16 37.5h2M32.5 21.5h2M42 29h2M14 56.5h2M10 9.5h2M15 30.5h2M49 21.5h2M14 42h2M15.5 33.5h2M15.5 56h2M11 15h2" stroke="#fff" stroke-width="2"/></pattern></defs>
<defs><linearGradient id="g71v" gradientUnits="userSpaceOnUse" x1="32.3" y1="20.3" x2="251.9" y2="158.5"><stop offset="0" stop-color="#0000c2"/><stop offset="0.1" stop-color="#0000c4"/><stop offset="0.1" stop-color="#0000c6"/><stop offset="0.1" stop-color="#0000c7"/><stop offset="0.2" stop-color="#0000c9"/><stop offset="0.2" stop-color="#0000cb"/><stop offset="0.3" stop-color="#0000dd"/><stop offset="0.3" stop-color="#0007ff"/><stop offset="0.4" stop-color="#0031ff"/><stop offset="0.5" stop-color="#005bff"/><stop offset="0.5" stop-color="#0085ff"/><stop offset="0.6" stop-color="#00a0ff"/><stop offset="0.6" stop-color="#00bcff"/><stop offset="0.7" stop-color="#00d8ff"/><stop offset="0.7" stop-color="#00f4ff"/><stop offset="0.8" stop-color="#25ffdb"/><stop offset="0.8" stop-color="#62ff9e"/><stop offset="0.8" stop-color="#a3ff5d"/><stop offset="0.9" stop-color="#f5ff0a"/><stop offset="0.9" stop-color="#ffad00"/><stop offset="1" stop-color="#ff7000"/></linearGradient></defs>
<defs><linearGradient id="g71b" gradientUnits="userSpaceOnUse" x1="32.3" y1="20.3" x2="251.9" y2="158.5"><stop offset="0" stop-color="#0000c2"/><stop offset="0.1" stop-color="#0000c4"/><stop offset="0.1" stop-color="#0000c7"/><stop offset="0.1" stop-color="#0000ca"/><stop offset="0.2" stop-color="#0000cc"/><stop offset="0.2" stop-color="#0000fd"/><stop offset="0.3" stop-color="#002fff"/><stop offset="0.3" stop-color="#0061ff"/><stop offset="0.4" stop-color="#0092ff"/><stop offset="0.5" stop-color="#00c3ff"/><stop offset="0.5" stop-color="#00eeff"/><stop offset="0.6" stop-color="#0efff1"/><stop offset="0.6" stop-color="#2cffd3"/><stop offset="0.7" stop-color="#4affb6"/><stop offset="0.7" stop-color="#7cff84"/><stop offset="0.8" stop-color="#ceff31"/><stop offset="0.8" stop-color="#ffc900"/><stop offset="0.8" stop-color="#ff4100"/><stop offset="0.9" stop-color="#f80000"/><stop offset="0.9" stop-color="#d90000"/><stop offset="1" stop-color="#ba0000"/></linearGradient></defs>
<defs><radialGradient id="hot1" gradientUnits="userSpaceOnUse" cx="192" cy="150" r="62" gradientTransform="translate(192 150) scale(1 1.35) translate(-192 -150)"><stop offset="0" stop-color="#5fe8c0"/><stop offset="0.45" stop-color="#22b8f0" stop-opacity="0.85"/><stop offset="1" stop-color="#0a3ce0" stop-opacity="0"/></radialGradient><radialGradient id="hot2" gradientUnits="userSpaceOnUse" cx="192" cy="160" r="56" gradientTransform="translate(192 160) scale(1 1.3) translate(-192 -160)"><stop offset="0" stop-color="#3fd0e0"/><stop offset="0.45" stop-color="#1a90f0" stop-opacity="0.8"/><stop offset="1" stop-color="#0a3ce0" stop-opacity="0"/></radialGradient></defs>
<g transform="translate(1105.2 1516.3)">
<path d="M48.2 45.5Q39.6 44.8 33.8 49.8Q28 54.9 23 65Q17.9 75.1 16.5 82.3Q15 89.5 17.9 102.5Q20.8 115.5 24.4 127Q28 138.6 36.7 150.1Q45.3 161.7 54 171.8Q62.7 181.9 74.2 190.6Q85.7 199.2 95.9 205.7Q106 212.2 119 215.1Q131.9 218 144.9 216.5Q157.9 215.1 166.6 210Q175.3 205 182.5 194.9Q189.7 184.8 193.3 173.2Q196.9 161.7 196.9 150.1Q196.9 138.6 194.7 131.4Q192.6 124.1 186.8 115.5Q181 106.8 175.3 99.6Q169.5 92.4 160.8 86.6Q152.2 80.8 144.9 79.4Q137.7 78 131.9 79.4Q126.2 80.8 121.1 75.1Q116.1 69.3 114.6 59.2Q113.2 49.1 116.8 40.4Q120.4 31.8 124 25.3Q127.6 18.8 125.4 18.8Q123.3 18.8 118.2 26Q113.2 33.2 106.7 32.5Q100.2 31.8 93 33.9Q85.7 36.1 80 39.7Q74.2 43.3 65.5 44.8Q56.9 46.2 48.2 45.5Z" fill="#0a18cc"/>
<path d="M48.2 45.5Q39.6 44.8 33.8 49.8Q28 54.9 23 65Q17.9 75.1 16.5 82.3Q15 89.5 17.9 102.5Q20.8 115.5 24.4 127Q28 138.6 36.7 150.1Q45.3 161.7 54 171.8Q62.7 181.9 74.2 190.6Q85.7 199.2 95.9 205.7Q106 212.2 119 215.1Q131.9 218 144.9 216.5Q157.9 215.1 166.6 210Q175.3 205 182.5 194.9Q189.7 184.8 193.3 173.2Q196.9 161.7 196.9 150.1Q196.9 138.6 194.7 131.4Q192.6 124.1 186.8 115.5Q181 106.8 175.3 99.6Q169.5 92.4 160.8 86.6Q152.2 80.8 144.9 79.4Q137.7 78 131.9 79.4Q126.2 80.8 121.1 75.1Q116.1 69.3 114.6 59.2Q113.2 49.1 116.8 40.4Q120.4 31.8 124 25.3Q127.6 18.8 125.4 18.8Q123.3 18.8 118.2 26Q113.2 33.2 106.7 32.5Q100.2 31.8 93 33.9Q85.7 36.1 80 39.7Q74.2 43.3 65.5 44.8Q56.9 46.2 48.2 45.5Z" fill="url(#hot1)"/>
<path d="M48.2 45.5Q39.6 44.8 33.8 49.8Q28 54.9 23 65Q17.9 75.1 16.5 82.3Q15 89.5 17.9 102.5Q20.8 115.5 24.4 127Q28 138.6 36.7 150.1Q45.3 161.7 54 171.8Q62.7 181.9 74.2 190.6Q85.7 199.2 95.9 205.7Q106 212.2 119 215.1Q131.9 218 144.9 216.5Q157.9 215.1 166.6 210Q175.3 205 182.5 194.9Q189.7 184.8 193.3 173.2Q196.9 161.7 196.9 150.1Q196.9 138.6 194.7 131.4Q192.6 124.1 186.8 115.5Q181 106.8 175.3 99.6Q169.5 92.4 160.8 86.6Q152.2 80.8 144.9 79.4Q137.7 78 131.9 79.4Q126.2 80.8 121.1 75.1Q116.1 69.3 114.6 59.2Q113.2 49.1 116.8 40.4Q120.4 31.8 124 25.3Q127.6 18.8 125.4 18.8Q123.3 18.8 118.2 26Q113.2 33.2 106.7 32.5Q100.2 31.8 93 33.9Q85.7 36.1 80 39.7Q74.2 43.3 65.5 44.8Q56.9 46.2 48.2 45.5Z" fill="url(#spk)" stroke="url(#spk2)" stroke-width="26"/>
<path d="M120.5 29.5h2.4M125 20.5h2.4M123 20.5h2.4M63.5 180h2.4M25.5 125h2.4M116 39.5h2.4M18 92.5h2.4M169 98h2.4M179 195.5h2.4M103.5 34h2.4M146 82h2.4M23.5 116.5h2.4M170 207h2.4M35.5 51h2.4M38.5 51h2.4M104.5 34h2.4M20 111h2.4M54 167h2.4M186.5 118h2.4M193.5 128.5h2.4M20.5 75.5h2.4M194.5 138h2.4M122 28h2.4M184 115.5h2.4M46.5 47h2.4M121.5 79h2.4M187.5 118.5h2.4M87.5 36.5h2.4M79.5 42h2.4M22 69h2.4M90.5 201h2.4M117.5 211.5h2.4M107.5 34.5h2.4M195.5 142.5h2.4M161.5 90h2.4M174 203.5h2.4M176 198.5h2.4M175.5 195.5h2.4M159 86h2.4M190 180.5h2.4M42 52.5h2.4M185 186.5h2.4M150 81h2.4M117.5 37h2.4M29 126.5h2.4M51 160.5h2.4M164.5 90h2.4M21 70.5h2.4M118.5 31.5h2.4M33.5 144.5h2.4M35 51.5h2.4M120 76h2.4M21.5 116.5h2.4M152 82.5h2.4M22.5 66.5h2.4M112.5 42.5h2.4M108 211h2.4M30 135.5h2.4M118.5 30.5h2.4M188 141.5h2.4M161 207.5h2.4M46.5 47h2.4M29.5 59.5h2.4M20.5 73.5h2.4M65.5 49h2.4M195 152h2.4M152 213h2.4M116 78h2.4M138 216h2.4M71 186.5h2.4M187.5 179h2.4M121.5 81h2.4M98.5 34.5h2.4M44 48.5h2.4M188 183.5h2.4M190.5 125.5h2.4M172.5 203h2.4M177.5 198h2.4M53 47h2.4M189 124.5h2.4M123.5 23h2.4M103 34h2.4M16 91.5h2.4M133.5 81.5h2.4M127.5 80h2.4M36.5 146h2.4M187 121.5h2.4M187 185h2.4M21 98.5h2.4M89 199.5h2.4M107 34.5h2.4M49.5 47.5h2.4M40 49.5h2.4M135.5 81.5h2.4M41.5 50.5h2.4M194.5 132h2.4M180.5 190.5h2.4M118.5 72h2.4M190 122.5h2.4M193.5 152.5h2.4M193.5 170.5h2.4M51 165.5h2.4M47.5 47h2.4M172 100h2.4M161.5 211.5h2.4M171.5 96.5h2.4M45.5 50h2.4M189 124h2.4M20 83.5h2.4M196.5 144.5h2.4M63 46.5h2.4M175 200h2.4M193 172h2.4M57 47.5h2.4M26.5 126.5h2.4M88.5 36h2.4M35.5 140h2.4M37.5 150h2.4M122.5 214.5h2.4M49 160h2.4M173 204h2.4M124 24.5h2.4M66.5 49h2.4M41 46.5h2.4M195 142h2.4M186 180h2.4M139.5 214h2.4M137.5 79.5h2.4M109.5 35h2.4M59.5 49.5h2.4M112 58h2.4M173.5 197.5h2.4M79.5 42.5h2.4M96.5 33h2.4M41.5 152h2.4M19.5 81.5h2.4M27.5 60.5h2.4M133 215.5h2.4M26.5 68.5h2.4M58 47.5h2.4M39 152h2.4M56 170h2.4M64.5 179h2.4M66 179.5h2.4M187.5 180h2.4M91.5 200.5h2.4M125 20h2.4M126 19h2.4M192 175h2.4M121.5 21.5h2.4M67 49h2.4M196 153.5h2.4M113 47.5h2.4M112.5 49h2.4M56.5 172h2.4M87 36h2.4M166 91h2.4M37.5 148.5h2.4M101.5 36.5h2.4M63.5 45h2.4M161.5 89.5h2.4M195.5 152.5h2.4M189.5 173.5h2.4M130.5 81h2.4M48 164h2.4M185.5 190h2.4M148 81h2.4M116.5 32h2.4M117.5 214.5h2.4M174.5 198h2.4M27 62.5h2.4M90.5 36.5h2.4M118.5 73.5h2.4M162.5 211.5h2.4M124 23h2.4M47 162.5h2.4M100.5 36.5h2.4M31.5 136.5h2.4M24 64.5h2.4M189.5 131.5h2.4M119 32h2.4M114.5 65h2.4M114.5 37h2.4M113.5 55h2.4M114 55.5h2.4M112 47.5h2.4M121 29h2.4M122 22h2.4M44.5 154.5h2.4M150 81.5h2.4M177.5 193.5h2.4M196 159.5h2.4M189.5 126.5h2.4M119 28.5h2.4M88 200.5h2.4M168.5 93.5h2.4M88 200h2.4M27.5 130.5h2.4M39.5 150h2.4M180 112h2.4M55.5 169h2.4M140.5 216h2.4M117.5 28h2.4M120 32h2.4M168 209h2.4M118.5 34h2.4M28 59.5h2.4M178.5 195h2.4M86 37.5h2.4M99 206.5h2.4M178.5 194.5h2.4M35.5 49.5h2.4M122.5 81.5h2.4M36 48.5h2.4M190.5 125h2.4M87.5 37.5h2.4M65 182h2.4M112 46h2.4M61 178.5h2.4M36.5 50.5h2.4M126 21h2.4M38 50h2.4M173.5 104h2.4M182.5 186h2.4M178.5 109.5h2.4M165 204.5h2.4M140.5 214h2.4M147 80h2.4M146 82.5h2.4M114.5 47h2.4M138.5 213h2.4M31 54.5h2.4M157 85.5h2.4M62.5 48h2.4M72.5 187h2.4M124 20h2.4M109.5 70h2.4M103 36.5h2.4M80 41h2.4M43.5 46.5h2.4M21 108.5h2.4M87 36.5h2.4M118.5 36.5h2.4M136 81.5h2.4M168.5 100h2.4M146 81.5h2.4M140 80.5h2.4M157 88.5h2.4M30.5 53.5h2.4M193 164h2.4M184.5 187.5h2.4M113.5 46.5h2.4M112 45.5h2.4M43 156h2.4M118.5 27.5h2.4M152.5 82.5h2.4M190.5 173h2.4M51.5 161h2.4M143.5 79.5h2.4M20 96h2.4M30 138h2.4M184.5 114h2.4M39.5 146h2.4M194 163.5h2.4M194 135h2.4M147.5 82.5h2.4" stroke="#fff" stroke-width="2.4"/>
<path d="M167.5 129.5h1.6M155 126.5h1.6M162 122h1.6M159 117h1.6M162 144h1.6M167 100h1.6M185 136.5h1.6M150 162.5h1.6M142.5 125.5h1.6M145 116.5h1.6M140.5 147.5h1.6M175.5 110.5h1.6M154.5 151.5h1.6M194.5 159.5h1.6M189 137.5h1.6M158 173.5h1.6M131 158.5h1.6M160 181h1.6M177.5 183.5h1.6M170 107.5h1.6M169 107h1.6M153.5 198h1.6M167 120h1.6M172 199h1.6M136.5 182.5h1.6M140 141.5h1.6M159 161h1.6M151 127h1.6M160.5 145.5h1.6M164 194h1.6M175.5 186h1.6M163 150h1.6M191.5 175.5h1.6M154.5 109.5h1.6M163 159h1.6M180 191h1.6M144 139.5h1.6M190.5 144h1.6M145.5 116.5h1.6M178 113h1.6M175.5 190.5h1.6M147.5 182.5h1.6M162.5 152h1.6M142.5 152.5h1.6M174.5 154h1.6M160.5 212.5h1.6M174 194.5h1.6M147 116h1.6M159.5 157h1.6M144.5 190h1.6M171.5 104h1.6M153.5 143.5h1.6M161 117h1.6M146 170.5h1.6M137.5 154h1.6M138.5 163.5h1.6M188 123h1.6M137 166.5h1.6M154 189h1.6M133.5 155.5h1.6M175.5 157h1.6M156 168h1.6M175 151h1.6M146 175h1.6M191 144.5h1.6M161 187.5h1.6M172.5 146h1.6M146 121.5h1.6M155 118h1.6M168 204.5h1.6M150.5 32.5h1.6M144 32.5h1.6M151.5 26h1.6M155.5 24h1.6M166 37.5h1.6M145 28h1.6M150 28.5h1.6M120 14h1.6M117 20.5h1.6M125.5 22.5h1.6M124 21h1.6M125.5 18.5h1.6M131.5 18.5h1.6M212.5 74.5h1.6M154.5 60h1.6" stroke="#25ffdb" stroke-width="1.6"/>
<path d="M166 152.5h1.6M143 154h1.6M186 167h1.6M77 77h1.6M21 81.5h1.6M60.5 155h1.6M157.5 155h1.6M151 117h1.6M130.5 205.5h1.6M178.5 143h1.6M131 167h1.6M175 103.5h1.6M133.5 108h1.6M140 131h1.6M37 79h1.6M137 198h1.6M178 127.5h1.6M173.5 99.5h1.6M134 127h1.6M168 187.5h1.6M163.5 106.5h1.6M156 205h1.6M159.5 205h1.6M140.5 149h1.6M107.5 43h1.6M131 152.5h1.6M180 110h1.6M167 97.5h1.6M138 123h1.6M154.5 119h1.6M92.5 67.5h1.6M71.5 120.5h1.6M77.5 133.5h1.6M134 131.5h1.6M95.5 184.5h1.6M156 129.5h1.6M169.5 106.5h1.6M165 208.5h1.6M157 199h1.6M113.5 43.5h1.6M178.5 174.5h1.6M154.5 110h1.6M177.5 105h1.6M168.5 160.5h1.6M166.5 168h1.6M135.5 119h1.6M105 100.5h1.6M95.5 52.5h1.6M170 151h1.6M83.5 172h1.6M162.5 191.5h1.6M49.5 141h1.6M172 111h1.6M169.5 118.5h1.6M146.5 187.5h1.6M55 120.5h1.6M96.5 154.5h1.6M165.5 181.5h1.6M158 146.5h1.6M150.5 122.5h1.6M130 195h1.6M168.5 193.5h1.6M139 131h1.6M58.5 94.5h1.6M153.5 92h1.6M166.5 142h1.6M155 102.5h1.6M135.5 187h1.6M163.5 131.5h1.6M157.5 92.5h1.6M138 140.5h1.6M155.5 211.5h1.6M168.5 182h1.6M69.5 120h1.6M161 158h1.6M93 151h1.6M70 179.5h1.6M190 169.5h1.6M137.5 124.5h1.6M52.5 54.5h1.6M137 209.5h1.6M172 126.5h1.6M158 125h1.6M159 151h1.6M138.5 133h1.6M131 161.5h1.6M143.5 99h1.6M142 147.5h1.6M161.5 133h1.6M164.5 124.5h1.6M154 204h1.6M139.5 138.5h1.6M193 130h1.6M137.5 111.5h1.6M129.5 143h1.6M137 164h1.6M151.5 214h1.6M160.5 157.5h1.6M152 150.5h1.6M154.5 160h1.6M183 140.5h1.6M148 155.5h1.6M102.5 169h1.6M180 130.5h1.6M151.5 214.5h1.6M138 157.5h1.6M149.5 111h1.6M164.5 206h1.6M143 169.5h1.6M17.5 98h1.6M186.5 177.5h1.6M180.5 152h1.6M169.5 103.5h1.6M45.5 109h1.6M168.5 171.5h1.6M181.5 116h1.6M81.5 106h1.6M164 122h1.6M176 191h1.6M33 105.5h1.6M126.5 98.5h1.6M180 154.5h1.6M156 161h1.6M124 169.5h1.6M161.5 209h1.6M156 173.5h1.6M131.5 163.5h1.6M155.5 175h1.6M171 187.5h1.6M158.5 110h1.6M155.5 180h1.6M177.5 162.5h1.6M70 155h1.6M179.5 170.5h1.6M147 135.5h1.6M170.5 119h1.6M171 166h1.6M159.5 183h1.6M162.5 150.5h1.6M143.5 143.5h1.6M174 200h1.6M152.5 195h1.6M139.5 121h1.6M173 127h1.6M137 196.5h1.6M186.5 200h1.6M194 126h1.6M197 166h1.6M185.5 112.5h1.6M154 24h1.6M163 23h1.6M158.5 32.5h1.6M158.5 27.5h1.6M148 23.5h1.6M143.5 33h1.6M117 24.5h1.6M127 30.5h1.6M118 27.5h1.6M115.5 22h1.6M119.5 20h1.6M112.5 17h1.6M126 16.5h1.6M129.5 15h1.6M188 62h1.6" stroke="#00c2ff" stroke-width="1.6"/>
<path d="M175.5 187.5h1.6M175.5 155.5h1.6M182 189h1.6M162.5 137h1.6M189.5 140h1.6M145 174.5h1.6M164 131.5h1.6M178.5 193h1.6M169 129.5h1.6M164.5 173.5h1.6M170.5 125h1.6M150.5 161.5h1.6M166.5 157.5h1.6M180.5 173.5h1.6M173 197h1.6M178.5 123.5h1.6M174 127.5h1.6M171 138.5h1.6M167.5 138.5h1.6M166.5 175.5h1.6M183 128.5h1.6M193 132h1.6M158.5 162.5h1.6M180.5 152h1.6M172.5 161.5h1.6M186.5 131h1.6M196.5 140h1.6M182.5 175.5h1.6M182 177h1.6M175.5 188.5h1.6M153.5 138.5h1.6M163 151h1.6M199.5 162h1.6M197 144h1.6M201.5 160.5h1.6M190 58h1.6M177.5 48h1.6M136 71.5h1.6M148.5 83h1.6M149.5 61.5h1.6M162 67.5h1.6M163.5 96.5h1.6" stroke="#dbff25" stroke-width="1.6"/>
<path d="M160 101.5h1.6M143 153h1.6M144.5 109.5h1.6M106 83.5h1.6M51.5 84h1.6M140 150.5h1.6M169 197h1.6M140 164.5h1.6M139 161.5h1.6M133 144h1.6M166.5 115.5h1.6M158.5 191.5h1.6M145 90.5h1.6M123 200h1.6M168 199.5h1.6M143.5 194.5h1.6M76.5 175h1.6M119.5 27.5h1.6M19 92h1.6M88.5 194.5h1.6M170 110h1.6M149 131.5h1.6M112 88h1.6M153 186.5h1.6M141.5 125.5h1.6M155 154.5h1.6M108.5 83h1.6M146.5 155h1.6M137.5 196.5h1.6M134.5 175h1.6M165.5 207.5h1.6M61 58h1.6M132.5 97.5h1.6M170 140h1.6M122 151h1.6M129 151h1.6M151.5 166.5h1.6M76.5 136h1.6M45.5 131.5h1.6M49 125.5h1.6M75 54.5h1.6M127.5 106.5h1.6M157 186h1.6M39.5 85.5h1.6M101.5 124h1.6M133.5 151.5h1.6M118.5 29.5h1.6M139.5 137.5h1.6M158.5 126.5h1.6M141 131.5h1.6M160 156h1.6M154.5 212h1.6M161 100.5h1.6M128 188h1.6M56.5 113.5h1.6M143.5 209.5h1.6M65.5 136h1.6M78 159.5h1.6M80.5 127.5h1.6M144 164h1.6M146 186.5h1.6M92.5 190h1.6M92 165.5h1.6M86.5 164h1.6M119.5 193h1.6M87.5 121h1.6M179 137.5h1.6M122 156.5h1.6M139.5 150h1.6M127 211h1.6M106.5 154h1.6M28.5 57.5h1.6M167.5 117h1.6M53.5 89.5h1.6M160 170h1.6M148.5 205.5h1.6M110.5 196h1.6M144 203h1.6M78 43h1.6M106.5 167h1.6M146.5 142.5h1.6M165 101h1.6M135.5 94h1.6M138.5 198.5h1.6M79.5 103h1.6M158.5 109h1.6M151 161.5h1.6M170.5 96h1.6M167 104h1.6M94.5 83.5h1.6M66 62.5h1.6M176 112h1.6M163.5 196.5h1.6M150.5 105.5h1.6M86 177.5h1.6M146.5 201h1.6M184 112.5h1.6M110.5 158h1.6M59 100.5h1.6M143.5 201.5h1.6M176 106.5h1.6M97 84h1.6M135 178.5h1.6M86.5 90.5h1.6M157.5 116.5h1.6M148.5 143.5h1.6M135 121h1.6M51.5 96.5h1.6M44.5 152h1.6M158 133.5h1.6M138 126h1.6M133.5 135.5h1.6M77.5 67.5h1.6M25.5 90h1.6M22.5 108h1.6M48 150h1.6M56 76h1.6M90 190h1.6M154.5 130h1.6M33.5 98.5h1.6M123.5 126h1.6M48 56h1.6M74 54h1.6M164.5 110h1.6M151.5 112h1.6M148.5 204.5h1.6M165.5 101h1.6M123.5 136.5h1.6M189.5 128h1.6M145.5 129h1.6M183 151h1.6M123 114h1.6M95 88h1.6M140.5 129h1.6M32 81h1.6M78.5 98h1.6M114 143.5h1.6M80.5 100.5h1.6M170 97.5h1.6M147 200.5h1.6M130 188.5h1.6M166 197.5h1.6M130.5 166.5h1.6M159 136.5h1.6M111 129.5h1.6M77.5 120h1.6M50 82.5h1.6M178.5 106h1.6M162 198.5h1.6M44.5 74.5h1.6M73.5 129h1.6M40.5 151.5h1.6M128.5 128h1.6M155.5 205.5h1.6M135.5 150.5h1.6M100 117h1.6M91 184h1.6M174.5 127.5h1.6M170 102h1.6M81 117.5h1.6M38 47.5h1.6M167.5 105h1.6M152.5 134h1.6M164.5 176h1.6M178.5 115.5h1.6M149.5 201h1.6M36 96h1.6M35 65h1.6M138.5 151.5h1.6M149.5 113h1.6M154 113h1.6M144.5 129h1.6M132 169.5h1.6M134 165.5h1.6M128.5 118.5h1.6M135 194.5h1.6M38 74.5h1.6M164 188.5h1.6M73.5 152h1.6M149.5 84.5h1.6M148 185.5h1.6M148 124h1.6M164 121.5h1.6M80 152h1.6M135 153h1.6M121 205.5h1.6M151 205.5h1.6M51.5 109.5h1.6M136.5 184h1.6M134.5 181h1.6M163 121.5h1.6M107.5 56h1.6M155 202h1.6M133 150h1.6M166 205.5h1.6M145 127.5h1.6M146.5 192.5h1.6M156.5 104h1.6M151.5 125h1.6M164 101.5h1.6M145 114h1.6M127.5 211h1.6M154 135.5h1.6M16.5 82h1.6M149 155h1.6M140.5 200h1.6M99.5 71h1.6M176 177h1.6M148.5 110.5h1.6M99.5 29h1.6M112 26.5h1.6M128.5 218.5h1.6M151.5 78.5h1.6M127 24.5h1.6M123.5 20h1.6M174 208h1.6M116.5 55h1.6M87.5 205.5h1.6M117.5 219h1.6M125 217.5h1.6M159.5 85.5h1.6M142 75h1.6M116 28h1.6M135.5 75h1.6M154 79h1.6M160 216.5h1.6M119.5 21h1.6M168.5 88h1.6M125 17.5h1.6M81.5 37.5h1.6M136 74h1.6M115.5 51h1.6M179.5 101.5h1.6M123.5 26.5h1.6M125 219h1.6M111.5 29h1.6M118.5 70h1.6M121 18h1.6M126 26h1.6M174 207.5h1.6M126.5 27h1.6M124.5 32h1.6M120 37h1.6M160.5 86h1.6M112 30.5h1.6M123.5 16.5h1.6M135 76.5h1.6M119.5 39h1.6M165.5 212.5h1.6M180 97.5h1.6M110.5 29h1.6M117 27h1.6M116.5 28h1.6M168.5 89h1.6M129 18.5h1.6M176 100h1.6M148.5 23h1.6M162 20.5h1.6M164 25.5h1.6M159 35.5h1.6M161 22h1.6M152 30.5h1.6M156.5 34h1.6M152.5 35.5h1.6M176 33h1.6M157.5 31.5h1.6M151 33.5h1.6M151.5 27.5h1.6M195.5 72.5h1.6" stroke="#0000f5" stroke-width="1.6"/>
<path d="M194 137h1.6M178.5 120.5h1.6M54 153h1.6M158.5 184h1.6M154.5 194.5h1.6M114 116.5h1.6M65.5 138h1.6M163.5 139.5h1.6M144 193h1.6M166 123h1.6M134 161h1.6M153.5 175h1.6M163 211h1.6M191.5 146.5h1.6M162 189.5h1.6M151 118.5h1.6M110.5 133.5h1.6M151 91h1.6M51.5 167.5h1.6M110.5 126.5h1.6M146.5 185h1.6M102.5 177h1.6M136.5 178h1.6M130.5 165.5h1.6M163 209.5h1.6M170.5 145h1.6M159 133.5h1.6M91.5 158.5h1.6M171 108.5h1.6M96 158h1.6M150.5 194h1.6M174 121h1.6M104.5 118.5h1.6M159.5 193.5h1.6M93 128.5h1.6M107.5 192h1.6M186.5 158h1.6M113.5 105h1.6M147 182.5h1.6M176.5 166.5h1.6M47 96h1.6M156.5 135.5h1.6M140.5 123h1.6M113 153h1.6M143.5 109.5h1.6M108 150h1.6M165 104.5h1.6M142.5 80.5h1.6M45 129h1.6M145 129.5h1.6M50 57.5h1.6M62 127h1.6M168 196h1.6M140 138.5h1.6M147.5 116h1.6M101 151h1.6M126 173.5h1.6M143.5 145.5h1.6M138.5 174h1.6M170.5 204h1.6M66 79.5h1.6M140 156h1.6M161.5 187h1.6M186 184.5h1.6M145.5 136h1.6M76.5 157.5h1.6M175 101h1.6M71.5 78.5h1.6M99 196.5h1.6M179.5 119.5h1.6M135.5 89.5h1.6M108.5 84h1.6M195.5 143h1.6M98 186h1.6M92.5 203h1.6M80 166.5h1.6M69.5 105h1.6M87 101h1.6M155 188.5h1.6M129.5 169.5h1.6M120.5 212h1.6M60.5 75.5h1.6M106 169h1.6M125 210.5h1.6M142.5 114.5h1.6M72.5 106.5h1.6M176.5 103h1.6M114 170.5h1.6M152 146.5h1.6M159.5 92h1.6M41 86h1.6M187 125.5h1.6M24.5 113h1.6M185 114h1.6M179.5 131.5h1.6M137.5 127.5h1.6M32.5 78.5h1.6M97 41h1.6M68.5 116h1.6M138 151h1.6M64 168.5h1.6M152.5 108h1.6M167 148h1.6M52 143h1.6M163 166.5h1.6M58 151h1.6M43 58h1.6M118.5 105.5h1.6M144 190.5h1.6M136.5 210h1.6M143 177.5h1.6M152 197h1.6M142.5 139h1.6M143.5 197h1.6M141.5 91h1.6M122.5 184h1.6M94.5 163h1.6M149 184h1.6M151.5 202h1.6M138 203h1.6M112 33h1.6M134 108.5h1.6M149 129.5h1.6M45 84h1.6M46 92h1.6M143.5 169.5h1.6M55 81h1.6M100 164h1.6M99 37.5h1.6M44.5 99.5h1.6M107 60h1.6M120.5 185.5h1.6M18.5 101h1.6M164 156.5h1.6M130.5 159.5h1.6M162.5 188h1.6M150.5 201.5h1.6M32 139h1.6M129.5 145h1.6M52 106h1.6M156.5 185.5h1.6M175 150.5h1.6M169 129.5h1.6M148 85.5h1.6M158.5 203.5h1.6M170 197h1.6M105 207h1.6M48 142h1.6M165 192.5h1.6M133 150h1.6M130 114.5h1.6M21.5 80h1.6M159 123h1.6M177.5 158h1.6M64 115h1.6M94.5 186.5h1.6M96.5 42h1.6M103 81h1.6M40 151h1.6M173 188.5h1.6M147.5 154.5h1.6M133.5 173h1.6M40.5 94h1.6M167 204.5h1.6M191 122.5h1.6M32.5 68.5h1.6M154.5 202.5h1.6M171 188.5h1.6M176 123.5h1.6M122 171h1.6M141 158h1.6M173 104h1.6M33 82h1.6M43 128h1.6M63.5 140h1.6M164.5 148.5h1.6M159 174h1.6M155 204h1.6M98 127.5h1.6M120.5 155.5h1.6M168.5 203h1.6M45.5 69h1.6M165.5 204h1.6M88.5 141.5h1.6M150 167h1.6M149.5 176h1.6M150.5 195.5h1.6M131.5 172h1.6M108 173h1.6M98 128.5h1.6M67 150h1.6M132 196.5h1.6M85.5 151.5h1.6M169.5 148.5h1.6M143.5 187h1.6M146.5 143.5h1.6M152.5 158h1.6M22.5 106h1.6M131 172h1.6M27 109h1.6M180.5 103.5h1.6M161.5 213h1.6M166.5 216.5h1.6M181.5 105.5h1.6M174 206h1.6M178.5 207.5h1.6M158 27h1.6M163.5 23.5h1.6M156 37h1.6M153 25h1.6M154.5 29h1.6M149.5 23.5h1.6M164 27h1.6M145 20.5h1.6M159 25h1.6M152 20.5h1.6M132.5 28.5h1.6M124.5 11.5h1.6M118.5 27h1.6M117 23.5h1.6" stroke="#005cff" stroke-width="1.6"/>
<path d="M157.5 182h1.6M171.5 178h1.6M171.5 135h1.6M190.5 159.5h1.6M168.5 174.5h1.6M191.5 128.5h1.6M190.5 163h1.6M182 177h1.6M184 179.5h1.6M185.5 178h1.6M189 127.5h1.6M167 161h1.6M181.5 175h1.6M177 136h1.6M170.5 169.5h1.6M187 178.5h1.6M179.5 133.5h1.6M162 143h1.6M165 133h1.6M177.5 145.5h1.6M188 154h1.6M183 178.5h1.6M194.5 175h1.6M200.5 165.5h1.6M195.5 177.5h1.6M209.5 67h1.6M214 46.5h1.6M136 75.5h1.6M162.5 114.5h1.6M152.5 92.5h1.6M165 92.5h1.6" stroke="#ffc200" stroke-width="1.6"/>
<path d="M190 132.5h1.6M168 167.5h1.6M162 128h1.6M142.5 165.5h1.6M156 186.5h1.6M151 127.5h1.6M169.5 147h1.6M189.5 125h1.6M195 147.5h1.6M152.5 143.5h1.6M180.5 172h1.6M167.5 139.5h1.6M168.5 200h1.6M156.5 120.5h1.6M152 173h1.6M157 154.5h1.6M147 159.5h1.6M183.5 137h1.6M144.5 179h1.6M159.5 125.5h1.6M168.5 164h1.6M167.5 120h1.6M183.5 132.5h1.6M162 127.5h1.6M165.5 122h1.6M173 146.5h1.6M177 186.5h1.6M190.5 123h1.6M161.5 170h1.6M184 124h1.6M160.5 154.5h1.6M146 144.5h1.6M148 161.5h1.6M170.5 132.5h1.6M159.5 194.5h1.6M152.5 148.5h1.6M166.5 120h1.6M174.5 134h1.6M148.5 170.5h1.6M194 146.5h1.6M194.5 155h1.6M176.5 171h1.6M179 198h1.6M154 158.5h1.6M181 116h1.6M180.5 141.5h1.6M171.5 199.5h1.6M163.5 120.5h1.6M164 172h1.6M187.5 178h1.6M174 134.5h1.6M171.5 199h1.6M184 160.5h1.6M141 163.5h1.6M155.5 185.5h1.6M150.5 154h1.6M154 132h1.6M181 192.5h1.6M170 170.5h1.6M201.5 163.5h1.6M194.5 129.5h1.6M197.5 138.5h1.6M192.5 55.5h1.6M195.5 59h1.6M202.5 53h1.6M137.5 72h1.6M140 47.5h1.6M148.5 74h1.6M133 72h1.6M168.5 95.5h1.6" stroke="#80ff80" stroke-width="1.6"/>
<path d="M192 159h1.6M187 178h1.6M180.5 149h1.6M176 125h1.6M171.5 157.5h1.6M156.5 158.5h1.6M175 164h1.6M192 133.5h1.6M175.5 175.5h1.6M181.5 173h1.6M188.5 148.5h1.6M187.5 139h1.6M181 140.5h1.6M168.5 138.5h1.6M181.5 160h1.6M161 158h1.6M185.5 167.5h1.6M187.5 138.5h1.6M165.5 154.5h1.6M183.5 159h1.6M169.5 148h1.6M185.5 162h1.6M184 179.5h1.6M182.5 147.5h1.6M206 57.5h1.6M192.5 49h1.6M194.5 60.5h1.6M190.5 56.5h1.6M153.5 47.5h1.6M134 76.5h1.6M140 71h1.6" stroke="#ff5c00" stroke-width="1.6"/>
<path d="M65.5 175.5h1.6M34.5 121h1.6M38 70.5h1.6M117 199.5h1.6M96 203h1.6M129 139.5h1.6M53 60h1.6M45.5 65h1.6M84.5 134.5h1.6M100.5 92.5h1.6M85 111.5h1.6M68.5 120h1.6M34.5 95.5h1.6M91 195.5h1.6M51.5 132h1.6M119 203.5h1.6M131.5 114h1.6M37 59h1.6M155 102.5h1.6M113 203h1.6M42 136h1.6M48.5 146.5h1.6M64.5 141h1.6M39.5 92.5h1.6M28.5 59.5h1.6M70.5 116h1.6M24 104.5h1.6M96.5 184.5h1.6M48 108h1.6M25 112h1.6M89.5 175.5h1.6M68.5 105h1.6M53 50.5h1.6M80.5 46h1.6M101.5 105.5h1.6M102.5 193h1.6M131 120.5h1.6M82.5 145.5h1.6M115 149h1.6M82 50h1.6M98.5 42h1.6M51 60h1.6M44.5 73h1.6M43 135.5h1.6M144.5 122.5h1.6M68 70h1.6M67 74.5h1.6M26 70.5h1.6M48 111h1.6M93.5 90h1.6M133 130h1.6M76.5 181.5h1.6M85 86.5h1.6M75.5 150.5h1.6M115 31h1.6M74.5 75h1.6M81 121.5h1.6M106 84.5h1.6M123.5 164h1.6M115 99h1.6M50.5 138h1.6M100 90h1.6M116.5 166.5h1.6M29 136h1.6M78 105h1.6M149.5 117h1.6M96.5 98.5h1.6M152.5 95h1.6M19.5 76.5h1.6M114 67h1.6M92.5 117.5h1.6M92.5 68h1.6M75 47h1.6M38 66.5h1.6M27.5 126.5h1.6M78.5 189.5h1.6M61 154.5h1.6M84.5 45h1.6M30 135h1.6M114 41h1.6M19.5 74.5h1.6M104.5 181h1.6M110.5 128.5h1.6M106 112h1.6M60 66.5h1.6M95 144.5h1.6M92.5 103h1.6M77.5 54.5h1.6M35 135h1.6M113 147h1.6M113.5 66.5h1.6M97.5 134.5h1.6M35.5 137h1.6M78.5 171.5h1.6M68 74.5h1.6M81 92h1.6M137.5 187h1.6M82 153h1.6M113 78h1.6M46.5 100h1.6M74 109h1.6M115.5 158h1.6M88 196.5h1.6M106.5 63.5h1.6M37 81.5h1.6M96.5 177.5h1.6M62.5 85.5h1.6M155.5 92.5h1.6M114.5 49.5h1.6M104.5 50h1.6M86 132.5h1.6M125 163h1.6M69.5 92.5h1.6M50.5 116.5h1.6M50 99.5h1.6M116 135h1.6M75 178h1.6M115.5 208.5h1.6M123 209h1.6M39 97.5h1.6M53 121h1.6M50.5 141h1.6M49 164.5h1.6M60 177.5h1.6M30.5 55h1.6M103.5 137h1.6M52 95.5h1.6M49.5 53h1.6M83.5 67.5h1.6M98.5 84.5h1.6M85 49.5h1.6M175.5 104.5h1.6M139.5 212h1.6M46.5 46.5h1.6M72.5 151.5h1.6M78.5 164.5h1.6M98.5 56.5h1.6M35.5 96h1.6M134 137.5h1.6M97 92h1.6M28.5 126h1.6M105.5 114.5h1.6M50.5 80.5h1.6M46.5 140h1.6M114 105h1.6M29.5 98h1.6M109 53.5h1.6M96.5 142h1.6M76.5 57h1.6M91.5 79.5h1.6M109 183.5h1.6M116.5 114h1.6M37 112h1.6M100.5 109.5h1.6M119.5 193.5h1.6M153.5 93.5h1.6M115.5 163h1.6M71 88.5h1.6M59.5 136.5h1.6M69.5 86h1.6M56 83h1.6M145 202.5h1.6M80.5 175h1.6M97.5 55.5h1.6M148 91h1.6M46.5 125.5h1.6M154 206.5h1.6M124 134.5h1.6M32.5 84h1.6M97 100h1.6M121 39h1.6M62.5 183h1.6M119.5 68.5h1.6M119.5 71.5h1.6M88 203h1.6M14 74.5h1.6M25.5 59h1.6M31 148h1.6M43.5 162h1.6M109 216h1.6M113.5 217.5h1.6M124.5 27.5h1.6M108 212.5h1.6M58.5 44h1.6M61.5 43.5h1.6M50 44.5h1.6M86 35h1.6M121.5 15.5h1.6M28 53h1.6M138 71.5h1.6M116 58.5h1.6M20 66h1.6M152 75h1.6M142 77h1.6M15.5 78.5h1.6M81 36.5h1.6M119.5 22h1.6M26 136.5h1.6M16 77.5h1.6M16 96h1.6M38 45h1.6M77 39.5h1.6M23.5 133.5h1.6M120 21.5h1.6M21.5 60h1.6M176.5 94.5h1.6M23.5 126h1.6M117.5 20.5h1.6M32.5 45.5h1.6M72.5 190.5h1.6M16.5 109.5h1.6M70 39h1.6M170.5 93h1.6M159.5 84h1.6M59 44.5h1.6M63 185.5h1.6M37 154.5h1.6M81 35h1.6M128.5 76h1.6M19.5 69h1.6M123 19.5h1.6M87 35.5h1.6M66.5 44h1.6M61 181h1.6M116 54h1.6M71 43h1.6M88.5 35h1.6M78 40.5h1.6M24.5 54.5h1.6M122.5 17h1.6M148 78.5h1.6M127.5 78.5h1.6M104 29h1.6M108.5 212.5h1.6M32.5 47h1.6M20 116h1.6M167 88.5h1.6M19.5 65h1.6M35 48.5h1.6M113.5 28.5h1.6M10 86h1.6M18 104h1.6M126 22h1.6M61.5 185h1.6M16.5 68h1.6M37 45h1.6M77 40.5h1.6M25 59.5h1.6M17.5 107.5h1.6M69 187h1.6M120.5 22.5h1.6M169 93h1.6M33 47h1.6M58 180.5h1.6M31.5 50h1.6M123.5 19h1.6M118.5 57h1.6M21.5 57h1.6" stroke="#00008f" stroke-width="1.6"/>
<path d="M177 138h1.6M195 149.5h1.6M185.5 153h1.6M182 180.5h1.6M193.5 170.5h1.6M183 159.5h1.6M194.5 150h1.6M196.5 146h1.6M147 68.5h1.6M147.5 70h1.6M127 73h1.6M160 93.5h1.6M177 86h1.6" stroke="#800000" stroke-width="1.6"/>
<path d="M171 147.5h1.6M191.5 151h1.6M171 155.5h1.6M186 184.5h1.6M195 154h1.6M186 157h1.6M193 141h1.6M182.5 164.5h1.6M186.5 154.5h1.6M190 138h1.6M185.5 150h1.6M189 49.5h1.6M161.5 63h1.6M159 69h1.6M115.5 87h1.6M172 91.5h1.6M148 102h1.6M163 90h1.6" stroke="#f30000" stroke-width="1.6"/>
</g>
<g transform="translate(1371 1516.3)">
<path d="M47.3 46.1Q41 44.3 36.1 46.8Q31.1 49.2 26.1 56.1Q21.1 62.9 18.7 72.9Q16.2 82.8 18.7 95.2Q21.1 107.7 23.6 117.6Q26.1 127.6 33.6 138.8Q41 150 48.5 161.1Q56 172.3 64.7 181Q73.4 189.7 85.8 197.2Q98.2 204.7 108.2 209.6Q118.1 214.6 128.1 217.1Q138 219.6 148 218.3Q157.9 217.1 166.6 212.1Q175.3 207.2 181.5 198.5Q187.8 189.7 192.1 178.6Q196.5 167.4 197.7 154.9Q199 142.5 197.1 133.8Q195.2 125.1 190.2 118.9Q185.3 112.7 179.1 106.4Q172.8 100.2 164.1 94.6Q155.4 89 146.7 85.9Q138 82.8 133 79.1Q128.1 75.4 124.3 67.9Q120.6 60.4 118.1 54.2Q115.6 48 119.4 38Q123.1 28.1 126.8 21.3Q130.6 14.4 128.7 14.4Q126.8 14.4 120 25Q113.2 35.6 105.7 35.6Q98.2 35.6 94.5 34.9Q90.8 34.3 85.8 39.9Q80.8 45.5 74.6 48Q68.4 50.5 60.9 49.2Q53.5 48 47.3 46.1Z" fill="#0a18cc"/>
<path d="M47.3 46.1Q41 44.3 36.1 46.8Q31.1 49.2 26.1 56.1Q21.1 62.9 18.7 72.9Q16.2 82.8 18.7 95.2Q21.1 107.7 23.6 117.6Q26.1 127.6 33.6 138.8Q41 150 48.5 161.1Q56 172.3 64.7 181Q73.4 189.7 85.8 197.2Q98.2 204.7 108.2 209.6Q118.1 214.6 128.1 217.1Q138 219.6 148 218.3Q157.9 217.1 166.6 212.1Q175.3 207.2 181.5 198.5Q187.8 189.7 192.1 178.6Q196.5 167.4 197.7 154.9Q199 142.5 197.1 133.8Q195.2 125.1 190.2 118.9Q185.3 112.7 179.1 106.4Q172.8 100.2 164.1 94.6Q155.4 89 146.7 85.9Q138 82.8 133 79.1Q128.1 75.4 124.3 67.9Q120.6 60.4 118.1 54.2Q115.6 48 119.4 38Q123.1 28.1 126.8 21.3Q130.6 14.4 128.7 14.4Q126.8 14.4 120 25Q113.2 35.6 105.7 35.6Q98.2 35.6 94.5 34.9Q90.8 34.3 85.8 39.9Q80.8 45.5 74.6 48Q68.4 50.5 60.9 49.2Q53.5 48 47.3 46.1Z" fill="url(#hot2)"/>
<path d="M47.3 46.1Q41 44.3 36.1 46.8Q31.1 49.2 26.1 56.1Q21.1 62.9 18.7 72.9Q16.2 82.8 18.7 95.2Q21.1 107.7 23.6 117.6Q26.1 127.6 33.6 138.8Q41 150 48.5 161.1Q56 172.3 64.7 181Q73.4 189.7 85.8 197.2Q98.2 204.7 108.2 209.6Q118.1 214.6 128.1 217.1Q138 219.6 148 218.3Q157.9 217.1 166.6 212.1Q175.3 207.2 181.5 198.5Q187.8 189.7 192.1 178.6Q196.5 167.4 197.7 154.9Q199 142.5 197.1 133.8Q195.2 125.1 190.2 118.9Q185.3 112.7 179.1 106.4Q172.8 100.2 164.1 94.6Q155.4 89 146.7 85.9Q138 82.8 133 79.1Q128.1 75.4 124.3 67.9Q120.6 60.4 118.1 54.2Q115.6 48 119.4 38Q123.1 28.1 126.8 21.3Q130.6 14.4 128.7 14.4Q126.8 14.4 120 25Q113.2 35.6 105.7 35.6Q98.2 35.6 94.5 34.9Q90.8 34.3 85.8 39.9Q80.8 45.5 74.6 48Q68.4 50.5 60.9 49.2Q53.5 48 47.3 46.1Z" fill="url(#spk)" stroke="url(#spk2)" stroke-width="26"/>
<path d="M197 139.5h2.4M115.5 212.5h2.4M76 47.5h2.4M19 93.5h2.4M56 51.5h2.4M44 52h2.4M101 39.5h2.4M104.5 36.5h2.4M42.5 48h2.4M122 65.5h2.4M46.5 47h2.4M25.5 120h2.4M189.5 119.5h2.4M119 32h2.4M45 144h2.4M117 43.5h2.4M57.5 54.5h2.4M143 85h2.4M117 34.5h2.4M189 176h2.4M57 48.5h2.4M189.5 179h2.4M94.5 199h2.4M23.5 61.5h2.4M60.5 173h2.4M31 129.5h2.4M19 93.5h2.4M22.5 64h2.4M107 206h2.4M132 79.5h2.4M195 153.5h2.4M100.5 35.5h2.4M136.5 218h2.4M66 181h2.4M126 17h2.4M77.5 49.5h2.4M117 57h2.4M183.5 112h2.4M154.5 214h2.4M114.5 211.5h2.4M112 206.5h2.4M147 217h2.4M124.5 24.5h2.4M127.5 17h2.4M74.5 49h2.4M193.5 158h2.4M37.5 139.5h2.4M116.5 47h2.4M188.5 181h2.4M192 166h2.4M54 50.5h2.4M124 25.5h2.4M113.5 53h2.4M57.5 173h2.4M42 149.5h2.4M153.5 217h2.4M155.5 92.5h2.4M168 210h2.4M45.5 46h2.4M47.5 50h2.4M45 49.5h2.4M83 194.5h2.4M191.5 168.5h2.4M194.5 143h2.4M73.5 48.5h2.4M24 103.5h2.4M76 47.5h2.4M87 196h2.4M187.5 180.5h2.4M25.5 116h2.4M19 84h2.4M159.5 96h2.4M151.5 217h2.4M32 51h2.4M140.5 210h2.4M129.5 216.5h2.4M42 150h2.4M196 157.5h2.4M112.5 210h2.4M22 65h2.4M181.5 195h2.4M180 197.5h2.4M173.5 206h2.4M27 124.5h2.4M94.5 36h2.4M22 103.5h2.4M19.5 76h2.4M21 84.5h2.4M174.5 106.5h2.4M169 104.5h2.4M128.5 80.5h2.4M80 188.5h2.4M79.5 193h2.4M20.5 96h2.4M22 99.5h2.4M113 33.5h2.4M45.5 47h2.4M164 95.5h2.4M41.5 47h2.4M197.5 139.5h2.4M156 95.5h2.4M123.5 214h2.4M139 216h2.4M164 213.5h2.4M100 38h2.4M127 20.5h2.4M163.5 96.5h2.4M18.5 90.5h2.4M32.5 58h2.4M128 17h2.4M161.5 94h2.4M68 52h2.4M154.5 216h2.4M186 184h2.4M37 50h2.4M196 132h2.4M78 48h2.4M24.5 65h2.4M118.5 34h2.4M78 48h2.4M172.5 101h2.4M117 41h2.4M47.5 159.5h2.4M123.5 22h2.4M122 29h2.4M131 217h2.4M100 36.5h2.4M71 51h2.4M160.5 209h2.4M127.5 18h2.4M86 45.5h2.4M163.5 206.5h2.4M37.5 46.5h2.4M112.5 210h2.4M28.5 57h2.4M22 102h2.4M162 213.5h2.4M26.5 119.5h2.4M80 52.5h2.4M131.5 81.5h2.4M79.5 46.5h2.4M182.5 111.5h2.4M21 77.5h2.4M62.5 50.5h2.4M194 154h2.4M135 81.5h2.4M90.5 40.5h2.4M65 49.5h2.4M124 68.5h2.4M194.5 147h2.4M19 73h2.4M90.5 41.5h2.4M78.5 190.5h2.4M20 97.5h2.4M127.5 16.5h2.4M186.5 115h2.4M35 50h2.4M122 67h2.4M193 167h2.4M135 87.5h2.4M116 207h2.4M142.5 86.5h2.4M195.5 164.5h2.4M95.5 202.5h2.4M74 183.5h2.4M32.5 129h2.4M196 130h2.4M124.5 24h2.4M70 51.5h2.4M98.5 203.5h2.4M89.5 39h2.4M81.5 48.5h2.4M41.5 49.5h2.4M59.5 52.5h2.4M96 36h2.4M188.5 186h2.4M172.5 104.5h2.4M162.5 211.5h2.4M30 131.5h2.4M134 81h2.4M193.5 127.5h2.4M158.5 94h2.4M128 16h2.4M170 209h2.4M91.5 197.5h2.4M43.5 51h2.4M121.5 215h2.4M44.5 49h2.4M29.5 66.5h2.4M35.5 141h2.4M30.5 56.5h2.4M25.5 65h2.4M20.5 75.5h2.4M75.5 48.5h2.4M132.5 79.5h2.4M60 173.5h2.4M37.5 46h2.4M80 45.5h2.4M41.5 49.5h2.4M73.5 51h2.4M22.5 108h2.4M140.5 84.5h2.4M125 211h2.4M77.5 190h2.4M80.5 47.5h2.4M134 82h2.4M26 118h2.4M19 89h2.4M157 214h2.4M147 216.5h2.4M120 27h2.4M121 26.5h2.4M69 181.5h2.4M126.5 73.5h2.4M21.5 106.5h2.4M184 189.5h2.4M174.5 201.5h2.4M41 50h2.4M45.5 147.5h2.4M88 194.5h2.4M24 105h2.4M78.5 189.5h2.4M160.5 213h2.4M64 51h2.4M132.5 81h2.4M53.5 165h2.4M116 35h2.4M21 67h2.4M22 89.5h2.4M174 203h2.4M195.5 147.5h2.4M137.5 218h2.4M102.5 39.5h2.4M193 169.5h2.4M166 96.5h2.4M116.5 54h2.4M53.5 49h2.4M52 160h2.4M126.5 73.5h2.4M84.5 43.5h2.4M20.5 84.5h2.4M109.5 35.5h2.4M117 47.5h2.4M71.5 50.5h2.4M54 50.5h2.4M94.5 40h2.4M22 83h2.4M37.5 138.5h2.4M180.5 108h2.4M102 206h2.4M192 175h2.4M65 176.5h2.4M28.5 125h2.4M34.5 139h2.4M61.5 52.5h2.4M55.5 170.5h2.4M148.5 86.5h2.4M77.5 47.5h2.4M139 85.5h2.4M85 43h2.4M23 76h2.4M105 35.5h2.4M97 39.5h2.4M118 59.5h2.4M41.5 46h2.4M28.5 124.5h2.4M39.5 143h2.4M175.5 203.5h2.4M94 201.5h2.4M171.5 206h2.4" stroke="#fff" stroke-width="2.4"/>
<path d="M169 165.5h1.6M149.5 139h1.6M171.5 178h1.6M185.5 117.5h1.6M193.5 147.5h1.6M166.5 121.5h1.6M157.5 183.5h1.6M194 132h1.6M148 188.5h1.6M181.5 161.5h1.6M149 151h1.6M194.5 136.5h1.6M143 154.5h1.6M162.5 153.5h1.6M158 148.5h1.6M166 126.5h1.6M156 167.5h1.6M190.5 140.5h1.6M171 168h1.6M162.5 114.5h1.6M174 129h1.6M170 140.5h1.6M153.5 162h1.6M168 193.5h1.6M148 171h1.6M149 141.5h1.6M173.5 188h1.6M158 129.5h1.6M150.5 154.5h1.6M163 122.5h1.6M174.5 123h1.6M178.5 179.5h1.6M196 155h1.6M161.5 148.5h1.6M148 163h1.6M193.5 132.5h1.6M183.5 152h1.6M181 118.5h1.6M178 185h1.6M161 179h1.6M187 174.5h1.6M163.5 117.5h1.6M172.5 208h1.6M145 149.5h1.6M188.5 152h1.6M157 199.5h1.6M143 164h1.6M163.5 177h1.6M184 144.5h1.6M176.5 139.5h1.6M185 165.5h1.6M192 124.5h1.6M160 174h1.6M158.5 142h1.6M175 144h1.6M159.5 118h1.6M142 161h1.6M145.5 159h1.6M141.5 152.5h1.6M152.5 171.5h1.6M162 171.5h1.6M185 116h1.6M183.5 154h1.6M161.5 137h1.6M172 175h1.6M190.5 160h1.6M153 195.5h1.6M154 175.5h1.6M192 135h1.6M176.5 200.5h1.6M185.5 182.5h1.6M152 183.5h1.6M149.5 139.5h1.6M185.5 136.5h1.6M147 179.5h1.6M184.5 170.5h1.6M164.5 161h1.6M182.5 171.5h1.6M180 125h1.6M161.5 171h1.6M179.5 116h1.6M179 189h1.6M161.5 200h1.6M163 163.5h1.6M187 117h1.6M200 143h1.6M200 147h1.6M160.5 31.5h1.6M155.5 29.5h1.6M125 33h1.6M116.5 21.5h1.6M124 8h1.6M122 25h1.6M116 5h1.6M110.5 17h1.6M120.5 61h1.6" stroke="#25ffdb" stroke-width="1.6"/>
<path d="M189.5 126h1.6M154 161h1.6M177.5 199h1.6M54 119.5h1.6M124 142.5h1.6M158 163h1.6M36.5 125.5h1.6M155.5 189h1.6M90 151.5h1.6M152 134.5h1.6M160 191.5h1.6M152 158.5h1.6M143 175.5h1.6M146.5 89.5h1.6M49.5 64h1.6M185.5 148.5h1.6M186.5 185h1.6M178 109h1.6M191 147h1.6M70 176.5h1.6M65 173h1.6M155 192h1.6M142.5 192.5h1.6M62 134.5h1.6M148 154h1.6M35.5 95h1.6M178.5 135h1.6M70.5 59h1.6M141 154.5h1.6M113.5 163.5h1.6M165.5 144h1.6M106 93.5h1.6M129 75h1.6M133.5 88.5h1.6M49.5 150h1.6M142.5 128.5h1.6M144 171h1.6M160.5 195h1.6M128 154h1.6M64.5 56.5h1.6M88 51.5h1.6M113 147h1.6M164.5 137.5h1.6M71.5 126h1.6M160.5 177.5h1.6M85.5 168h1.6M80.5 159.5h1.6M112.5 66.5h1.6M145 139h1.6M141.5 156.5h1.6M166.5 203h1.6M145 143h1.6M159 187h1.6M48.5 64h1.6M42 64.5h1.6M97.5 156.5h1.6M28 111.5h1.6M98 37h1.6M156 163.5h1.6M102.5 62h1.6M148.5 199h1.6M95.5 35.5h1.6M155.5 184.5h1.6M144.5 169h1.6M116.5 31h1.6M171 204.5h1.6M192.5 139.5h1.6M101.5 202h1.6M112.5 198.5h1.6M160.5 205h1.6M59.5 79h1.6M72 140.5h1.6M148.5 191h1.6M109.5 66.5h1.6M155 163h1.6M179.5 141h1.6M185 139h1.6M161 195h1.6M162 193h1.6M163 190.5h1.6M173 107.5h1.6M85.5 194h1.6M185.5 125h1.6M194.5 153h1.6M116 153h1.6M157.5 120.5h1.6M182.5 134.5h1.6M79.5 149.5h1.6M52.5 78h1.6M61 145.5h1.6M171.5 145.5h1.6M158 169.5h1.6M143 215.5h1.6M161.5 124.5h1.6M145.5 162.5h1.6M144.5 115h1.6M153 194.5h1.6M146 191h1.6M164 200.5h1.6M165 192.5h1.6M161 118h1.6M160.5 189h1.6M103 66h1.6M165.5 131h1.6M137.5 210.5h1.6M172.5 206h1.6M142 140.5h1.6M185.5 174.5h1.6M110 156h1.6M163.5 209.5h1.6M163.5 122.5h1.6M145 189.5h1.6M180 139h1.6M81.5 163h1.6M146 169.5h1.6M166.5 130.5h1.6M153 126.5h1.6M100.5 73.5h1.6M141.5 145h1.6M176 143.5h1.6M184 127h1.6M153 132.5h1.6M179.5 157.5h1.6M138.5 215h1.6M112.5 71h1.6M160 174h1.6M179.5 118.5h1.6M158.5 197.5h1.6M142 143h1.6M153.5 187.5h1.6M95 69.5h1.6M170.5 134.5h1.6M149.5 111.5h1.6M176.5 179.5h1.6M33.5 137.5h1.6M60.5 168h1.6M141 124h1.6M181.5 136h1.6M108.5 125.5h1.6M152.5 120h1.6M144.5 147.5h1.6M143.5 143h1.6M175.5 110h1.6M186 160h1.6M24.5 63.5h1.6M171 167.5h1.6M151.5 129.5h1.6M180.5 142h1.6M139.5 163.5h1.6M150.5 143.5h1.6M109.5 57h1.6M50.5 98.5h1.6M164 208.5h1.6M37.5 140.5h1.6M38 110h1.6M136 144.5h1.6M96.5 186.5h1.6M152.5 131h1.6M146.5 140.5h1.6M180 112.5h1.6M80 149.5h1.6M42 115h1.6M151 140h1.6M182.5 143.5h1.6M179.5 113h1.6M147 182.5h1.6M43 133h1.6M75 137.5h1.6M37 115h1.6M111 125.5h1.6M65.5 125.5h1.6M112.5 210.5h1.6M47.5 115.5h1.6M52.5 153.5h1.6M98.5 88h1.6M177.5 148h1.6M146.5 146h1.6M178 117h1.6M165.5 142h1.6M161 189h1.6M167 158.5h1.6M168.5 189.5h1.6M94.5 100h1.6M81 131h1.6M196.5 162.5h1.6M96 157.5h1.6M132.5 173.5h1.6M166 127h1.6M175 150h1.6M178 202.5h1.6M171.5 154.5h1.6M147.5 138.5h1.6M146.5 195h1.6M151.5 187.5h1.6M185 136.5h1.6M184.5 131h1.6M35.5 52.5h1.6M179.5 128h1.6M164 134h1.6M188 185.5h1.6M170 111.5h1.6M167 117h1.6M124.5 204.5h1.6M158.5 196h1.6M133 128.5h1.6M171 164h1.6M182 110h1.6M109.5 194h1.6M69 55.5h1.6M53 73h1.6M173 192h1.6M141.5 115h1.6M140 109h1.6M153.5 154.5h1.6M163 113.5h1.6M141.5 143h1.6M84 191.5h1.6M142.5 179h1.6M158.5 185h1.6M127 112.5h1.6M84 179h1.6M127.5 193h1.6M64 137h1.6M179.5 125.5h1.6M161.5 198.5h1.6M37 140.5h1.6M170 120h1.6M74 122h1.6M139 139.5h1.6M161 205h1.6M91 130h1.6M134 218.5h1.6M85.5 38h1.6M83.5 36h1.6M132.5 14.5h1.6M194 120.5h1.6M126.5 217.5h1.6M144 84.5h1.6M173.5 209h1.6M120 218h1.6M171.5 98h1.6M164 93.5h1.6M123.5 17.5h1.6M150 83.5h1.6M163 90.5h1.6M131 17.5h1.6M95.5 205h1.6M134 17.5h1.6M174 209.5h1.6M130 70.5h1.6M182.5 201.5h1.6M102.5 33.5h1.6M191.5 117h1.6M173.5 207.5h1.6M128 217.5h1.6M130 14.5h1.6M129.5 16.5h1.6M174 100.5h1.6M127 15h1.6M103 33h1.6M174.5 101h1.6M182 108h1.6M165 215h1.6M86 199h1.6M186 113h1.6M130 22h1.6M96.5 205.5h1.6M174.5 94h1.6M141.5 82h1.6M155.5 218.5h1.6M185 111h1.6M185.5 107h1.6M153 87.5h1.6M170 98h1.6M123 56h1.6M132 218.5h1.6M164.5 31h1.6M148 33.5h1.6M163.5 27h1.6M161 29.5h1.6M156 27h1.6M160 26h1.6M155 24.5h1.6M162.5 33h1.6M126 60.5h1.6M113 60.5h1.6" stroke="#0000f5" stroke-width="1.6"/>
<path d="M179 122.5h1.6M112.5 112.5h1.6M94.5 154h1.6M101 160.5h1.6M123.5 125h1.6M173 200h1.6M115.5 52.5h1.6M167 158h1.6M189 153h1.6M185 139h1.6M132.5 179.5h1.6M190 169.5h1.6M159.5 198.5h1.6M174 135h1.6M129 144.5h1.6M191 149h1.6M168.5 162.5h1.6M45 59.5h1.6M178.5 118.5h1.6M182 140h1.6M166 130.5h1.6M127.5 87h1.6M134 134.5h1.6M145.5 181.5h1.6M101 157.5h1.6M150 170h1.6M177.5 134h1.6M179.5 130.5h1.6M191 137h1.6M177 111.5h1.6M140.5 193.5h1.6M192 140h1.6M60 126.5h1.6M146.5 174.5h1.6M179 137.5h1.6M171.5 136.5h1.6M177.5 125.5h1.6M186 151.5h1.6M165 168h1.6M114.5 203.5h1.6M178 131.5h1.6M149 171.5h1.6M175.5 184.5h1.6M152.5 113.5h1.6M101.5 41h1.6M162.5 112.5h1.6M132.5 151.5h1.6M125.5 96.5h1.6M189 151.5h1.6M92.5 200.5h1.6M153 140.5h1.6M110.5 167.5h1.6M167 119.5h1.6M60 175.5h1.6M147.5 197h1.6M117 168h1.6M140 98h1.6M190 136h1.6M142.5 149.5h1.6M66.5 100h1.6M154.5 98.5h1.6M112.5 73h1.6M150.5 189.5h1.6M183 174h1.6M83.5 56h1.6M181.5 124.5h1.6M176 202.5h1.6M152 151.5h1.6M167 126.5h1.6M148.5 152h1.6M30.5 93.5h1.6M35 125h1.6M144.5 175.5h1.6M145 150.5h1.6M160 157h1.6M164.5 145h1.6M193.5 162h1.6M173 120h1.6M50 88h1.6M178.5 200.5h1.6M135 134h1.6M181 120h1.6M119.5 177h1.6M181.5 137h1.6M168 206h1.6M148 113h1.6M44 72.5h1.6M84 115.5h1.6M80.5 94.5h1.6M140.5 180h1.6M187 178h1.6M165 172h1.6M133 163h1.6M153 174h1.6M190 130.5h1.6M178.5 128h1.6M145.5 108.5h1.6M74 84.5h1.6M171 146h1.6M193 127.5h1.6M188.5 158.5h1.6M113 109h1.6M156.5 167h1.6M147 177h1.6M20 98h1.6M162.5 119h1.6M162 151.5h1.6M119 116.5h1.6M117 55h1.6M126 203h1.6M158 122.5h1.6M84.5 90h1.6M165.5 126.5h1.6M131 145h1.6M161.5 195.5h1.6M190 137h1.6M166.5 184h1.6M100 125.5h1.6M58.5 121.5h1.6M130 188h1.6M156 168h1.6M164 199.5h1.6M148.5 120h1.6M85.5 113h1.6M163.5 150h1.6M137 184h1.6M115 181.5h1.6M157.5 164.5h1.6M170.5 119h1.6M169.5 176.5h1.6M135.5 105h1.6M164.5 132.5h1.6M134.5 198.5h1.6M161.5 174h1.6M151.5 185.5h1.6M191.5 158h1.6M182 119h1.6M166.5 154.5h1.6M121 200h1.6M194 168.5h1.6M158.5 92.5h1.6M184.5 154h1.6M160 194.5h1.6M190 184.5h1.6M191 184.5h1.6M198 155.5h1.6M186 192h1.6M157.5 33h1.6M159 29.5h1.6M168 29.5h1.6M162 23.5h1.6M158.5 28.5h1.6M169.5 31h1.6M155.5 26.5h1.6M158.5 27.5h1.6M131 20.5h1.6M124 24.5h1.6M116 25.5h1.6M124 50.5h1.6" stroke="#00c2ff" stroke-width="1.6"/>
<path d="M179.5 178h1.6M191 159.5h1.6M187.5 154h1.6M171.5 168h1.6M177 192h1.6M182.5 164h1.6M196 141.5h1.6M171.5 162h1.6M183 164h1.6M160 167.5h1.6M175 166.5h1.6M181.5 177h1.6M190 129h1.6M190 141.5h1.6M175.5 183.5h1.6M175 175.5h1.6M191.5 178h1.6M187 139h1.6M176.5 143h1.6M186.5 173.5h1.6M174.5 140.5h1.6M200 175.5h1.6" stroke="#dbff25" stroke-width="1.6"/>
<path d="M155.5 176.5h1.6M184.5 163h1.6M179.5 109h1.6M153.5 175.5h1.6M97 74.5h1.6M164 144.5h1.6M156.5 139.5h1.6M94.5 96h1.6M102.5 73h1.6M144.5 158h1.6M53.5 159h1.6M109.5 121h1.6M162 147.5h1.6M56.5 168.5h1.6M21.5 76.5h1.6M91 117h1.6M183 131.5h1.6M76.5 112.5h1.6M164 122.5h1.6M108.5 203.5h1.6M147.5 191h1.6M166 198.5h1.6M177 124.5h1.6M104.5 187h1.6M160.5 100.5h1.6M20 89.5h1.6M93.5 187.5h1.6M154 195h1.6M192.5 152.5h1.6M113 83.5h1.6M192 134h1.6M67.5 51.5h1.6M107.5 143.5h1.6M151.5 95h1.6M148 157h1.6M111.5 189.5h1.6M156.5 175h1.6M72 70.5h1.6M180.5 111.5h1.6M45 69h1.6M168.5 124.5h1.6M140.5 151.5h1.6M132.5 83h1.6M177.5 120.5h1.6M49.5 110.5h1.6M185 172h1.6M145 172.5h1.6M75 103.5h1.6M79 108h1.6M163.5 199.5h1.6M142 177.5h1.6M139.5 95h1.6M168.5 188.5h1.6M187.5 145h1.6M38.5 70.5h1.6M54 114.5h1.6M44.5 72.5h1.6M88 155.5h1.6M44.5 60.5h1.6M174 183.5h1.6M146.5 95.5h1.6M146 132h1.6M55 167.5h1.6M142.5 138h1.6M153.5 191.5h1.6M158 187h1.6M145 159.5h1.6M104 124h1.6M125.5 154h1.6M171 187.5h1.6M112 132h1.6M193.5 137.5h1.6M183 125.5h1.6M186.5 157.5h1.6M97.5 190h1.6M171.5 145.5h1.6M69 96h1.6M28.5 113.5h1.6M107.5 201.5h1.6M104 58.5h1.6M145.5 185.5h1.6M59.5 101.5h1.6M159.5 127.5h1.6M94 144h1.6M184 124.5h1.6M166.5 132h1.6M158 103h1.6M132 189h1.6M175.5 152h1.6M117.5 108h1.6M177 195h1.6M198 149.5h1.6M24.5 102h1.6M180 149.5h1.6M59.5 146.5h1.6M157.5 187.5h1.6M122.5 80.5h1.6M146 181h1.6M150.5 88.5h1.6M176.5 134h1.6M147 128.5h1.6M71.5 86h1.6M138.5 207.5h1.6M177 128h1.6M118 138.5h1.6M142 206.5h1.6M184.5 143h1.6M145.5 180.5h1.6M180.5 177.5h1.6M101.5 121h1.6M50.5 92.5h1.6M39 86.5h1.6M133.5 153.5h1.6M146.5 182.5h1.6M173.5 141.5h1.6M141.5 152.5h1.6M159 136.5h1.6M166 125.5h1.6M168 138h1.6M190.5 126.5h1.6M132 146h1.6M149.5 145.5h1.6M141.5 160h1.6M191 124h1.6M169.5 147.5h1.6M95.5 50h1.6M90.5 118h1.6M163 125h1.6M196.5 141h1.6M170 166h1.6M25.5 114.5h1.6M67.5 170h1.6M169 179h1.6M54.5 62h1.6M185.5 145h1.6M75 157h1.6M167 107h1.6M74 120h1.6M175 165.5h1.6M157.5 191h1.6M182.5 120.5h1.6M148 99h1.6M145.5 94h1.6M85 84.5h1.6M142.5 187.5h1.6M191 178.5h1.6M106 120.5h1.6M117 131h1.6M178 173h1.6M43 81.5h1.6M166 205.5h1.6M110 62h1.6M155.5 193.5h1.6M24.5 90.5h1.6M120.5 77.5h1.6M153 162h1.6M113.5 208h1.6M145 193.5h1.6M186 169h1.6M194 131.5h1.6M174.5 122h1.6M187 145h1.6M186 129.5h1.6M176.5 137.5h1.6M154 146.5h1.6M181 130.5h1.6M24 67.5h1.6M183 185.5h1.6M167.5 137.5h1.6M30.5 60.5h1.6M85 62h1.6M142 164.5h1.6M50.5 102.5h1.6M113 198h1.6M153 150h1.6M152.5 149.5h1.6M176 160.5h1.6M180.5 132.5h1.6M155.5 177.5h1.6M165.5 144h1.6M163 160h1.6M96 137.5h1.6M145.5 142.5h1.6M73 159h1.6M176 175.5h1.6M167 145h1.6M131.5 146h1.6M164.5 193h1.6M113 125.5h1.6M199.5 137.5h1.6M203.5 142.5h1.6M197.5 131h1.6M169.5 211.5h1.6M198 127.5h1.6M161.5 34h1.6M159.5 37.5h1.6M160 34.5h1.6M156 27.5h1.6M124.5 23h1.6M115.5 15.5h1.6M124.5 49.5h1.6M126 59.5h1.6" stroke="#005cff" stroke-width="1.6"/>
<path d="M166 163.5h1.6M152 168.5h1.6M185 187.5h1.6M149 177h1.6M189.5 169h1.6M193.5 149.5h1.6M192.5 147h1.6M181 138h1.6M168 149h1.6M166 142.5h1.6M163.5 149.5h1.6M162.5 154.5h1.6M190 179.5h1.6M176.5 196.5h1.6M179.5 148.5h1.6M176 165.5h1.6M173.5 153.5h1.6M163 194h1.6M178 155h1.6M159 145.5h1.6M187.5 171h1.6M182 168h1.6M160 160.5h1.6M173.5 146h1.6M172 121.5h1.6M163.5 179.5h1.6M181 138h1.6M176.5 146h1.6M172.5 174h1.6M180 163.5h1.6M195.5 153.5h1.6M167.5 159h1.6M182 128h1.6M190 124h1.6M180 134h1.6M173 174h1.6M182.5 169.5h1.6M162 150h1.6M182.5 132h1.6M195 171h1.6M124.5 24h1.6M119.5 19.5h1.6M111.5 11.5h1.6" stroke="#80ff80" stroke-width="1.6"/>
<path d="M35.5 121.5h1.6M68 91h1.6M33.5 87.5h1.6M88.5 50.5h1.6M43.5 79.5h1.6M88 122h1.6M47.5 138.5h1.6M72.5 57h1.6M96.5 100.5h1.6M106.5 178.5h1.6M137 111.5h1.6M21 84.5h1.6M61 176h1.6M99.5 38h1.6M50 95.5h1.6M177 107.5h1.6M23.5 83.5h1.6M85.5 101h1.6M142 185.5h1.6M58.5 120.5h1.6M25 90h1.6M123.5 205h1.6M158 211.5h1.6M95.5 127.5h1.6M135 123h1.6M106 127.5h1.6M91.5 107h1.6M61.5 151h1.6M65.5 69h1.6M33.5 52.5h1.6M57.5 54.5h1.6M125.5 169.5h1.6M93 96.5h1.6M91.5 45h1.6M60.5 127h1.6M92.5 97h1.6M164.5 98h1.6M43.5 123.5h1.6M107.5 161h1.6M98 187.5h1.6M55.5 143h1.6M67.5 50h1.6M22.5 94h1.6M125 77.5h1.6M77 136h1.6M147 145h1.6M107 64.5h1.6M53 81h1.6M62.5 133h1.6M109.5 85h1.6M75.5 93h1.6M54 66.5h1.6M34 100h1.6M97 128.5h1.6M57.5 94h1.6M125.5 135h1.6M57.5 160h1.6M102.5 100h1.6M84 67.5h1.6M134.5 167h1.6M106 163h1.6M51.5 106h1.6M120.5 174h1.6M125 189h1.6M80.5 103.5h1.6M44 73h1.6M102 167.5h1.6M89 197.5h1.6M66.5 153h1.6M139.5 108.5h1.6M18.5 77.5h1.6M122.5 171h1.6M69.5 153h1.6M51 106.5h1.6M116 79h1.6M58 135h1.6M58 149h1.6M78.5 85.5h1.6M106.5 75h1.6M41 98.5h1.6M39 124h1.6M121 139.5h1.6M126 75h1.6M145.5 115h1.6M114.5 44.5h1.6M62 69h1.6M121.5 149h1.6M89 123h1.6M99.5 92h1.6M76 131.5h1.6M153.5 129.5h1.6M39 69h1.6M83 136h1.6M85.5 184h1.6M130.5 176.5h1.6M101 51h1.6M98.5 173h1.6M145 90.5h1.6M53.5 133.5h1.6M19.5 82.5h1.6M36.5 107.5h1.6M54 150.5h1.6M97.5 89.5h1.6M160 204.5h1.6M123.5 77h1.6M112 74h1.6M65 55.5h1.6M145.5 189h1.6M125 71h1.6M89.5 114h1.6M69.5 114.5h1.6M110 101.5h1.6M88 75.5h1.6M165 197.5h1.6M91 49.5h1.6M52 93h1.6M136.5 141.5h1.6M51.5 156.5h1.6M39.5 46.5h1.6M92 169.5h1.6M124 25.5h1.6M130.5 94h1.6M37 121h1.6M37 53.5h1.6M32 102h1.6M67 136.5h1.6M95 182.5h1.6M83.5 194h1.6M34 137.5h1.6M66.5 75.5h1.6M83 97.5h1.6M129 126h1.6M44 120.5h1.6M94 71.5h1.6M45.5 69h1.6M136 134.5h1.6M78 109.5h1.6M61 159h1.6M134.5 200h1.6M77.5 100h1.6M99 110.5h1.6M55.5 93h1.6M27.5 96.5h1.6M88 65h1.6M54.5 138h1.6M54.5 105.5h1.6M112.5 111h1.6M146 111.5h1.6M100 62h1.6M92 171.5h1.6M124 152.5h1.6M129.5 185h1.6M84.5 166h1.6M132.5 105.5h1.6M105 185.5h1.6M60 87.5h1.6M96 203h1.6M28 112h1.6M110.5 42h1.6M57 64h1.6M108.5 140.5h1.6M52 142.5h1.6M110.5 89.5h1.6M107.5 75.5h1.6M156.5 93h1.6M92 47.5h1.6M73.5 89.5h1.6M66.5 151.5h1.6M40 55.5h1.6M46 114h1.6M102 135h1.6M148 105.5h1.6M127 86.5h1.6M141.5 142h1.6M81 95.5h1.6M65 82h1.6M136 209.5h1.6M61 153.5h1.6M135.5 204h1.6M68.5 179h1.6M55 134h1.6M132 158h1.6M133 215.5h1.6M99.5 149.5h1.6M91.5 120.5h1.6M101 118h1.6M55 117.5h1.6M97.5 134.5h1.6M108.5 147.5h1.6M105 192h1.6M94 182.5h1.6M128 139.5h1.6M96.5 65.5h1.6M111.5 107h1.6M134 192h1.6M118 97h1.6M90.5 172h1.6M56 142.5h1.6M55 99h1.6M125 151h1.6M40.5 65h1.6M115 150h1.6M79 167.5h1.6M103 150h1.6M80 159h1.6M76 128.5h1.6M80.5 147h1.6M141.5 199.5h1.6M62.5 57.5h1.6M88.5 90h1.6M28 68h1.6M110.5 167h1.6M85.5 119h1.6M118 176.5h1.6M114.5 116.5h1.6M84 142.5h1.6M72.5 83.5h1.6M61 131.5h1.6M134 201h1.6M44 147h1.6M61.5 152h1.6M174.5 98h1.6M125.5 16h1.6M20.5 109h1.6M101.5 208.5h1.6M102 33.5h1.6M20 103.5h1.6M34.5 45h1.6M147 86h1.6M54.5 169.5h1.6M44 159h1.6M98 34.5h1.6M44 45.5h1.6M61.5 46.5h1.6M20.5 62h1.6M130 75h1.6M32 45.5h1.6M172 99.5h1.6M101 34.5h1.6M28.5 51.5h1.6M83.5 38.5h1.6M70.5 186.5h1.6M33 138.5h1.6M51.5 46.5h1.6M167.5 96.5h1.6M17 77.5h1.6M75 41.5h1.6M67 189h1.6M65.5 182h1.6M28 50h1.6M15.5 92.5h1.6M44 156h1.6M54 175h1.6M113.5 26.5h1.6M174.5 102h1.6M31.5 48.5h1.6M98 34h1.6M92 33h1.6M67 46h1.6M162 86.5h1.6M15.5 86.5h1.6M131 74h1.6M123 38.5h1.6M124.5 64h1.6M17.5 68h1.6M37.5 44h1.6M120.5 216h1.6M121 20.5h1.6M128 10.5h1.6M19.5 120.5h1.6M124 66.5h1.6M44.5 160.5h1.6M38 152h1.6M23 130h1.6M15.5 63.5h1.6M77 38.5h1.6M125.5 28h1.6M22 57.5h1.6M17 74.5h1.6M44 157.5h1.6M19 107.5h1.6M17.5 71.5h1.6M67.5 186h1.6M119.5 21.5h1.6M20.5 65h1.6M130 19.5h1.6M124.5 67h1.6M90 36h1.6M55 43.5h1.6M76.5 196.5h1.6M71.5 48.5h1.6M28 135h1.6M152.5 218h1.6M27.5 128h1.6M171 98h1.6M80.5 40.5h1.6M119.5 54.5h1.6M129 16.5h1.6M128 220.5h1.6M112.5 33h1.6M121 39h1.6M34 142.5h1.6M128 14.5h1.6M70.5 47.5h1.6M16 104.5h1.6M21.5 62.5h1.6M90 31h1.6M89.5 35h1.6M55 172h1.6M17 76h1.6M24.5 126.5h1.6" stroke="#00008f" stroke-width="1.6"/>
<path d="M181 169.5h1.6M190.5 168.5h1.6M182 156h1.6M192.5 169h1.6M195 158.5h1.6M194.5 157h1.6M190.5 155h1.6M186 170.5h1.6M189.5 168.5h1.6M179 168.5h1.6M194 146h1.6M196 165h1.6" stroke="#ff5c00" stroke-width="1.6"/>
<path d="M180.5 167.5h1.6M196 164h1.6M193 149.5h1.6M181 156h1.6M169.5 169.5h1.6M190.5 179h1.6M190.5 177h1.6M187 163h1.6M155 54.5h1.6M139.5 56.5h1.6M149 38h1.6" stroke="#ffc200" stroke-width="1.6"/>
<path d="M194 150h1.6M149.5 49h1.6" stroke="#f30000" stroke-width="1.6"/>
<path d="M183.5 73.5h1.6M184.5 72.5h1.6" stroke="#800000" stroke-width="1.6"/>
</g>
<g transform="translate(1105.2 1796.6)">
<path d="M48.2 45.5Q39.6 44.8 33.8 49.8Q28 54.9 23 65Q17.9 75.1 16.5 82.3Q15 89.5 17.9 102.5Q20.8 115.5 24.4 127Q28 138.6 36.7 150.1Q45.3 161.7 54 171.8Q62.7 181.9 74.2 190.6Q85.7 199.2 95.9 205.7Q106 212.2 119 215.1Q131.9 218 144.9 216.5Q157.9 215.1 166.6 210Q175.3 205 182.5 194.9Q189.7 184.8 193.3 173.2Q196.9 161.7 196.9 150.1Q196.9 138.6 194.7 131.4Q192.6 124.1 186.8 115.5Q181 106.8 175.3 99.6Q169.5 92.4 160.8 86.6Q152.2 80.8 144.9 79.4Q137.7 78 131.9 79.4Q126.2 80.8 121.1 75.1Q116.1 69.3 114.6 59.2Q113.2 49.1 116.8 40.4Q120.4 31.8 124 25.3Q127.6 18.8 125.4 18.8Q123.3 18.8 118.2 26Q113.2 33.2 106.7 32.5Q100.2 31.8 93 33.9Q85.7 36.1 80 39.7Q74.2 43.3 65.5 44.8Q56.9 46.2 48.2 45.5Z" fill="url(#g71v)"/>
<path d="M48.2 45.5Q39.6 44.8 33.8 49.8Q28 54.9 23 65Q17.9 75.1 16.5 82.3Q15 89.5 17.9 102.5Q20.8 115.5 24.4 127Q28 138.6 36.7 150.1Q45.3 161.7 54 171.8Q62.7 181.9 74.2 190.6Q85.7 199.2 95.9 205.7Q106 212.2 119 215.1Q131.9 218 144.9 216.5Q157.9 215.1 166.6 210Q175.3 205 182.5 194.9Q189.7 184.8 193.3 173.2Q196.9 161.7 196.9 150.1Q196.9 138.6 194.7 131.4Q192.6 124.1 186.8 115.5Q181 106.8 175.3 99.6Q169.5 92.4 160.8 86.6Q152.2 80.8 144.9 79.4Q137.7 78 131.9 79.4Q126.2 80.8 121.1 75.1Q116.1 69.3 114.6 59.2Q113.2 49.1 116.8 40.4Q120.4 31.8 124 25.3Q127.6 18.8 125.4 18.8Q123.3 18.8 118.2 26Q113.2 33.2 106.7 32.5Q100.2 31.8 93 33.9Q85.7 36.1 80 39.7Q74.2 43.3 65.5 44.8Q56.9 46.2 48.2 45.5Z" fill="url(#spk)" stroke="url(#spk2)" stroke-width="26"/>
<path d="M118.5 73.5h2.4M113 211.5h2.4M20.5 97.5h2.4M148 81.5h2.4M53 49h2.4M184 181.5h2.4M123 77.5h2.4M25.5 68h2.4M47.5 161h2.4M121.5 26h2.4M114 207.5h2.4M123.5 23.5h2.4M94.5 197h2.4M192 145h2.4M194 168h2.4M29 59h2.4M19 76h2.4M76.5 42h2.4M189 123.5h2.4M102.5 38h2.4M170.5 95h2.4M156 90h2.4M184.5 186h2.4M19.5 104h2.4M117.5 212.5h2.4M17.5 79.5h2.4M37.5 148.5h2.4M46.5 48.5h2.4M111.5 55.5h2.4M113.5 54h2.4M32.5 52h2.4M168 94.5h2.4M121.5 25h2.4M119 77.5h2.4M48.5 161.5h2.4M126.5 80h2.4M116.5 29.5h2.4M172 98.5h2.4M122 80h2.4M55.5 172h2.4M195 137h2.4M66 48h2.4M194.5 140.5h2.4M173 203h2.4M26 60.5h2.4M57.5 173.5h2.4M163 92h2.4M71 48h2.4M17.5 89h2.4M87.5 199h2.4M46 46.5h2.4M22 68h2.4M56.5 47h2.4M123.5 213h2.4M72.5 44.5h2.4M23 67h2.4M104.5 209.5h2.4M174.5 100h2.4M37 54h2.4M186 183h2.4M124 23h2.4M121.5 28.5h2.4M57.5 47h2.4M65.5 48.5h2.4M29.5 132h2.4M80.5 45.5h2.4M33 53.5h2.4M114.5 212h2.4M153 83.5h2.4M191 177.5h2.4M114.5 35.5h2.4M128.5 83h2.4M125 21h2.4M87.5 38.5h2.4M20 76.5h2.4M178 104.5h2.4M194 138.5h2.4M121 28.5h2.4M95.5 36h2.4M38.5 49h2.4M116.5 39h2.4M93 34.5h2.4M146 216.5h2.4M126 20.5h2.4M146.5 82h2.4M124.5 212h2.4M105 34h2.4M195 151h2.4M166 91.5h2.4M190 124.5h2.4M51 51h2.4M124 24h2.4M101 208h2.4M171 100h2.4M81 41.5h2.4M19.5 79.5h2.4M67.5 182.5h2.4M164.5 91.5h2.4M181.5 193.5h2.4M170.5 200.5h2.4M87.5 196.5h2.4M79.5 44h2.4M22 68h2.4M189 179.5h2.4M125.5 19h2.4M131.5 80.5h2.4M124.5 23.5h2.4M109.5 34h2.4M22.5 119h2.4M117 70.5h2.4M189 171h2.4M112 210h2.4M36 148.5h2.4M48 162.5h2.4M113 43.5h2.4M143 80h2.4M187.5 119.5h2.4M174 98h2.4M117.5 33h2.4M102.5 34.5h2.4M183.5 115h2.4M42 152h2.4M55 47.5h2.4M159.5 87.5h2.4M77.5 193h2.4M157.5 213h2.4M23 76h2.4M59.5 177h2.4M196 150.5h2.4M195.5 158h2.4M193.5 150.5h2.4M98.5 202.5h2.4M192.5 157h2.4M151.5 88.5h2.4M192.5 125h2.4M16 90.5h2.4M142 213h2.4M113 65.5h2.4M23.5 72h2.4M147 213h2.4M151 213.5h2.4M118 70.5h2.4M111 212.5h2.4M188.5 127.5h2.4M113.5 52h2.4M192 126.5h2.4M109.5 210h2.4M193 167h2.4M81.5 41h2.4M90 36.5h2.4M44 153.5h2.4M159 87h2.4M190.5 179h2.4M43 153h2.4M192.5 156.5h2.4M28 128.5h2.4M185 115h2.4M144.5 79.5h2.4M195 137h2.4M85 197h2.4M23 67h2.4M176 197h2.4M113.5 55.5h2.4M46 162h2.4M189.5 125.5h2.4M113.5 52h2.4M33.5 52.5h2.4M151 212.5h2.4M84.5 40h2.4M64.5 180h2.4M186.5 122.5h2.4M41 152h2.4M23 98h2.4M35.5 50.5h2.4M122.5 77h2.4M186 184.5h2.4M72.5 45h2.4M193.5 158.5h2.4M37 48h2.4M144.5 215h2.4M76.5 191.5h2.4M20 82.5h2.4M182.5 111h2.4M20 78.5h2.4M101.5 205.5h2.4M164.5 91h2.4M40.5 48h2.4M192.5 167h2.4M31.5 133.5h2.4M61 172.5h2.4M86.5 199h2.4M123 23.5h2.4M118.5 28h2.4M63.5 51h2.4M98 39h2.4M96 34h2.4M115.5 32.5h2.4M192.5 133.5h2.4M133.5 216.5h2.4M25 66.5h2.4M116.5 214h2.4M196 152h2.4M58.5 173h2.4M20 108h2.4M157.5 209h2.4M46.5 162.5h2.4M30.5 126.5h2.4M100.5 202.5h2.4M141 82.5h2.4M16.5 87.5h2.4M115.5 32h2.4M80 193h2.4M159.5 86.5h2.4M164.5 90h2.4M73.5 189h2.4M171 203.5h2.4M191.5 146h2.4M117.5 29h2.4M85 38.5h2.4M35.5 50.5h2.4M112.5 35.5h2.4M112 59h2.4M186.5 118h2.4M123.5 78.5h2.4M113.5 55.5h2.4M120 74h2.4M163.5 89h2.4M149.5 215.5h2.4M189.5 120.5h2.4M128.5 82.5h2.4M117 28.5h2.4M116 31h2.4M124 80h2.4M24.5 67.5h2.4M119 28.5h2.4M142 207.5h2.4M83.5 197h2.4M150.5 82h2.4M177 102.5h2.4M113 35.5h2.4" stroke="#fff" stroke-width="2.4"/>
<path d="M125 143.5h1.6M153 136.5h1.6M166.5 133h1.6M98 137h1.6M73.5 85.5h1.6M176 108.5h1.6M111.5 57h1.6M129.5 190.5h1.6M101 173.5h1.6M106.5 81.5h1.6M132.5 135.5h1.6M145.5 94.5h1.6M152 97h1.6M132 197.5h1.6M102 95h1.6M92 164h1.6M53 135.5h1.6M133 110h1.6M60 172h1.6M60.5 174.5h1.6M89 159h1.6M60.5 71.5h1.6M191.5 137h1.6M157 114.5h1.6M153 153.5h1.6M158.5 125.5h1.6M150 167.5h1.6M111.5 125.5h1.6M90.5 122h1.6M79 109.5h1.6M119.5 128.5h1.6M84.5 184h1.6M137.5 147.5h1.6M190 125.5h1.6M103 159h1.6M99.5 126h1.6M89.5 192.5h1.6M95.5 142h1.6M174 135h1.6M101.5 196h1.6M165 138h1.6M110.5 133h1.6M141.5 86.5h1.6M95.5 131.5h1.6M167 168h1.6M142 131h1.6M65.5 81.5h1.6M150.5 202.5h1.6M63 158.5h1.6M160.5 87.5h1.6M114 138h1.6M121 143h1.6M138 79.5h1.6M70.5 166h1.6M95.5 203.5h1.6M113.5 130.5h1.6M63.5 76h1.6M71.5 151h1.6M109 187.5h1.6M114 114h1.6M66 150.5h1.6M109.5 158h1.6M154.5 173.5h1.6M79 138.5h1.6M171.5 122h1.6M52 166h1.6M114.5 144h1.6M109.5 119h1.6M46 143.5h1.6M138 86.5h1.6M65 150h1.6M83 146h1.6M97.5 145.5h1.6M125.5 107.5h1.6M71.5 143.5h1.6M83.5 139h1.6M158 120h1.6M133.5 158.5h1.6M75.5 144h1.6M147 109.5h1.6M186 124.5h1.6M152.5 95.5h1.6M147 168.5h1.6M78.5 189h1.6M101.5 47.5h1.6M95.5 84h1.6M129 209.5h1.6M115 186.5h1.6M87.5 57h1.6M80.5 173h1.6M92.5 158.5h1.6M136.5 130h1.6M164 105h1.6M135 99.5h1.6M101 191h1.6M126 101h1.6M59.5 57.5h1.6M123 160.5h1.6M92.5 107.5h1.6M176.5 122.5h1.6M112.5 86.5h1.6M94 181.5h1.6M92.5 173h1.6M100.5 139h1.6M136.5 95h1.6M149 190h1.6M86 162h1.6M113.5 196.5h1.6M88 146.5h1.6M140.5 155h1.6M126.5 101.5h1.6M135 185.5h1.6M166.5 157.5h1.6M94.5 96h1.6M117 79h1.6M140.5 107h1.6M103 89.5h1.6M99.5 167.5h1.6M135 100.5h1.6M95.5 159.5h1.6M103 127h1.6M133.5 155.5h1.6M66 144h1.6M179.5 142h1.6M59.5 115h1.6M139 124h1.6M82 132h1.6M114 181.5h1.6M104 88h1.6M117 122.5h1.6M104 162.5h1.6M61.5 136.5h1.6M122 89.5h1.6M96 183.5h1.6M68 139h1.6M26 131h1.6M85.5 187.5h1.6M105.5 197h1.6M101.5 156h1.6M107 104.5h1.6M111 166.5h1.6M73 153h1.6M136.5 88h1.6M177 112h1.6M162 191h1.6M106 78h1.6M86 185.5h1.6M119 88h1.6M184.5 127.5h1.6M121 139.5h1.6M90.5 177.5h1.6M123 77.5h1.6M76 118.5h1.6M180.5 178h1.6M95 192.5h1.6M130 183h1.6M75 127.5h1.6M190.5 158h1.6M87 134h1.6M46.5 90h1.6M101 110h1.6M97.5 94h1.6M97.5 190.5h1.6M74 86.5h1.6M125.5 132h1.6M173.5 164.5h1.6M77.5 148h1.6M116 199.5h1.6M103 114.5h1.6M106.5 178.5h1.6M83 179h1.6M91.5 141h1.6M126.5 119.5h1.6M101 127.5h1.6M119.5 87.5h1.6M93.5 117h1.6M106 155h1.6M71.5 123.5h1.6M82 108.5h1.6M151.5 119h1.6M188.5 180h1.6M151.5 103.5h1.6M79 181.5h1.6M98.5 200.5h1.6M77.5 177.5h1.6M108 143.5h1.6M176.5 147h1.6M141 139h1.6M117.5 83h1.6M64.5 132h1.6M105.5 135.5h1.6M68 155h1.6M96 124.5h1.6M121.5 204h1.6M152.5 82h1.6M163 169h1.6M90 188.5h1.6M41.5 136.5h1.6M91.5 198h1.6M110.5 59h1.6M90 77h1.6M190.5 159.5h1.6M141 113h1.6M131 205h1.6M123 125h1.6M180 109.5h1.6M81.5 196h1.6M97.5 32.5h1.6M156 81h1.6M24.5 61h1.6M125 15h1.6M77.5 35h1.6M97.5 31.5h1.6M133.5 76.5h1.6M35 148h1.6M115 49h1.6M116 46h1.6M19.5 118h1.6M115.5 54h1.6M124.5 35h1.6M75 39.5h1.6M104.5 28h1.6M76 38.5h1.6M116.5 48h1.6M123.5 74h1.6M97 31h1.6M24.5 60.5h1.6M127 28.5h1.6M42 164h1.6M39 160h1.6M123 17h1.6M123.5 14.5h1.6M120.5 39h1.6M27 141.5h1.6M17.5 101h1.6M164.5 85h1.6M66.5 186.5h1.6M119 23h1.6M37 158h1.6M124 77h1.6M135.5 78.5h1.6M14 83.5h1.6M59.5 42.5h1.6M15 83.5h1.6M125.5 74h1.6M25.5 51h1.6M119.5 68.5h1.6M15 104.5h1.6M61 44h1.6M158.5 84h1.6M26.5 134.5h1.6M135 75h1.6M136.5 78h1.6M44 42.5h1.6M117 25h1.6M72.5 193.5h1.6M16.5 100.5h1.6M23.5 129.5h1.6M124 30.5h1.6M129.5 24h1.6M116.5 64h1.6M123 30.5h1.6M121 18.5h1.6M122.5 18.5h1.6M123.5 16h1.6M127.5 25h1.6M121 21h1.6M20 69.5h1.6M117 21h1.6M117.5 16.5h1.6M122 13h1.6M122.5 8h1.6M117.5 13.5h1.6M109 23h1.6M120 20.5h1.6M162 70.5h1.6M179.5 57.5h1.6M195 63.5h1.6" stroke="#0000f5" stroke-width="1.6"/>
<path d="M100.5 185.5h1.6M58 78.5h1.6M127 144.5h1.6M100 154h1.6M148.5 80.5h1.6M67 180h1.6M186 140.5h1.6M160.5 143h1.6M105.5 159h1.6M120.5 178h1.6M108 161h1.6M74 131h1.6M90 167.5h1.6M73.5 173h1.6M102 138h1.6M49 159h1.6M80 134.5h1.6M88.5 126.5h1.6M103 138.5h1.6M155 150.5h1.6M159 143h1.6M133 79.5h1.6M88 54.5h1.6M82.5 124h1.6M70.5 139.5h1.6M99.5 63h1.6M115.5 165.5h1.6M110.5 171.5h1.6M106 164.5h1.6M76.5 164.5h1.6M111 188.5h1.6M172 107.5h1.6M138.5 165h1.6M116 82.5h1.6M101.5 105h1.6M51.5 63h1.6M143 168.5h1.6M106.5 155.5h1.6M147.5 93h1.6M85.5 179h1.6M144.5 130.5h1.6M150.5 209.5h1.6M176 131.5h1.6M154.5 114h1.6M181.5 130h1.6M101 161.5h1.6M108 205.5h1.6M112.5 212h1.6M96 123h1.6M103 107h1.6M67 68.5h1.6M163 92.5h1.6M153 97h1.6M80 79h1.6M176 170h1.6M146 123h1.6M35 132.5h1.6M101 169h1.6M143 130.5h1.6M109 134.5h1.6M129.5 143.5h1.6M133 135.5h1.6M52 161h1.6M177 182.5h1.6M70 174h1.6M140 134h1.6M110 91.5h1.6M170 109h1.6M151.5 139h1.6M24.5 104.5h1.6M78 41h1.6M112.5 157.5h1.6M174 104h1.6M73 172h1.6M152.5 206.5h1.6M136 99.5h1.6M152 127.5h1.6M63.5 156h1.6M109.5 144h1.6M107 137.5h1.6M107 105h1.6M169.5 181h1.6M114 175.5h1.6M88.5 195h1.6M140.5 174.5h1.6M62.5 153h1.6M118 177h1.6M116 110.5h1.6M185 182.5h1.6M161.5 150h1.6M93 176.5h1.6M95 139.5h1.6M166.5 104h1.6M118 117h1.6M176 127h1.6M65.5 174h1.6M56.5 69.5h1.6M171.5 160.5h1.6M118.5 156.5h1.6M99 39.5h1.6M79.5 130.5h1.6M83.5 47.5h1.6M168.5 105.5h1.6M172.5 100.5h1.6M108 145.5h1.6M159.5 172.5h1.6M152.5 93.5h1.6M69 46h1.6M58.5 168.5h1.6M172 139h1.6M101 86h1.6M108.5 207h1.6M92 100h1.6M71 173h1.6M112 173.5h1.6M108 174.5h1.6M167.5 124.5h1.6M29.5 133h1.6M113.5 140h1.6M75 180h1.6M93.5 110.5h1.6M108 118.5h1.6M112 156.5h1.6M59 100h1.6M73.5 182.5h1.6M185 163h1.6M35 80.5h1.6M75.5 125h1.6M80 194.5h1.6M92.5 138h1.6M91.5 198.5h1.6M133.5 161.5h1.6M82.5 185h1.6M82.5 71h1.6M159 135.5h1.6M149.5 81.5h1.6M70.5 100.5h1.6M172.5 169h1.6M78 146h1.6M119.5 88.5h1.6M54.5 112.5h1.6M140 109.5h1.6M116 190h1.6M116 93.5h1.6M138.5 158h1.6M73 105h1.6M128.5 145.5h1.6M154 117.5h1.6M168.5 126.5h1.6M139 129.5h1.6M90.5 140.5h1.6M106.5 130.5h1.6M160 193h1.6M183.5 163.5h1.6M120.5 110.5h1.6M140.5 175h1.6M49 117.5h1.6M78.5 159h1.6M81 72h1.6M129.5 184.5h1.6M122.5 93.5h1.6M142 205.5h1.6M149 85h1.6M116 147h1.6M83.5 156h1.6M120 177.5h1.6M164.5 91.5h1.6M175.5 147.5h1.6M147.5 201.5h1.6M80.5 119.5h1.6M91 39.5h1.6M115.5 193h1.6M135 170h1.6M85.5 192.5h1.6M114 204.5h1.6M177 178.5h1.6M27 102.5h1.6M102 183h1.6M111 144h1.6M150.5 188h1.6M60 181.5h1.6M117.5 63h1.6M143 76h1.6M183 194.5h1.6M140 75h1.6M193.5 125h1.6M66 185.5h1.6M141 77h1.6M198.5 157h1.6M112.5 214h1.6M170.5 93h1.6M109 216.5h1.6M162.5 85h1.6M196.5 129h1.6M152 78.5h1.6M188.5 188.5h1.6M158.5 34h1.6M160.5 31h1.6M118 10.5h1.6M119.5 18.5h1.6M124 22.5h1.6M122 23.5h1.6M129.5 21.5h1.6M120 10h1.6M170 59h1.6M202.5 54h1.6M176.5 58.5h1.6M146.5 65h1.6" stroke="#005cff" stroke-width="1.6"/>
<path d="M42.5 145h1.6M145 202.5h1.6M155 192.5h1.6M186 120h1.6M55.5 167.5h1.6M69.5 151h1.6M83 139h1.6M99.5 43.5h1.6M164.5 130h1.6M155.5 169.5h1.6M134 179.5h1.6M105 89h1.6M132.5 144.5h1.6M75.5 162.5h1.6M84.5 129h1.6M113 204h1.6M138.5 203.5h1.6M117.5 102.5h1.6M153.5 192.5h1.6M96 41h1.6M54.5 51.5h1.6M103 173h1.6M99.5 123.5h1.6M144 200.5h1.6M78 168h1.6M93.5 144h1.6M91 135h1.6M100.5 189.5h1.6M86.5 126h1.6M158 190h1.6M86 109.5h1.6M118.5 71.5h1.6M159.5 118.5h1.6M151.5 91h1.6M125 146.5h1.6M123 207.5h1.6M67.5 150h1.6M68.5 143.5h1.6M115.5 91h1.6M170 134.5h1.6M53.5 169.5h1.6M117 105.5h1.6M110.5 70h1.6M154 170h1.6M91.5 195.5h1.6M171.5 136.5h1.6M177 178h1.6M176 137h1.6M83 159.5h1.6M149 135h1.6M159 169.5h1.6M158.5 204h1.6M170.5 132.5h1.6M126.5 155h1.6M99 87h1.6M153.5 124h1.6M92.5 150.5h1.6M83 124.5h1.6M31.5 70.5h1.6M131.5 178.5h1.6M88 167h1.6M114 198h1.6M85.5 169.5h1.6M133 160.5h1.6M180.5 113h1.6M95.5 167.5h1.6M39.5 130.5h1.6M105 162.5h1.6M160.5 157.5h1.6M151.5 160h1.6M145.5 161.5h1.6M105.5 106h1.6M152 199h1.6M64 162.5h1.6M65.5 151.5h1.6M87 106h1.6M129 156h1.6M89 161h1.6M114 174h1.6M122.5 198h1.6M135 205.5h1.6M140.5 144h1.6M85 148h1.6M179.5 105.5h1.6M56 168.5h1.6M87 175.5h1.6M59 148h1.6M92 90.5h1.6M70.5 172.5h1.6M126.5 87h1.6M80.5 191h1.6M67.5 169h1.6M156.5 115.5h1.6M187.5 145.5h1.6M169.5 145h1.6M162.5 104h1.6M87 107h1.6M152 169.5h1.6M37.5 99h1.6M142.5 176.5h1.6M134.5 113h1.6M160 93.5h1.6M101.5 68.5h1.6M160 141h1.6M132 94h1.6M111.5 208.5h1.6M153.5 112.5h1.6M192 143.5h1.6M89.5 189.5h1.6M101.5 102.5h1.6M144 126h1.6M153.5 190.5h1.6M118.5 212h1.6M140 206h1.6M109.5 73.5h1.6M132.5 164.5h1.6M134 184.5h1.6M181 167.5h1.6M136 116.5h1.6M135.5 160.5h1.6M191 157h1.6M128.5 87.5h1.6M120.5 109.5h1.6M99.5 142h1.6M162.5 190.5h1.6M91.5 84h1.6M133.5 191h1.6M166 146.5h1.6M75.5 128h1.6M68.5 176.5h1.6M67.5 144h1.6M163.5 141.5h1.6M71.5 172.5h1.6M160.5 208.5h1.6M190.5 172h1.6M182 192.5h1.6M99 184.5h1.6M179 147h1.6M142 84.5h1.6M132.5 212.5h1.6M154 115.5h1.6M96 158h1.6M110 198.5h1.6M115 156h1.6M83.5 192h1.6M91 187h1.6M78 163.5h1.6M173.5 157.5h1.6M135.5 193h1.6M127 129h1.6M126 114.5h1.6M176 176h1.6M121 130.5h1.6M183.5 119.5h1.6M156 110h1.6M107 81.5h1.6M135.5 120h1.6M150 151.5h1.6M114.5 94.5h1.6M66.5 161.5h1.6M185.5 141.5h1.6M72 108h1.6M169 137.5h1.6M106 150.5h1.6M151.5 110h1.6M171.5 203h1.6M87.5 109h1.6M152 215.5h1.6M185 109h1.6M157 215h1.6M130 218.5h1.6M91 207.5h1.6M198.5 144.5h1.6M131 219h1.6M90.5 205h1.6M165.5 88.5h1.6M149.5 77h1.6M143.5 220h1.6M151.5 218.5h1.6M191.5 118h1.6M200 161.5h1.6M114.5 217h1.6M166 84.5h1.6M161.5 214.5h1.6M156.5 215.5h1.6M187 109h1.6M171 94.5h1.6M161.5 219h1.6M106 214h1.6M132.5 219h1.6M199 147h1.6M110.5 214.5h1.6M125 218.5h1.6M157 27h1.6M159 27h1.6M152 30h1.6M114.5 24h1.6M200.5 61h1.6M203.5 55h1.6" stroke="#00c2ff" stroke-width="1.6"/>
<path d="M172.5 113h1.6M182.5 179.5h1.6M159 152h1.6M152.5 153h1.6M151 201.5h1.6M143.5 101h1.6M171 98.5h1.6M190 153h1.6M132.5 107.5h1.6M149.5 87h1.6M158.5 111.5h1.6M136 204h1.6M139.5 216.5h1.6M90 188.5h1.6M113 202.5h1.6M193.5 150.5h1.6M79.5 172h1.6M144 192h1.6M132.5 161h1.6M69 185.5h1.6M113.5 186h1.6M150.5 142.5h1.6M96.5 148h1.6M163 89.5h1.6M174 157.5h1.6M170.5 182.5h1.6M126.5 207h1.6M180.5 177h1.6M144.5 139h1.6M167.5 160.5h1.6M126.5 93.5h1.6M164.5 197.5h1.6M170.5 190h1.6M131 213.5h1.6M133.5 190h1.6M153 191.5h1.6M121.5 127h1.6M165.5 208.5h1.6M174 155.5h1.6M83.5 173h1.6M153.5 169.5h1.6M80.5 169.5h1.6M121.5 177.5h1.6M126.5 196h1.6M112.5 134.5h1.6M139 107.5h1.6M95.5 145.5h1.6M168.5 115h1.6M165.5 199h1.6M107.5 187.5h1.6M118.5 186.5h1.6M155.5 161.5h1.6M147.5 94.5h1.6M171 196.5h1.6M144.5 140h1.6M116 174h1.6M176 116h1.6M137.5 199h1.6M71.5 180.5h1.6M117.5 198h1.6M121.5 178.5h1.6M128 210h1.6M173 124h1.6M169 174.5h1.6M110 126h1.6M101 198h1.6M84.5 195.5h1.6M130.5 120h1.6M118 171.5h1.6M142 154.5h1.6M173 114.5h1.6M113.5 141.5h1.6M161 191h1.6M141.5 152h1.6M102.5 179.5h1.6M174 178.5h1.6M119 175h1.6M175 144.5h1.6M185 180.5h1.6M90.5 174h1.6M175.5 202h1.6M121.5 213.5h1.6M169 108h1.6M187 191.5h1.6M183 199h1.6M190 192h1.6M190.5 182.5h1.6M198 165h1.6M171 209.5h1.6M194 174.5h1.6M154 25.5h1.6M158.5 25.5h1.6M148.5 34.5h1.6M152.5 27.5h1.6M147.5 28h1.6M179.5 67h1.6M192.5 59.5h1.6M149 79h1.6M156.5 90h1.6M153 93h1.6M143 62h1.6" stroke="#80ff80" stroke-width="1.6"/>
<path d="M96 205h1.6M79 135.5h1.6M179.5 132h1.6M132 137.5h1.6M65.5 179.5h1.6M171.5 114h1.6M92.5 103.5h1.6M152 127h1.6M163.5 168h1.6M192.5 155.5h1.6M171.5 106h1.6M105.5 158h1.6M146 139.5h1.6M97 197.5h1.6M99.5 195.5h1.6M93 144h1.6M158.5 120h1.6M82.5 121.5h1.6M110.5 167h1.6M123 204.5h1.6M172 185h1.6M97.5 114h1.6M169 173.5h1.6M95.5 169h1.6M92 197h1.6M105.5 95.5h1.6M115.5 79h1.6M107.5 93h1.6M193.5 166h1.6M135.5 165.5h1.6M150.5 124.5h1.6M137.5 121h1.6M156.5 106h1.6M138 193h1.6M133 110h1.6M127.5 117.5h1.6M87 193.5h1.6M141.5 90h1.6M148 182.5h1.6M159 143h1.6M165 134h1.6M178.5 182h1.6M173 142.5h1.6M66 160h1.6M137 211h1.6M143 144h1.6M95 131h1.6M79 149h1.6M79.5 190h1.6M80 121.5h1.6M118.5 93h1.6M126 188h1.6M58.5 164.5h1.6M182 146.5h1.6M143.5 183.5h1.6M131.5 217h1.6M118.5 166h1.6M112 108.5h1.6M83.5 155h1.6M96.5 171.5h1.6M90 188h1.6M104.5 121.5h1.6M151 94h1.6M145.5 206.5h1.6M165.5 141h1.6M192 130.5h1.6M101 140h1.6M134.5 185.5h1.6M150 134.5h1.6M162 117.5h1.6M122.5 87h1.6M119.5 87h1.6M114.5 209h1.6M109 81h1.6M133 190h1.6M75 185h1.6M133 147.5h1.6M76.5 164h1.6M89.5 172.5h1.6M176 152h1.6M102 89.5h1.6M168 177.5h1.6M107.5 163h1.6M78.5 154h1.6M148 113h1.6M195.5 139h1.6M95 154h1.6M95.5 151h1.6M105.5 99h1.6M132.5 169h1.6M98.5 165.5h1.6M151.5 106.5h1.6M91 159h1.6M100 147.5h1.6M125 175.5h1.6M134 99h1.6M141.5 95.5h1.6M99.5 198.5h1.6M141 166.5h1.6M184 185.5h1.6M118 182.5h1.6M123 77.5h1.6M66 162h1.6M149.5 146h1.6M103.5 185.5h1.6M171 140.5h1.6M149 137.5h1.6M103.5 143h1.6M164 103.5h1.6M129.5 128.5h1.6M110.5 138.5h1.6M153 175.5h1.6M82.5 117h1.6M90.5 143h1.6M186 149h1.6M144 96h1.6M185.5 164.5h1.6M90 183h1.6M82.5 127.5h1.6M126 107h1.6M140.5 217h1.6M195 128h1.6M170.5 208h1.6M194 178h1.6M195.5 130h1.6M195 120h1.6M200 157h1.6M174 206.5h1.6M109.5 213.5h1.6M196.5 168h1.6M186.5 191h1.6M196 128.5h1.6M191 181.5h1.6M152.5 32h1.6M155.5 25h1.6M158.5 25h1.6M153 30h1.6M151 20h1.6M193 67.5h1.6M182 59.5h1.6M189 56.5h1.6M132.5 77.5h1.6M153.5 66.5h1.6M159 88.5h1.6" stroke="#25ffdb" stroke-width="1.6"/>
<path d="M39.5 62h1.6M89 140.5h1.6M69.5 94h1.6M109.5 76.5h1.6M51 125.5h1.6M63.5 95h1.6M128 88h1.6M39 68.5h1.6M38 89h1.6M82.5 141h1.6M40 143h1.6M41.5 61.5h1.6M37 52.5h1.6M84 40h1.6M57.5 51.5h1.6M47.5 58.5h1.6M28 69h1.6M50.5 63.5h1.6M77 113.5h1.6M70.5 58h1.6M71.5 83h1.6M67 178h1.6M38 61.5h1.6M94.5 106.5h1.6M63 118.5h1.6M34.5 75.5h1.6M38.5 72.5h1.6M54.5 93h1.6M58 76h1.6M83 160h1.6M134 81.5h1.6M46.5 102.5h1.6M75.5 91h1.6M82.5 73h1.6M111 71h1.6M61 169.5h1.6M112 37.5h1.6M29.5 56h1.6M29 71h1.6M73 93.5h1.6M56 171.5h1.6M17.5 83h1.6M63.5 177.5h1.6M26 95h1.6M71 157h1.6M70 175.5h1.6M72.5 143h1.6M93.5 60.5h1.6M103.5 51.5h1.6M92 108.5h1.6M84.5 168h1.6M97.5 134.5h1.6M70 150.5h1.6M26.5 131h1.6M28 97.5h1.6M78 59.5h1.6M88.5 82h1.6M83 80h1.6M37.5 103h1.6M71.5 141h1.6M118.5 122.5h1.6M44.5 72h1.6M45 57h1.6M24.5 59h1.6M24 131h1.6M18 67.5h1.6M126 18.5h1.6M19.5 68h1.6M128 26.5h1.6M28.5 53h1.6M118.5 21.5h1.6M12.5 86h1.6M23.5 58h1.6M33.5 150.5h1.6M97.5 32.5h1.6M28.5 139.5h1.6M40 159.5h1.6M82.5 35.5h1.6M36.5 46h1.6M21.5 117.5h1.6M37.5 47h1.6M23 124h1.6M121 35h1.6M125 26.5h1.6M21 116h1.6M105.5 26h1.6M12 94h1.6M93 32h1.6M47.5 40h1.6M31.5 144h1.6M49.5 44h1.6M84 37h1.6M17.5 107h1.6M51.5 45.5h1.6M121.5 15h1.6M19 72.5h1.6M22.5 123h1.6M106.5 27h1.6M118.5 24h1.6M105 31.5h1.6M129 12h1.6M120.5 13.5h1.6M128 18h1.6M131.5 27h1.6" stroke="#00008f" stroke-width="1.6"/>
<path d="M139 204h1.6M141 203h1.6M142.5 213.5h1.6M173 177h1.6M195.5 156h1.6M180.5 169.5h1.6M155 194.5h1.6M172.5 187.5h1.6M170 174h1.6M153.5 213.5h1.6M181.5 193h1.6M150 24.5h1.6M154 33h1.6M150 33.5h1.6M155.5 10h1.6M158.5 29h1.6M149.5 35.5h1.6M158 26.5h1.6M153 31h1.6" stroke="#ff5c00" stroke-width="1.6"/>
<path d="M168.5 153h1.6M161 201.5h1.6M148.5 185h1.6M132 197.5h1.6M176 104.5h1.6M113 202.5h1.6M153 119.5h1.6M147.5 178h1.6M184 164h1.6M168 204.5h1.6M137 194h1.6M174.5 189.5h1.6M191.5 133.5h1.6M164 160.5h1.6M184 144.5h1.6M110.5 160.5h1.6M140 178h1.6M163.5 141h1.6M157.5 197.5h1.6M169 197.5h1.6M136 146.5h1.6M186.5 143h1.6M109.5 212h1.6M169.5 174.5h1.6M116 127.5h1.6M178.5 134h1.6M146 198.5h1.6M109.5 186.5h1.6M169.5 163.5h1.6M163 150h1.6M147 203.5h1.6M131 141h1.6M176.5 133h1.6M153 190.5h1.6M189.5 127.5h1.6M163 99h1.6M145 202.5h1.6M157.5 101h1.6M159 155.5h1.6M168.5 174h1.6M114.5 182h1.6M180.5 175h1.6M179.5 193h1.6M171 138.5h1.6M177 147h1.6M183 129.5h1.6M151.5 204h1.6M186.5 142h1.6M176 183h1.6M165.5 214h1.6M157 28.5h1.6M156.5 27h1.6M154.5 28h1.6M157 31h1.6M150.5 31h1.6M192.5 63h1.6M138.5 79.5h1.6M148 65.5h1.6M149.5 92.5h1.6" stroke="#dbff25" stroke-width="1.6"/>
<path d="M145.5 153.5h1.6M171 138.5h1.6M168.5 146.5h1.6M194.5 140.5h1.6M165.5 185.5h1.6M177 178h1.6M176 135.5h1.6M164 181.5h1.6M152 182.5h1.6M170.5 157h1.6M135 197.5h1.6M184 163.5h1.6M173.5 118.5h1.6M188 173.5h1.6M172 118h1.6M185 151.5h1.6M175.5 159h1.6M190.5 164h1.6M161 29h1.6M149 28.5h1.6M151 20h1.6M159.5 34.5h1.6M165 24h1.6M150.5 19.5h1.6M149.5 24h1.6M135.5 87h1.6" stroke="#ffc200" stroke-width="1.6"/>
<path d="M150.5 213.5h1.6M172.5 187.5h1.6M162 206.5h1.6" stroke="#f30000" stroke-width="1.6"/>
</g>
<g transform="translate(1371 1796.6)">
<path d="M47.3 46.1Q41 44.3 36.1 46.8Q31.1 49.2 26.1 56.1Q21.1 62.9 18.7 72.9Q16.2 82.8 18.7 95.2Q21.1 107.7 23.6 117.6Q26.1 127.6 33.6 138.8Q41 150 48.5 161.1Q56 172.3 64.7 181Q73.4 189.7 85.8 197.2Q98.2 204.7 108.2 209.6Q118.1 214.6 128.1 217.1Q138 219.6 148 218.3Q157.9 217.1 166.6 212.1Q175.3 207.2 181.5 198.5Q187.8 189.7 192.1 178.6Q196.5 167.4 197.7 154.9Q199 142.5 197.1 133.8Q195.2 125.1 190.2 118.9Q185.3 112.7 179.1 106.4Q172.8 100.2 164.1 94.6Q155.4 89 146.7 85.9Q138 82.8 133 79.1Q128.1 75.4 124.3 67.9Q120.6 60.4 118.1 54.2Q115.6 48 119.4 38Q123.1 28.1 126.8 21.3Q130.6 14.4 128.7 14.4Q126.8 14.4 120 25Q113.2 35.6 105.7 35.6Q98.2 35.6 94.5 34.9Q90.8 34.3 85.8 39.9Q80.8 45.5 74.6 48Q68.4 50.5 60.9 49.2Q53.5 48 47.3 46.1Z" fill="url(#g71b)"/>
<path d="M47.3 46.1Q41 44.3 36.1 46.8Q31.1 49.2 26.1 56.1Q21.1 62.9 18.7 72.9Q16.2 82.8 18.7 95.2Q21.1 107.7 23.6 117.6Q26.1 127.6 33.6 138.8Q41 150 48.5 161.1Q56 172.3 64.7 181Q73.4 189.7 85.8 197.2Q98.2 204.7 108.2 209.6Q118.1 214.6 128.1 217.1Q138 219.6 148 218.3Q157.9 217.1 166.6 212.1Q175.3 207.2 181.5 198.5Q187.8 189.7 192.1 178.6Q196.5 167.4 197.7 154.9Q199 142.5 197.1 133.8Q195.2 125.1 190.2 118.9Q185.3 112.7 179.1 106.4Q172.8 100.2 164.1 94.6Q155.4 89 146.7 85.9Q138 82.8 133 79.1Q128.1 75.4 124.3 67.9Q120.6 60.4 118.1 54.2Q115.6 48 119.4 38Q123.1 28.1 126.8 21.3Q130.6 14.4 128.7 14.4Q126.8 14.4 120 25Q113.2 35.6 105.7 35.6Q98.2 35.6 94.5 34.9Q90.8 34.3 85.8 39.9Q80.8 45.5 74.6 48Q68.4 50.5 60.9 49.2Q53.5 48 47.3 46.1Z" fill="url(#spk)" stroke="url(#spk2)" stroke-width="26"/>
<path d="M101.5 38h2.4M127.5 19.5h2.4M37.5 142.5h2.4M193.5 138h2.4M149.5 216.5h2.4M160 94.5h2.4M121.5 23.5h2.4M26.5 65.5h2.4M128.5 76h2.4M30 52h2.4M166.5 99h2.4M103 200.5h2.4M193.5 167h2.4M120 62h2.4M21.5 94h2.4M33 135h2.4M169.5 203.5h2.4M110 205h2.4M93.5 40h2.4M193 142h2.4M126 22h2.4M115 52h2.4M25 60h2.4M28 59h2.4M93 37h2.4M124 215h2.4M91.5 200h2.4M90 40.5h2.4M21.5 102h2.4M48.5 47h2.4M131.5 79h2.4M111.5 35h2.4M192 150h2.4M151 90.5h2.4M194.5 134.5h2.4M120.5 68h2.4M48 47.5h2.4M31 54.5h2.4M181.5 116h2.4M111.5 210h2.4M21 96.5h2.4M21.5 108.5h2.4M158 92.5h2.4M158.5 100.5h2.4M27 55.5h2.4M184.5 189h2.4M122.5 22.5h2.4M28.5 129.5h2.4M124 215h2.4M119.5 58.5h2.4M120.5 65h2.4M42 48h2.4M57 49h2.4M116 60h2.4M40.5 141.5h2.4M41 47.5h2.4M157.5 215h2.4M144.5 218h2.4M113.5 210h2.4M123.5 215h2.4M196.5 150.5h2.4M22.5 69h2.4M151.5 91.5h2.4M195.5 151h2.4M33 50h2.4M187.5 119.5h2.4M123.5 212.5h2.4M194.5 134h2.4M18 87.5h2.4M65 51h2.4M104.5 38h2.4M148 215.5h2.4M176 106.5h2.4M48 50.5h2.4M62 53h2.4M29 115h2.4M116.5 42.5h2.4M101 35.5h2.4M101 204.5h2.4M52 165.5h2.4M141.5 89.5h2.4M130.5 83h2.4M121.5 64h2.4M37 143.5h2.4M176 104h2.4M125.5 20.5h2.4M173.5 103.5h2.4M194 171h2.4M24.5 117h2.4M69.5 51.5h2.4M62.5 178.5h2.4M128.5 14.5h2.4M96.5 199.5h2.4M64 178.5h2.4M68 50h2.4M52.5 162.5h2.4M130.5 83h2.4M49.5 47.5h2.4M169 98h2.4M18.5 92.5h2.4M37.5 49h2.4M32.5 51.5h2.4M115.5 56h2.4M179.5 107.5h2.4M143.5 212.5h2.4M70 51.5h2.4M125 20h2.4M172.5 206h2.4M119.5 63h2.4M18 77.5h2.4M52 51.5h2.4M80 191h2.4M87.5 193.5h2.4M126.5 20h2.4M59 172h2.4M117 213h2.4M25.5 108.5h2.4M102.5 38h2.4M119 35.5h2.4M195.5 135.5h2.4M127 214.5h2.4M76 48h2.4M126.5 18.5h2.4M195 128.5h2.4M112 210.5h2.4M30 132h2.4M190.5 124.5h2.4M125 216h2.4M191.5 123h2.4M197.5 145.5h2.4M198 147.5h2.4M101.5 36h2.4M121 213.5h2.4M181 194h2.4M75.5 49.5h2.4M33.5 53h2.4M130.5 81h2.4M193 171.5h2.4M35.5 138.5h2.4M191.5 126h2.4M124 22h2.4M118 64h2.4M192 167.5h2.4M179.5 195.5h2.4M23 111h2.4M108 209h2.4M23 113h2.4M144 217.5h2.4M116.5 212h2.4M123.5 76.5h2.4M75 52h2.4M29 130.5h2.4M68 52.5h2.4M103.5 206.5h2.4M115.5 42h2.4M116.5 55.5h2.4M138 88.5h2.4M116 51.5h2.4M195 153.5h2.4M113 209.5h2.4M115 49h2.4M95.5 38h2.4M56 50.5h2.4M58 50h2.4M63.5 52.5h2.4M23 113.5h2.4M87 39.5h2.4M45.5 154.5h2.4M28.5 53.5h2.4M132 81.5h2.4M133 82h2.4M162 94.5h2.4M27.5 113h2.4M161 211h2.4M67.5 50h2.4M29 58.5h2.4M87 197.5h2.4M170.5 99.5h2.4M38 46.5h2.4M127.5 17h2.4M119.5 73.5h2.4M122.5 65h2.4M28 54h2.4M60.5 49.5h2.4M25 60h2.4M30 126h2.4M58 171.5h2.4M154 213h2.4M34 48.5h2.4M190.5 181h2.4M193 172.5h2.4M67.5 181.5h2.4M161.5 94h2.4M116.5 42.5h2.4M120 214h2.4M72 49.5h2.4M159.5 213.5h2.4M175.5 106.5h2.4M195.5 141h2.4M116 209.5h2.4M96 35.5h2.4M190.5 175.5h2.4M95.5 36h2.4M94.5 199h2.4M161 210.5h2.4M94.5 37.5h2.4M89.5 39h2.4M82.5 48.5h2.4M189 119.5h2.4M170.5 104h2.4M92 198.5h2.4M194.5 155.5h2.4M126.5 16.5h2.4M21 67.5h2.4M22.5 95h2.4M181 110.5h2.4M57 171h2.4M123 213.5h2.4M117.5 28.5h2.4M70 51h2.4M121 26h2.4M85 191.5h2.4M81.5 194.5h2.4M89.5 38.5h2.4M86 47h2.4M78 48h2.4M60 174h2.4M25.5 62h2.4M194.5 140h2.4M87.5 39.5h2.4M33 50h2.4M188.5 119h2.4M29.5 130.5h2.4M54 168h2.4M185.5 183.5h2.4M32.5 49.5h2.4M169 210.5h2.4M121.5 31h2.4M136.5 82h2.4M165 100h2.4M195.5 147.5h2.4M185.5 182h2.4M112 42h2.4M65.5 175h2.4M192.5 129.5h2.4M127 16h2.4M166.5 211.5h2.4M55 50h2.4M57 51h2.4M117 42h2.4M107.5 207.5h2.4M190 127.5h2.4M33 50h2.4M185.5 113.5h2.4M28.5 118.5h2.4M193.5 136.5h2.4" stroke="#fff" stroke-width="2.4"/>
<path d="M162.5 171.5h1.6M127 152h1.6M113 173h1.6M93 65.5h1.6M77.5 149h1.6M179 173h1.6M169.5 184h1.6M140 139.5h1.6M101.5 201.5h1.6M148.5 127.5h1.6M117.5 112h1.6M180 137.5h1.6M154 191.5h1.6M70.5 131h1.6M103.5 126.5h1.6M70 129h1.6M115.5 89.5h1.6M146 137h1.6M172 187.5h1.6M82.5 170h1.6M80 132h1.6M89 130h1.6M113 71.5h1.6M122.5 70h1.6M130 120h1.6M67.5 167h1.6M129.5 91h1.6M56.5 139.5h1.6M101.5 105h1.6M71 144h1.6M166.5 190.5h1.6M106 180.5h1.6M63 167.5h1.6M78 104h1.6M109.5 133h1.6M77.5 112h1.6M98 86h1.6M83 119.5h1.6M52.5 153h1.6M175 122.5h1.6M69.5 180h1.6M104 75.5h1.6M105.5 108h1.6M175 123.5h1.6M70 149.5h1.6M63.5 123h1.6M108.5 130h1.6M106.5 100h1.6M67 131.5h1.6M102 123.5h1.6M152 177.5h1.6M67.5 119h1.6M75 147.5h1.6M108.5 124.5h1.6M80 188.5h1.6M149.5 165.5h1.6M129.5 157.5h1.6M104 87.5h1.6M78 129h1.6M67.5 171h1.6M98.5 131h1.6M136 186.5h1.6M88 150.5h1.6M76 154.5h1.6M83.5 161.5h1.6M119.5 202.5h1.6M111 139h1.6M121 148h1.6M113.5 66.5h1.6M132.5 99h1.6M75.5 180h1.6M157 192.5h1.6M175.5 136h1.6M75.5 178h1.6M108.5 181h1.6M113.5 156.5h1.6M170.5 118.5h1.6M48.5 145.5h1.6M101 189h1.6M110.5 187.5h1.6M110 105h1.6M74.5 109.5h1.6M153 111.5h1.6M98.5 174.5h1.6M76 154h1.6M59 133.5h1.6M93.5 171.5h1.6M177 124h1.6M136.5 107h1.6M100 114.5h1.6M145 205.5h1.6M99 151h1.6M104.5 43.5h1.6M103 111h1.6M135 136.5h1.6M105 148h1.6M80.5 107h1.6M97.5 136.5h1.6M94.5 111h1.6M130.5 190.5h1.6M97.5 132h1.6M156 108h1.6M103 63.5h1.6M93 198h1.6M118 30h1.6M131.5 118h1.6M95 109.5h1.6M68 111.5h1.6M149 134.5h1.6M132.5 188h1.6M74 165.5h1.6M138 176h1.6M182.5 146h1.6M51 125.5h1.6M64.5 138h1.6M95 48.5h1.6M89 123.5h1.6M103.5 124h1.6M155 150h1.6M126.5 95.5h1.6M171.5 195.5h1.6M101 140.5h1.6M70 110.5h1.6M63.5 124.5h1.6M74.5 133.5h1.6M46 148h1.6M91 115h1.6M142 195h1.6M179 118h1.6M93.5 110h1.6M59 156.5h1.6M69.5 164.5h1.6M200 156h1.6M188 114.5h1.6M108.5 211h1.6M152.5 218.5h1.6M134 224h1.6M186.5 112h1.6M82.5 196h1.6M120 216h1.6M165 214.5h1.6M179 105h1.6M143.5 222h1.6M179.5 105h1.6M159 86h1.6M150 85.5h1.6M154 32.5h1.6M154.5 24h1.6M168.5 23.5h1.6M151.5 30h1.6M159 30h1.6M158.5 33.5h1.6" stroke="#25ffdb" stroke-width="1.6"/>
<path d="M167.5 180h1.6M160.5 154h1.6M144.5 164.5h1.6M171 185.5h1.6M144 138.5h1.6M159 201h1.6M147 130h1.6M138 156.5h1.6M89.5 191h1.6M137.5 199h1.6M159.5 130h1.6M150 153.5h1.6M133 176h1.6M113 140.5h1.6M176.5 155.5h1.6M152 148h1.6M87.5 189h1.6M189 125.5h1.6M182.5 165h1.6M185 184.5h1.6M172 121h1.6M166 161h1.6M196.5 145h1.6M128.5 146h1.6M155 137h1.6M170 174.5h1.6M154.5 142h1.6M150.5 138.5h1.6M165 180h1.6M118.5 141.5h1.6M171 191h1.6M166.5 107h1.6M158 191h1.6M190.5 170.5h1.6M135.5 196h1.6M137 200.5h1.6M183 145.5h1.6M184.5 150h1.6M182 168h1.6M163 186h1.6M139 192h1.6M165 164h1.6M168.5 173.5h1.6M182 187.5h1.6M173 157h1.6M170.5 203h1.6M134 94.5h1.6M183 168.5h1.6M146 88.5h1.6M193.5 155.5h1.6M168 190.5h1.6M128 207h1.6M116 197.5h1.6M136 198h1.6M172.5 145h1.6M158.5 113h1.6M162.5 143.5h1.6M190 149h1.6M95.5 151h1.6M150.5 196.5h1.6M203 146h1.6M194.5 188.5h1.6M197.5 156.5h1.6M182.5 198h1.6M199.5 167h1.6M196 128.5h1.6M197.5 135.5h1.6M199 136.5h1.6M200 167.5h1.6M191 183h1.6M174.5 208.5h1.6" stroke="#ffc200" stroke-width="1.6"/>
<path d="M73 143h1.6M116.5 76h1.6M106.5 84h1.6M155 213h1.6M115 156.5h1.6M87.5 154.5h1.6M180 142.5h1.6M146.5 116.5h1.6M170.5 142.5h1.6M133 151.5h1.6M155 122h1.6M104.5 148h1.6M74 152h1.6M155.5 111h1.6M166 172.5h1.6M142.5 94.5h1.6M90.5 117h1.6M90.5 179.5h1.6M63.5 165h1.6M135 191h1.6M98 148h1.6M120.5 205.5h1.6M141 84h1.6M125 211.5h1.6M138 177h1.6M92 118h1.6M106 130.5h1.6M148 150h1.6M132 123h1.6M119 133.5h1.6M94 169.5h1.6M83.5 192h1.6M138 178.5h1.6M122.5 92.5h1.6M166 119h1.6M74.5 176h1.6M174.5 203.5h1.6M121.5 103h1.6M116 85h1.6M180.5 123.5h1.6M88 138h1.6M184 131.5h1.6M133.5 205h1.6M87 156.5h1.6M118.5 196.5h1.6M118.5 148h1.6M148.5 157.5h1.6M168.5 148.5h1.6M103.5 157.5h1.6M108.5 122.5h1.6M152 182h1.6M137.5 171.5h1.6M180 135h1.6M173.5 134h1.6M149 166h1.6M60 171.5h1.6M185 114.5h1.6M124.5 153h1.6M170 208.5h1.6M118 163.5h1.6M81.5 163.5h1.6M140 95.5h1.6M112.5 133.5h1.6M149.5 162h1.6M131.5 155h1.6M131.5 85h1.6M124 158h1.6M106 109.5h1.6M116.5 204.5h1.6M149.5 168.5h1.6M140.5 103h1.6M118.5 126h1.6M149.5 165.5h1.6M74.5 162h1.6M148 90.5h1.6M133 194.5h1.6M76 126.5h1.6M75 164.5h1.6M98.5 108.5h1.6M118 152.5h1.6M125.5 134.5h1.6M195.5 136.5h1.6M129 164.5h1.6M122 75.5h1.6M132.5 105h1.6M154.5 106h1.6M75.5 126.5h1.6M113.5 132.5h1.6M84.5 105.5h1.6M116 81.5h1.6M91 195h1.6M147.5 161h1.6M137 214.5h1.6M90.5 116h1.6M195.5 122h1.6M182.5 108.5h1.6M167 95.5h1.6M194.5 174h1.6M177 205.5h1.6M105 210.5h1.6M116.5 215.5h1.6M157.5 34h1.6M154 25.5h1.6M151.5 31h1.6M157.5 36h1.6" stroke="#80ff80" stroke-width="1.6"/>
<path d="M177.5 188.5h1.6M192.5 173.5h1.6M186 130.5h1.6M181 148.5h1.6M162.5 180h1.6M176.5 162h1.6M181.5 159h1.6M139.5 126h1.6M183 156h1.6M155.5 183.5h1.6M186 157h1.6M150.5 198.5h1.6M103 201.5h1.6M138 192.5h1.6M182 158.5h1.6M188.5 176h1.6M174 201h1.6M165 95.5h1.6M105 173.5h1.6M154 213h1.6M177.5 170h1.6M177 164h1.6M144 147.5h1.6M103 199.5h1.6M175.5 150h1.6M148.5 200.5h1.6M186.5 193.5h1.6M156.5 221h1.6M190.5 190h1.6M152 218h1.6" stroke="#ff5c00" stroke-width="1.6"/>
<path d="M125.5 103h1.6M67.5 124h1.6M27.5 61.5h1.6M82.5 74h1.6M41.5 89h1.6M86 176h1.6M160 140h1.6M49 148.5h1.6M170.5 114h1.6M44 46.5h1.6M103.5 44h1.6M75 141.5h1.6M107.5 38h1.6M150 207h1.6M72 162h1.6M85 109.5h1.6M96 178.5h1.6M73.5 144.5h1.6M69 100h1.6M31 101.5h1.6M116 101.5h1.6M98.5 82.5h1.6M104.5 74.5h1.6M79 86h1.6M50 112.5h1.6M169.5 132.5h1.6M54.5 164h1.6M104.5 68h1.6M74.5 143h1.6M102 152h1.6M93 91h1.6M94.5 69h1.6M67 144h1.6M106.5 47h1.6M109.5 110.5h1.6M96.5 144.5h1.6M152 106h1.6M58 129.5h1.6M80 184h1.6M142 144h1.6M66 138.5h1.6M108 157h1.6M67.5 116.5h1.6M108.5 208.5h1.6M28 109.5h1.6M70 131.5h1.6M122.5 182h1.6M122 150h1.6M102 93h1.6M92 95h1.6M44 98h1.6M76.5 127h1.6M92.5 129h1.6M56 112h1.6M82 104h1.6M98.5 164h1.6M149.5 117h1.6M167 158h1.6M96.5 74.5h1.6M84 103h1.6M123 81.5h1.6M85.5 86.5h1.6M101.5 84.5h1.6M57 145.5h1.6M61.5 63.5h1.6M89 84h1.6M54 166.5h1.6M49 127.5h1.6M114 39h1.6M102.5 117h1.6M106 139h1.6M119 126h1.6M148.5 127.5h1.6M70.5 132h1.6M105.5 86h1.6M21 96h1.6M108.5 89.5h1.6M112.5 39h1.6M41 135.5h1.6M86 133.5h1.6M165.5 137h1.6M85 57h1.6M73.5 128h1.6M75 131.5h1.6M108 152.5h1.6M108.5 116h1.6M83.5 101h1.6M117 122h1.6M50 152h1.6M140.5 100h1.6M49.5 136h1.6M159 134h1.6M100.5 47.5h1.6M90 37.5h1.6M51.5 141.5h1.6M69.5 173h1.6M162 147h1.6M114.5 68h1.6M52.5 77h1.6M74 112.5h1.6M80.5 149h1.6M89 155.5h1.6M82 80h1.6M64 154.5h1.6M62 119.5h1.6M86.5 110.5h1.6M94 56.5h1.6M108 171h1.6M112 76h1.6M47.5 103h1.6M33 87.5h1.6M91 108.5h1.6M89 100.5h1.6M74.5 85h1.6M65 126h1.6M96.5 179h1.6M86.5 64.5h1.6M84 176h1.6M179 108.5h1.6M151 126h1.6M136 142.5h1.6M71.5 157.5h1.6M102.5 124.5h1.6M85.5 127.5h1.6M130.5 183.5h1.6M86.5 76.5h1.6M87.5 83h1.6M98.5 56h1.6M116.5 38.5h1.6M93.5 60h1.6M73.5 157.5h1.6M103.5 98h1.6M108 154h1.6M97.5 109h1.6M46 136.5h1.6M103 100h1.6M99.5 181h1.6M98 158h1.6M148.5 90.5h1.6M73 154.5h1.6M52.5 144.5h1.6M60 109.5h1.6M129 101.5h1.6M76 120h1.6M26.5 95h1.6M107 95h1.6M123.5 110.5h1.6M160.5 174.5h1.6M84.5 147h1.6M107 127h1.6M42 148.5h1.6M121 162h1.6M125.5 178h1.6M23 93.5h1.6M87.5 155h1.6M37 148.5h1.6M20 105.5h1.6M91 34.5h1.6M33.5 142h1.6M119 13.5h1.6M84 38.5h1.6M127.5 12h1.6M83 40.5h1.6M87.5 36h1.6M34 148.5h1.6M97.5 35h1.6M23.5 117.5h1.6M33.5 140h1.6M111 25.5h1.6M85 39.5h1.6M50 164.5h1.6M102.5 35h1.6M14 93.5h1.6M96 34.5h1.6M93 34.5h1.6M121 35h1.6M73.5 48.5h1.6M62.5 45h1.6M134 15.5h1.6M33.5 144.5h1.6M47.5 45.5h1.6M94.5 30.5h1.6M86.5 37h1.6M50 44.5h1.6M119 40h1.6M52 169.5h1.6M108.5 29.5h1.6M81 43.5h1.6M81 39.5h1.6M47.5 162h1.6M100.5 35.5h1.6M129.5 15h1.6M16.5 84h1.6M47.5 162.5h1.6M121 35.5h1.6M21 58.5h1.6M102.5 33.5h1.6M108 32h1.6M118.5 50h1.6M52 167.5h1.6M17.5 101h1.6M136 74.5h1.6M18 105.5h1.6M98.5 33h1.6M75.5 45h1.6M15 81.5h1.6M89.5 28.5h1.6M17.5 101h1.6M37.5 149h1.6M119.5 55h1.6M44.5 158h1.6M26.5 134h1.6M152 28h1.6M155.5 30h1.6M160 28.5h1.6M154.5 31h1.6M166.5 30.5h1.6M122 22h1.6M123 16h1.6M124.5 13.5h1.6M124 25.5h1.6M122 22.5h1.6M125.5 23h1.6M121 18h1.6M182.5 76h1.6M182 75h1.6" stroke="#0000f5" stroke-width="1.6"/>
<path d="M91.5 56h1.6M81 167.5h1.6M129.5 182h1.6M193 151.5h1.6M73 126h1.6M89.5 182h1.6M190 142.5h1.6M184.5 138.5h1.6M63.5 60h1.6M87 101h1.6M126.5 21.5h1.6M160.5 159h1.6M47.5 58.5h1.6M130.5 85h1.6M159.5 164.5h1.6M103 192h1.6M116.5 156h1.6M136 128.5h1.6M60.5 105h1.6M150 95h1.6M146 194.5h1.6M166 202.5h1.6M83 130.5h1.6M178 125.5h1.6M89 137.5h1.6M110 182.5h1.6M126 140h1.6M96 157h1.6M121.5 94h1.6M39 94.5h1.6M172 120h1.6M113.5 169.5h1.6M91 189.5h1.6M151.5 183h1.6M176.5 164.5h1.6M104 44h1.6M88 107.5h1.6M105 164.5h1.6M79.5 150.5h1.6M67.5 144.5h1.6M113.5 81.5h1.6M41 139h1.6M153 212.5h1.6M122.5 129.5h1.6M159 162.5h1.6M124.5 175h1.6M177 109h1.6M74 130h1.6M170.5 174.5h1.6M139 117.5h1.6M102.5 83.5h1.6M104.5 191.5h1.6M167 128.5h1.6M176.5 124h1.6M56.5 133.5h1.6M158.5 119h1.6M96.5 53.5h1.6M106.5 104h1.6M48 158.5h1.6M160.5 134.5h1.6M50 159.5h1.6M107 153h1.6M101.5 44.5h1.6M94.5 199h1.6M103.5 60.5h1.6M103 101h1.6M50 151.5h1.6M157 193h1.6M58 158h1.6M94 199.5h1.6M109.5 55h1.6M119 34.5h1.6M91 195h1.6M78 128h1.6M118 184.5h1.6M105 176h1.6M91 134h1.6M97.5 64h1.6M134.5 94h1.6M29.5 110h1.6M107 46h1.6M167 122h1.6M83.5 94h1.6M68.5 167h1.6M26 67.5h1.6M132 190.5h1.6M101.5 162.5h1.6M118 194h1.6M84 53h1.6M95.5 175.5h1.6M104 193.5h1.6M95.5 106.5h1.6M129.5 179h1.6M84.5 92.5h1.6M140 141.5h1.6M89 135h1.6M77.5 116.5h1.6M66 94.5h1.6M49.5 155.5h1.6M187.5 146h1.6M97 173h1.6M142 104h1.6M118 126h1.6M156 156h1.6M170.5 128h1.6M106 112h1.6M107.5 191h1.6M74 156h1.6M103.5 147h1.6M88.5 122h1.6M171.5 165h1.6M132 186.5h1.6M33 84h1.6M163.5 169h1.6M103.5 111h1.6M81.5 70.5h1.6M192 159h1.6M175 118.5h1.6M48 95.5h1.6M127.5 106.5h1.6M87.5 129h1.6M71 135.5h1.6M82 194h1.6M111.5 53.5h1.6M110.5 71.5h1.6M162 147.5h1.6M67 170.5h1.6M138.5 180h1.6M100 145.5h1.6M105 77h1.6M136 133h1.6M139.5 180.5h1.6M142.5 145.5h1.6M111.5 102.5h1.6M79.5 107h1.6M133 186.5h1.6M69.5 118h1.6M111 51h1.6M69.5 154.5h1.6M50.5 156h1.6M85 119.5h1.6M165.5 107h1.6M106.5 71.5h1.6M173.5 116.5h1.6M77.5 185.5h1.6M78.5 91.5h1.6M83.5 97.5h1.6M61.5 156h1.6M139 187h1.6M135 207h1.6M89 108.5h1.6M161 128.5h1.6M24.5 96h1.6M114.5 65h1.6M86.5 201.5h1.6M161.5 92.5h1.6M117 25.5h1.6M126 68.5h1.6M54.5 172h1.6M45 158h1.6M73.5 190.5h1.6M164 94.5h1.6M140 81h1.6M119 26h1.6M191.5 114h1.6M51.5 171h1.6M52.5 168.5h1.6M43 157h1.6M122.5 38h1.6M121.5 51h1.6M70.5 187.5h1.6M138.5 82h1.6M120.5 42h1.6M157.5 90.5h1.6M135.5 78h1.6M170 96.5h1.6M157 26.5h1.6M163.5 25h1.6M161.5 26h1.6M160 33.5h1.6M121 25h1.6M114.5 21.5h1.6M119.5 3h1.6" stroke="#005cff" stroke-width="1.6"/>
<path d="M150.5 211.5h1.6M106 65.5h1.6M121.5 86.5h1.6M129.5 201.5h1.6M153 182h1.6M33 58h1.6M75.5 81.5h1.6M49.5 140.5h1.6M102.5 39h1.6M92.5 187.5h1.6M152 151.5h1.6M47 108h1.6M63 173.5h1.6M147.5 204.5h1.6M139 184h1.6M82.5 88h1.6M71 104.5h1.6M145 147h1.6M122 95.5h1.6M81 160.5h1.6M102.5 174h1.6M147.5 132h1.6M138 154h1.6M181 153h1.6M145.5 88.5h1.6M147 97h1.6M104 170.5h1.6M68 50.5h1.6M170.5 155h1.6M128.5 96.5h1.6M49 136.5h1.6M166.5 173.5h1.6M122 25h1.6M168.5 123.5h1.6M126 173h1.6M88 60h1.6M41.5 68h1.6M156.5 195.5h1.6M116.5 35.5h1.6M133 134h1.6M132 189h1.6M155 163h1.6M63.5 124.5h1.6M100.5 198h1.6M100 157.5h1.6M76 105h1.6M130 90h1.6M122.5 140.5h1.6M89 80.5h1.6M121.5 65h1.6M86.5 174h1.6M75 109.5h1.6M88 161h1.6M113.5 183.5h1.6M162 156h1.6M137 188.5h1.6M97 72h1.6M105.5 98h1.6M121 64h1.6M75 162.5h1.6M125 162h1.6M130.5 152.5h1.6M156 134.5h1.6M161.5 135.5h1.6M119.5 122.5h1.6M128.5 107h1.6M85 107.5h1.6M92.5 152h1.6M112.5 146h1.6M180.5 155.5h1.6M44.5 148.5h1.6M83.5 163h1.6M65.5 76.5h1.6M156.5 143.5h1.6M172 188.5h1.6M64 125.5h1.6M119 91.5h1.6M111.5 46.5h1.6M127.5 135h1.6M126.5 201.5h1.6M181 191.5h1.6M96.5 169h1.6M131 160.5h1.6M88.5 100.5h1.6M104 43.5h1.6M81 79h1.6M131.5 198.5h1.6M38.5 142.5h1.6M41 149h1.6M85.5 109.5h1.6M75 178.5h1.6M103.5 120.5h1.6M78.5 192h1.6M129.5 123h1.6M60.5 168.5h1.6M128 175h1.6M132 111.5h1.6M97 173h1.6M107 38.5h1.6M120.5 124h1.6M149.5 185.5h1.6M169.5 122h1.6M92.5 175.5h1.6M62.5 144h1.6M189 125.5h1.6M106 110.5h1.6M127.5 175h1.6M104 174h1.6M68.5 64.5h1.6M152 102h1.6M73 76h1.6M179.5 172h1.6M64 87.5h1.6M139 102h1.6M131.5 149h1.6M109 35.5h1.6M154 167h1.6M46 134.5h1.6M94 137.5h1.6M95.5 69.5h1.6M103 179h1.6M90.5 92h1.6M114 86.5h1.6M60.5 166h1.6M67 165.5h1.6M126 19.5h1.6M112 133.5h1.6M141 185.5h1.6M174 101.5h1.6M115 213h1.6M138 81h1.6M102.5 211h1.6M143.5 220.5h1.6M198 159h1.6M79.5 195h1.6M58.5 174.5h1.6M103 209h1.6M150 84h1.6M100.5 207.5h1.6M165.5 95.5h1.6M107 209h1.6M154 88.5h1.6M167.5 95.5h1.6M131.5 74h1.6M77.5 200.5h1.6M160.5 31.5h1.6M157 18.5h1.6M158.5 27h1.6M125.5 13.5h1.6M125.5 19.5h1.6" stroke="#00c2ff" stroke-width="1.6"/>
<path d="M93.5 57h1.6M47 153.5h1.6M103.5 64h1.6M52 76.5h1.6M64 122h1.6M69.5 120.5h1.6M50.5 147h1.6M61.5 115h1.6M46.5 69h1.6M39.5 121.5h1.6M43 72h1.6M45 148.5h1.6M36.5 120h1.6M60 104h1.6M47.5 111h1.6M100.5 67.5h1.6M74.5 123.5h1.6M55.5 91h1.6M23 89.5h1.6M65.5 65h1.6M51 124h1.6M34.5 128h1.6M38.5 78h1.6M92 60h1.6M36.5 105.5h1.6M36.5 63.5h1.6M16 72.5h1.6M84 41h1.6M87.5 32h1.6M94.5 35h1.6M17 84.5h1.6M48.5 41.5h1.6M14.5 92.5h1.6M51.5 46.5h1.6M15.5 61h1.6M17.5 91.5h1.6M48 42.5h1.6M19.5 63h1.6M17.5 89.5h1.6M25 129h1.6M17 87.5h1.6M70 46h1.6M80 41.5h1.6M16 80.5h1.6M31.5 137.5h1.6M11 83.5h1.6M26.5 127.5h1.6M36.5 46.5h1.6M81.5 41.5h1.6M92.5 32.5h1.6M25 131h1.6M33 45h1.6M126.5 35h1.6M121.5 22h1.6" stroke="#00008f" stroke-width="1.6"/>
<path d="M165 123h1.6M132.5 131h1.6M125 114.5h1.6M129.5 196h1.6M173 174h1.6M81.5 171.5h1.6M123 116h1.6M139.5 167.5h1.6M90.5 137.5h1.6M154.5 98h1.6M152 186.5h1.6M68 156h1.6M95.5 165.5h1.6M99.5 166h1.6M146 103.5h1.6M121.5 142h1.6M176.5 143.5h1.6M109 169.5h1.6M149 183.5h1.6M185.5 181h1.6M153 196.5h1.6M186 128.5h1.6M160 113.5h1.6M77 187h1.6M131.5 177h1.6M141 174.5h1.6M178 180h1.6M82.5 193h1.6M187 140h1.6M114.5 181h1.6M124.5 116.5h1.6M177.5 148h1.6M73.5 185.5h1.6M93 161.5h1.6M112.5 188h1.6M179.5 200.5h1.6M113 142.5h1.6M123.5 153h1.6M152.5 144.5h1.6M123.5 193.5h1.6M142.5 132h1.6M153 196h1.6M126 186h1.6M121 180.5h1.6M141.5 130.5h1.6M169 113h1.6M179 178.5h1.6M144.5 181.5h1.6M165.5 187h1.6M101.5 184h1.6M117.5 188.5h1.6M170 150h1.6M155.5 140h1.6M121.5 180.5h1.6M102 200h1.6M180 115.5h1.6M112.5 161h1.6M171 132h1.6M124.5 151.5h1.6M150 159h1.6M122 174.5h1.6M119.5 90h1.6M179 146h1.6M122 121h1.6M121 138h1.6M127.5 182h1.6M160.5 208.5h1.6M141.5 85.5h1.6M184.5 186h1.6M109 203h1.6M129.5 208.5h1.6M101.5 142h1.6M107.5 190.5h1.6M169.5 198.5h1.6M154 125h1.6M158 161h1.6M173 140h1.6M94.5 158h1.6M163 143h1.6M136.5 134.5h1.6M125.5 157h1.6M177 196.5h1.6M93.5 143.5h1.6M149.5 189.5h1.6M166 194.5h1.6M183 196h1.6M198 126h1.6" stroke="#dbff25" stroke-width="1.6"/>
<path d="M164 175h1.6M179 197.5h1.6M157.5 177h1.6M171.5 145.5h1.6M153 199.5h1.6M184.5 182.5h1.6M195 167.5h1.6M182 190.5h1.6M173 204.5h1.6M168.5 201.5h1.6M166.5 176h1.6M184.5 187.5h1.6M191 129h1.6M173 155h1.6M151 180h1.6M165 211.5h1.6M168 196h1.6M182.5 179.5h1.6M188.5 152.5h1.6M183 182.5h1.6M152 183.5h1.6M162.5 171h1.6M191 197h1.6" stroke="#800000" stroke-width="1.6"/>
<path d="M145.5 203.5h1.6M188.5 175.5h1.6M191 154.5h1.6M188.5 160h1.6M163.5 208.5h1.6M167.5 172.5h1.6M149.5 166.5h1.6M183 192h1.6M160 215h1.6M161.5 166h1.6M173.5 198.5h1.6M180.5 191h1.6M170 189h1.6M168 164h1.6M186 134h1.6M187 183.5h1.6M124 183.5h1.6M186.5 192.5h1.6" stroke="#f30000" stroke-width="1.6"/>
</g>
<rect x="1105.2" y="1516.3" width="236" height="234.6" stroke="#000" stroke-width="1.7"/>
<path d="M1094.2 1528.7h11M1117.9 1750.9v15M1094.2 1549.7h11M1138.9 1750.9v15M1094.2 1570.7h11M1159.8 1750.9v15M1094.2 1591.7h11M1180.8 1750.9v15M1094.2 1612.7h11M1201.7 1750.9v15M1094.2 1633.7h11M1222.7 1750.9v15M1094.2 1654.7h11M1243.7 1750.9v15M1094.2 1675.7h11M1264.6 1750.9v15M1094.2 1696.7h11M1285.6 1750.9v15M1094.2 1717.7h11M1306.5 1750.9v15M1094.2 1738.7h11M1327.5 1750.9v15" stroke="#000" stroke-width="1.7"/>
<rect x="1371" y="1516.3" width="236" height="234.6" stroke="#000" stroke-width="1.7"/>
<path d="M1360 1528.7h11M1383.7 1750.9v15M1360 1549.7h11M1404.7 1750.9v15M1360 1570.7h11M1425.6 1750.9v15M1360 1591.7h11M1446.6 1750.9v15M1360 1612.7h11M1467.5 1750.9v15M1360 1633.7h11M1488.5 1750.9v15M1360 1654.7h11M1509.5 1750.9v15M1360 1675.7h11M1530.4 1750.9v15M1360 1696.7h11M1551.4 1750.9v15M1360 1717.7h11M1572.3 1750.9v15M1360 1738.7h11M1593.3 1750.9v15" stroke="#000" stroke-width="1.7"/>
<rect x="1105.2" y="1796.6" width="236" height="234.6" stroke="#000" stroke-width="1.7"/>
<path d="M1094.2 1809h11M1117.9 2031.2v15M1094.2 1830h11M1138.9 2031.2v15M1094.2 1851h11M1159.8 2031.2v15M1094.2 1872h11M1180.8 2031.2v15M1094.2 1893h11M1201.7 2031.2v15M1094.2 1914h11M1222.7 2031.2v15M1094.2 1935h11M1243.7 2031.2v15M1094.2 1956h11M1264.6 2031.2v15M1094.2 1977h11M1285.6 2031.2v15M1094.2 1998h11M1306.5 2031.2v15M1094.2 2019h11M1327.5 2031.2v15" stroke="#000" stroke-width="1.7"/>
<rect x="1371" y="1796.6" width="236" height="234.6" stroke="#000" stroke-width="1.7"/>
<path d="M1360 1809h11M1383.7 2031.2v15M1360 1830h11M1404.7 2031.2v15M1360 1851h11M1425.6 2031.2v15M1360 1872h11M1446.6 2031.2v15M1360 1893h11M1467.5 2031.2v15M1360 1914h11M1488.5 2031.2v15M1360 1935h11M1509.5 2031.2v15M1360 1956h11M1530.4 2031.2v15M1360 1977h11M1551.4 2031.2v15M1360 1998h11M1572.3 2031.2v15M1360 2019h11M1593.3 2031.2v15" stroke="#000" stroke-width="1.7"/>
<defs><linearGradient id="jet1" x1="0" y1="1" x2="0" y2="0"><stop offset="0" stop-color="#00008f"/><stop offset="0.11" stop-color="#0000ff"/><stop offset="0.36" stop-color="#00ffff"/><stop offset="0.5" stop-color="#80ff80"/><stop offset="0.64" stop-color="#ffff00"/><stop offset="0.89" stop-color="#ff0000"/><stop offset="1" stop-color="#800000"/></linearGradient></defs>
<rect x="1622" y="1518" width="18.8" height="234.6" fill="url(#jet1)" stroke="#000" stroke-width="1"/>
<path d="M1640.8 1519.7L1646.8 1519.7" stroke="#000" stroke-width="1.5" />
<text x="1650.3" y="1526" font-size="19" >55</text>
<path d="M1640.8 1577.4L1646.8 1577.4" stroke="#000" stroke-width="1.5" />
<text x="1650.3" y="1583.7" font-size="19" >25</text>
<path d="M1640.8 1634.1L1646.8 1634.1" stroke="#000" stroke-width="1.5" />
<text x="1650.3" y="1640.4" font-size="19" >11</text>
<path d="M1640.8 1691.3L1646.8 1691.3" stroke="#000" stroke-width="1.5" />
<text x="1650.3" y="1697.6" font-size="19" >4</text>
<path d="M1640.8 1748.5L1646.8 1748.5" stroke="#000" stroke-width="1.5" />
<text x="1650.3" y="1754.8" font-size="19" >0</text>
<defs><linearGradient id="jet2" x1="0" y1="1" x2="0" y2="0"><stop offset="0" stop-color="#00008f"/><stop offset="0.11" stop-color="#0000ff"/><stop offset="0.36" stop-color="#00ffff"/><stop offset="0.5" stop-color="#80ff80"/><stop offset="0.64" stop-color="#ffff00"/><stop offset="0.89" stop-color="#ff0000"/><stop offset="1" stop-color="#800000"/></linearGradient></defs>
<rect x="1622" y="1797.6" width="18.8" height="234.6" fill="url(#jet2)" stroke="#000" stroke-width="1"/>
<path d="M1640.8 1801L1646.8 1801" stroke="#000" stroke-width="1.5" />
<text x="1650.3" y="1807.3" font-size="19" >71</text>
<path d="M1640.8 1855L1646.8 1855" stroke="#000" stroke-width="1.5" />
<text x="1650.3" y="1861.3" font-size="19" >30</text>
<path d="M1640.8 1913.5L1646.8 1913.5" stroke="#000" stroke-width="1.5" />
<text x="1650.3" y="1919.8" font-size="19" >13</text>
<path d="M1640.8 1971L1646.8 1971" stroke="#000" stroke-width="1.5" />
<text x="1650.3" y="1977.3" font-size="19" >5</text>
<path d="M1640.8 2028.5L1646.8 2028.5" stroke="#000" stroke-width="1.5" />
<text x="1650.3" y="2034.8" font-size="19" >0</text>
<path d="M987.5 1779.5H1670" stroke="#000" stroke-width="3" stroke-dasharray="10.2 9.6"/>
<path d="M1064.5 1970V2075H1170" stroke="#000" stroke-width="2"/>
<path d="M1064.5 1957L1072.5 1973H1056.5ZM1183 2075L1167 2067V2083Z" fill="#000"/>
<text x="1054.5" y="2029" font-size="22.3" text-anchor="middle" transform="rotate(-90 1054.5 2029)" >UMAP2</text>
<text x="1074" y="2102.5" font-size="22.3" >UMAP1</text>
<text x="6.5" y="1935" font-size="44" font-weight="bold" >l</text>
<g transform="translate(140 1920) scale(0.28872)"><path d="M237 100 C222 100 214 112 215 128 C216 142 220 150 222 158 C222 166 216 170 206 173 C190 177 180 184 178 200 C176 225 172 250 166 272 C160 292 154 308 152 322 C146 330 138 340 137 350 C140 352 144 348 147 346 C146 354 146 364 150 368 C154 372 160 370 164 366 C168 358 168 346 170 336 C178 312 188 290 194 262 C196 280 196 300 194 318 C190 345 192 380 198 410 C202 436 204 452 202 470 C200 490 204 510 210 528 C212 538 206 546 206 552 C210 558 226 558 232 554 C234 540 232 520 234 500 C236 470 236 440 237 400 C238 440 238 470 240 500 C242 520 240 540 242 554 C248 558 264 558 268 552 C268 546 262 538 264 528 C270 510 274 490 272 470 C270 452 272 436 276 410 C282 380 284 345 280 318 C278 300 278 280 280 262 C286 290 296 312 304 336 C306 346 306 358 310 366 C314 370 320 372 324 368 C328 364 328 354 327 346 C330 348 334 352 337 350 C336 340 328 330 322 322 C320 308 314 292 308 272 C302 250 298 225 296 200 C294 184 284 177 268 173 C258 170 252 166 252 158 C254 150 258 142 259 128 C260 112 252 100 237 100 Z" fill="#000"/></g>
<path d="M246.8 2004.3L428.7 2004.3" stroke="#000" stroke-width="3" />
<path d="M439.1 2004.3L426.7 1996.2L426.7 2012.4Z" fill="#000"/>
<text x="337.2" y="1998.5" font-size="22.6" text-anchor="middle" >CD34+</text>
<text x="485" y="1949.7" font-size="22.6" text-anchor="middle" >NSGS</text>
<g transform="translate(140 1920) scale(0.28872)"><path d="M1185 207 C1140 215 1110 270 1114 340 M1208 206 C1250 215 1280 270 1276 340 M1150 348 C1120 340 1105 365 1110 392 C1114 412 1135 422 1150 415 M1244 348 C1274 340 1289 365 1284 392 C1280 412 1259 422 1244 415 M1122 378 C1125 360 1150 352 1168 372 M1272 378 C1269 360 1244 352 1226 372 M1150 348 C1168 352 1180 368 1182 390 M1244 348 C1226 352 1214 368 1212 390 M1150 415 C1160 445 1178 470 1190 482 M1244 415 C1234 445 1216 470 1204 482 M1182 390 C1190 380 1204 380 1212 390 M1165 462 L1118 455 M1168 468 L1125 482 M1172 474 L1148 498 M1229 462 L1276 455 M1226 468 L1269 482 M1222 474 L1246 498 " stroke="#000" stroke-width="4.5" stroke-linecap="round"/><path d="M1182 478 L1212 478 L1197 492 Z" fill="#000"/><circle cx="1172" cy="433" r="7" fill="#fff" stroke="#000" stroke-width="5"/><circle cx="1222" cy="433" r="7" fill="#fff" stroke="#000" stroke-width="5"/><path d="M1183 208 C1200 170 1235 150 1275 160 C1320 172 1345 225 1395 222 C1390 240 1340 238 1310 205 C1285 180 1250 172 1225 185 C1215 192 1210 200 1208 207" stroke="#000" stroke-width="4.5" fill="#fff"/><path d="M1200 198 C1215 172 1245 160 1275 170 C1312 182 1340 225 1385 228" stroke="#000" stroke-width="3"/></g>
<text x="206" y="2112.5" font-size="22.6" text-anchor="middle" >NBM</text>
<text x="398.5" y="2112.5" font-size="22.6" >BCI +/−  Rux</text>
<path d="M376 2139V2131Q376 2127.5 380 2127.5H458L462.5 2120.5L467 2127.5H544.5Q548.5 2127.5 548.5 2131V2139" stroke="#000" stroke-width="2.4"/>
<path d="M157 2154H548.5M157 2141V2166M376 2142.5V2166M548.5 2142.5V2166" stroke="#000" stroke-width="2.6"/>
<text x="157.5" y="2190" font-size="22.6" text-anchor="middle" >0</text>
<text x="376" y="2190" font-size="22.6" text-anchor="middle" >38</text>
<text x="546" y="2190" font-size="22.6" text-anchor="middle" >63</text>
<text x="363.5" y="2223.5" font-size="22.6" text-anchor="middle" >Days post-transplant</text>
<text x="4" y="2240" font-size="44" font-weight="bold" >m</text>
<path d="M33 2288.5L1684 2288.5" stroke="#000" stroke-width="3" />
<text x="33.5" y="2279.5" font-size="22.5" >NBM CD34+ PDX</text>
<path d="M135.7 2332.5L135.7 2603.7M121.9 2603.7L673 2603.7M121.9 2536.3L135.7 2536.3M121.9 2468.9L135.7 2468.9M121.9 2401.5L135.7 2401.5M121.9 2334.1L135.7 2334.1M192.3 2603.7L192.3 2617.3M298.2 2603.7L298.2 2617.3M404.1 2603.7L404.1 2617.3M510 2603.7L510 2617.3M615.9 2603.7L615.9 2617.3" stroke="#000" stroke-width="3.2"/>
<text x="109.9" y="2613.2" font-size="26.5" text-anchor="end" >0</text>
<text x="109.9" y="2545.8" font-size="26.5" text-anchor="end" >10</text>
<text x="109.9" y="2478.4" font-size="26.5" text-anchor="end" >20</text>
<text x="109.9" y="2411" font-size="26.5" text-anchor="end" >30</text>
<text x="109.9" y="2343.6" font-size="26.5" text-anchor="end" >40</text>
<text x="192.3" y="2644.6" font-size="22.7" text-anchor="middle" >35</text>
<text x="298.2" y="2644.6" font-size="22.7" text-anchor="middle" >42</text>
<text x="404.1" y="2644.6" font-size="22.7" text-anchor="middle" >49</text>
<text x="510" y="2644.6" font-size="22.7" text-anchor="middle" >56</text>
<text x="615.9" y="2644.6" font-size="22.7" text-anchor="middle" >63</text>
<text x="408.5" y="2681.5" font-size="22.6" text-anchor="middle" >Days post-transplant</text>
<text x="46.7" y="2474.5" font-size="22.6" text-anchor="middle" transform="rotate(-90 46.7 2474.5)" >% hCD45 in PB</text>
<circle cx="173.2" cy="2329.7" r="5" fill="#f08c8c" fill-opacity="0.95" />
<text x="185" y="2336.7" font-size="19.7" >Vehicle</text>
<circle cx="173.2" cy="2353.3" r="5" fill="#1e9af0" fill-opacity="0.95" />
<text x="185" y="2360.2" font-size="19.7" >BCI</text>
<circle cx="173.2" cy="2376.9" r="5" fill="#f5a020" fill-opacity="0.95" />
<text x="185" y="2383.7" font-size="19.7" >Rux</text>
<circle cx="173.2" cy="2400.5" r="5" fill="#4f1f95" fill-opacity="0.95" />
<text x="185" y="2407.2" font-size="19.7" >BCI + Rux</text>
<path d="M252.5 2324.9L252.5 2363.8" stroke="#000" stroke-width="1.8" />
<text x="259.6" y="2346.7" font-size="15.5" text-anchor="middle" transform="rotate(90 259.6 2346.7)" >ns</text>
<path d="M280.8 2324.9L280.8 2387.9" stroke="#000" stroke-width="1.8" />
<text x="285" y="2355.9" font-size="15.5" text-anchor="middle" transform="rotate(90 285 2355.9)" >ns</text>
<path d="M303.7 2324.9L303.7 2412.9" stroke="#000" stroke-width="1.8" />
<text x="307.3" y="2366.9" font-size="15.5" text-anchor="middle" transform="rotate(90 307.3 2366.9)" >ns</text>
<circle cx="156.7" cy="2499.5" r="5" fill="#f08c8c" fill-opacity="0.95" />
<circle cx="162.7" cy="2507.3" r="5" fill="#f08c8c" fill-opacity="0.95" />
<circle cx="150.4" cy="2515.7" r="5" fill="#f08c8c" fill-opacity="0.95" />
<circle cx="150.4" cy="2538.8" r="5" fill="#f08c8c" fill-opacity="0.95" />
<circle cx="162.7" cy="2536.7" r="5" fill="#f08c8c" fill-opacity="0.95" />
<circle cx="156.7" cy="2559.1" r="5" fill="#f08c8c" fill-opacity="0.95" />
<path d="M146.2 2525.7L167.2 2525.7M156.7 2548L156.7 2503.4M150.9 2548L162.5 2548M150.9 2503.4L162.5 2503.4" stroke="#000" stroke-width="1.6"/>
<circle cx="180.3" cy="2466.1" r="5" fill="#1e9af0" fill-opacity="0.95" />
<circle cx="180.3" cy="2512.6" r="5" fill="#1e9af0" fill-opacity="0.95" />
<circle cx="186.4" cy="2512.6" r="5" fill="#1e9af0" fill-opacity="0.95" />
<circle cx="174.5" cy="2522.6" r="5" fill="#1e9af0" fill-opacity="0.95" />
<circle cx="174.5" cy="2538.3" r="5" fill="#1e9af0" fill-opacity="0.95" />
<circle cx="186.4" cy="2536.2" r="5" fill="#1e9af0" fill-opacity="0.95" />
<path d="M169.8 2514.7L190.8 2514.7M180.3 2540.7L180.3 2488.5M174.5 2540.7L186.1 2540.7M174.5 2488.5L186.1 2488.5" stroke="#000" stroke-width="1.6"/>
<circle cx="203.9" cy="2460.9" r="5" fill="#f5a020" fill-opacity="0.95" />
<circle cx="203.9" cy="2485.8" r="5" fill="#f5a020" fill-opacity="0.95" />
<circle cx="203.9" cy="2506" r="5" fill="#f5a020" fill-opacity="0.95" />
<circle cx="203.9" cy="2517.3" r="5" fill="#f5a020" fill-opacity="0.95" />
<circle cx="203.9" cy="2538.1" r="5" fill="#f5a020" fill-opacity="0.95" />
<circle cx="203.9" cy="2555.9" r="5" fill="#f5a020" fill-opacity="0.95" />
<path d="M193.4 2510.5L214.4 2510.5M203.9 2544.9L203.9 2476.4M198.1 2544.9L209.7 2544.9M198.1 2476.4L209.7 2476.4" stroke="#000" stroke-width="1.6"/>
<circle cx="227.8" cy="2470.6" r="5" fill="#4f1f95" fill-opacity="0.95" />
<circle cx="227.8" cy="2509.2" r="5" fill="#4f1f95" fill-opacity="0.95" />
<circle cx="234.4" cy="2521" r="5" fill="#4f1f95" fill-opacity="0.95" />
<circle cx="222.3" cy="2524.4" r="5" fill="#4f1f95" fill-opacity="0.95" />
<circle cx="234.4" cy="2555.1" r="5" fill="#4f1f95" fill-opacity="0.95" />
<circle cx="222.3" cy="2565.6" r="5" fill="#4f1f95" fill-opacity="0.95" />
<path d="M217.3 2523.6L238.3 2523.6M227.8 2558L227.8 2489.8M222 2558L233.6 2558M222 2489.8L233.6 2489.8" stroke="#000" stroke-width="1.6"/>
<circle cx="262.5" cy="2485.8" r="5" fill="#f08c8c" fill-opacity="0.95" />
<circle cx="256.4" cy="2490.3" r="5" fill="#f08c8c" fill-opacity="0.95" />
<circle cx="268.5" cy="2488.5" r="5" fill="#f08c8c" fill-opacity="0.95" />
<circle cx="256.4" cy="2525.7" r="5" fill="#f08c8c" fill-opacity="0.95" />
<circle cx="268.5" cy="2523.1" r="5" fill="#f08c8c" fill-opacity="0.95" />
<circle cx="262.5" cy="2548" r="5" fill="#f08c8c" fill-opacity="0.95" />
<path d="M252 2510L273 2510M262.5 2535.4L262.5 2484.3M256.7 2535.4L268.3 2535.4M256.7 2484.3L268.3 2484.3" stroke="#000" stroke-width="1.6"/>
<circle cx="286.1" cy="2517.8" r="5" fill="#1e9af0" fill-opacity="0.95" />
<circle cx="292.1" cy="2518.6" r="5" fill="#1e9af0" fill-opacity="0.95" />
<circle cx="280.3" cy="2524.9" r="5" fill="#1e9af0" fill-opacity="0.95" />
<circle cx="286.1" cy="2528.3" r="5" fill="#1e9af0" fill-opacity="0.95" />
<circle cx="286.1" cy="2536.2" r="5" fill="#1e9af0" fill-opacity="0.95" />
<circle cx="286.9" cy="2551.2" r="5" fill="#1e9af0" fill-opacity="0.95" />
<path d="M275.6 2528.9L296.6 2528.9M286.1 2541.5L286.1 2515.7M280.3 2541.5L291.9 2541.5M280.3 2515.7L291.9 2515.7" stroke="#000" stroke-width="1.6"/>
<circle cx="316.3" cy="2480.6" r="5" fill="#f5a020" fill-opacity="0.95" />
<circle cx="303.7" cy="2483.7" r="5" fill="#f5a020" fill-opacity="0.95" />
<circle cx="316.3" cy="2499.5" r="5" fill="#f5a020" fill-opacity="0.95" />
<circle cx="303.7" cy="2504.2" r="5" fill="#f5a020" fill-opacity="0.95" />
<circle cx="309.7" cy="2521.3" r="5" fill="#f5a020" fill-opacity="0.95" />
<circle cx="309.7" cy="2549.9" r="5" fill="#f5a020" fill-opacity="0.95" />
<path d="M299.2 2506.6L320.2 2506.6M309.7 2532.3L309.7 2481.1M303.9 2532.3L315.5 2532.3M303.9 2481.1L315.5 2481.1" stroke="#000" stroke-width="1.6"/>
<circle cx="333.3" cy="2504.2" r="5" fill="#4f1f95" fill-opacity="0.95" />
<circle cx="339.4" cy="2509.2" r="5" fill="#4f1f95" fill-opacity="0.95" />
<circle cx="327.3" cy="2517.3" r="5" fill="#4f1f95" fill-opacity="0.95" />
<circle cx="333.3" cy="2549.3" r="5" fill="#4f1f95" fill-opacity="0.95" />
<circle cx="333.3" cy="2561.7" r="5" fill="#4f1f95" fill-opacity="0.95" />
<path d="M322.8 2524.9L343.8 2524.9M333.3 2549.9L333.3 2500M327.5 2549.9L339.1 2549.9M327.5 2500L339.1 2500" stroke="#000" stroke-width="1.6"/>
<circle cx="368.6" cy="2493.4" r="5" fill="#f08c8c" fill-opacity="0.95" />
<circle cx="368.6" cy="2507.3" r="5" fill="#f08c8c" fill-opacity="0.95" />
<circle cx="368.6" cy="2518.4" r="5" fill="#f08c8c" fill-opacity="0.95" />
<circle cx="362.8" cy="2531.8" r="5" fill="#f08c8c" fill-opacity="0.95" />
<circle cx="374.6" cy="2530.2" r="5" fill="#f08c8c" fill-opacity="0.95" />
<circle cx="368.6" cy="2563.8" r="5" fill="#f08c8c" fill-opacity="0.95" />
<path d="M358.1 2523.9L379.1 2523.9M368.6 2547.5L368.6 2500M362.8 2547.5L374.4 2547.5M362.8 2500L374.4 2500" stroke="#000" stroke-width="1.6"/>
<circle cx="392.2" cy="2507.3" r="5" fill="#1e9af0" fill-opacity="0.95" />
<circle cx="385.9" cy="2511.8" r="5" fill="#1e9af0" fill-opacity="0.95" />
<circle cx="398.2" cy="2510" r="5" fill="#1e9af0" fill-opacity="0.95" />
<circle cx="392.2" cy="2531" r="5" fill="#1e9af0" fill-opacity="0.95" />
<circle cx="398.2" cy="2532.8" r="5" fill="#1e9af0" fill-opacity="0.95" />
<circle cx="385.9" cy="2539.4" r="5" fill="#1e9af0" fill-opacity="0.95" />
<path d="M381.7 2522.3L402.7 2522.3M392.2 2536.2L392.2 2509.2M386.4 2536.2L398 2536.2M386.4 2509.2L398 2509.2" stroke="#000" stroke-width="1.6"/>
<circle cx="421.9" cy="2481.1" r="5" fill="#f5a020" fill-opacity="0.95" />
<circle cx="409.5" cy="2490.8" r="5" fill="#f5a020" fill-opacity="0.95" />
<circle cx="421.9" cy="2508.1" r="5" fill="#f5a020" fill-opacity="0.95" />
<circle cx="409.5" cy="2513.9" r="5" fill="#f5a020" fill-opacity="0.95" />
<circle cx="421.9" cy="2552" r="5" fill="#f5a020" fill-opacity="0.95" />
<circle cx="409.5" cy="2554.1" r="5" fill="#f5a020" fill-opacity="0.95" />
<path d="M405.3 2516.5L426.3 2516.5M415.8 2547.2L415.8 2486.4M410 2547.2L421.6 2547.2M410 2486.4L421.6 2486.4" stroke="#000" stroke-width="1.6"/>
<circle cx="439.7" cy="2502.1" r="5" fill="#4f1f95" fill-opacity="0.95" />
<circle cx="445.5" cy="2508.1" r="5" fill="#4f1f95" fill-opacity="0.95" />
<circle cx="434.2" cy="2517.3" r="5" fill="#4f1f95" fill-opacity="0.95" />
<circle cx="445.5" cy="2535.4" r="5" fill="#4f1f95" fill-opacity="0.95" />
<circle cx="434.2" cy="2541.5" r="5" fill="#4f1f95" fill-opacity="0.95" />
<circle cx="439.7" cy="2557.2" r="5" fill="#4f1f95" fill-opacity="0.95" />
<path d="M429.2 2526.2L450.2 2526.2M439.7 2548L439.7 2505.5M433.9 2548L445.5 2548M433.9 2505.5L445.5 2505.5" stroke="#000" stroke-width="1.6"/>
<circle cx="474.4" cy="2504.2" r="5" fill="#f08c8c" fill-opacity="0.95" />
<circle cx="480.4" cy="2513.4" r="5" fill="#f08c8c" fill-opacity="0.95" />
<circle cx="468.3" cy="2516" r="5" fill="#f08c8c" fill-opacity="0.95" />
<circle cx="480.4" cy="2528.3" r="5" fill="#f08c8c" fill-opacity="0.95" />
<circle cx="468.3" cy="2533.1" r="5" fill="#f08c8c" fill-opacity="0.95" />
<circle cx="474.4" cy="2553.3" r="5" fill="#f08c8c" fill-opacity="0.95" />
<path d="M463.9 2524.4L484.9 2524.4M474.4 2541.5L474.4 2507.3M468.6 2541.5L480.2 2541.5M468.6 2507.3L480.2 2507.3" stroke="#000" stroke-width="1.6"/>
<circle cx="498.5" cy="2507.3" r="5" fill="#1e9af0" fill-opacity="0.95" />
<circle cx="492.7" cy="2532.3" r="5" fill="#1e9af0" fill-opacity="0.95" />
<circle cx="504.5" cy="2532.3" r="5" fill="#1e9af0" fill-opacity="0.95" />
<circle cx="498.5" cy="2537.5" r="5" fill="#1e9af0" fill-opacity="0.95" />
<circle cx="504.5" cy="2542.8" r="5" fill="#1e9af0" fill-opacity="0.95" />
<circle cx="492.7" cy="2545.9" r="5" fill="#1e9af0" fill-opacity="0.95" />
<path d="M488 2533.1L509 2533.1M498.5 2547.5L498.5 2519.9M492.7 2547.5L504.3 2547.5M492.7 2519.9L504.3 2519.9" stroke="#000" stroke-width="1.6"/>
<circle cx="521.6" cy="2496.3" r="5" fill="#f5a020" fill-opacity="0.95" />
<circle cx="527.4" cy="2500.8" r="5" fill="#f5a020" fill-opacity="0.95" />
<circle cx="515.8" cy="2504.7" r="5" fill="#f5a020" fill-opacity="0.95" />
<circle cx="521.6" cy="2530.4" r="5" fill="#f5a020" fill-opacity="0.95" />
<circle cx="521.6" cy="2555.9" r="5" fill="#f5a020" fill-opacity="0.95" />
<circle cx="525.5" cy="2499.5" r="5" fill="#f5a020" fill-opacity="0.95" />
<path d="M511.1 2515.2L532.1 2515.2M521.6 2538.3L521.6 2491.6M515.8 2538.3L527.4 2538.3M515.8 2491.6L527.4 2491.6" stroke="#000" stroke-width="1.6"/>
<circle cx="545.2" cy="2516.5" r="5" fill="#4f1f95" fill-opacity="0.95" />
<circle cx="539.2" cy="2533.1" r="5" fill="#4f1f95" fill-opacity="0.95" />
<circle cx="551.3" cy="2533.6" r="5" fill="#4f1f95" fill-opacity="0.95" />
<circle cx="545.2" cy="2544.1" r="5" fill="#4f1f95" fill-opacity="0.95" />
<circle cx="539.2" cy="2553.8" r="5" fill="#4f1f95" fill-opacity="0.95" />
<circle cx="551.3" cy="2553.8" r="5" fill="#4f1f95" fill-opacity="0.95" />
<path d="M534.7 2538.8L555.7 2538.8M545.2 2553.3L545.2 2524.9M539.4 2553.3L551 2553.3M539.4 2524.9L551 2524.9" stroke="#000" stroke-width="1.6"/>
<circle cx="580.7" cy="2463.5" r="5" fill="#f08c8c" fill-opacity="0.95" />
<circle cx="574.1" cy="2505.5" r="5" fill="#f08c8c" fill-opacity="0.95" />
<circle cx="586.7" cy="2504.7" r="5" fill="#f08c8c" fill-opacity="0.95" />
<circle cx="580.7" cy="2536.2" r="5" fill="#f08c8c" fill-opacity="0.95" />
<path d="M570.2 2502.6L591.2 2502.6M580.7 2525.2L580.7 2479.8M574.9 2525.2L586.5 2525.2M574.9 2479.8L586.5 2479.8" stroke="#000" stroke-width="1.6"/>
<circle cx="604.3" cy="2519.2" r="5" fill="#1e9af0" fill-opacity="0.95" />
<circle cx="598.2" cy="2525.7" r="5" fill="#1e9af0" fill-opacity="0.95" />
<circle cx="610.3" cy="2525.2" r="5" fill="#1e9af0" fill-opacity="0.95" />
<circle cx="604.3" cy="2531" r="5" fill="#1e9af0" fill-opacity="0.95" />
<circle cx="598.2" cy="2545.4" r="5" fill="#1e9af0" fill-opacity="0.95" />
<circle cx="610.3" cy="2544.1" r="5" fill="#1e9af0" fill-opacity="0.95" />
<path d="M593.8 2531L614.8 2531M604.3 2541.5L604.3 2521M598.5 2541.5L610.1 2541.5M598.5 2521L610.1 2521" stroke="#000" stroke-width="1.6"/>
<circle cx="621.9" cy="2480.3" r="5" fill="#f5a020" fill-opacity="0.95" />
<circle cx="627.9" cy="2478.5" r="5" fill="#f5a020" fill-opacity="0.95" />
<circle cx="633.9" cy="2479.3" r="5" fill="#f5a020" fill-opacity="0.95" />
<circle cx="627.9" cy="2506.6" r="5" fill="#f5a020" fill-opacity="0.95" />
<circle cx="627.9" cy="2543.6" r="5" fill="#f5a020" fill-opacity="0.95" />
<path d="M617.4 2494.2L638.4 2494.2M627.9 2521L627.9 2468M622.1 2521L633.7 2521M622.1 2468L633.7 2468" stroke="#000" stroke-width="1.6"/>
<circle cx="652.3" cy="2504.2" r="5" fill="#4f1f95" fill-opacity="0.95" />
<circle cx="658.1" cy="2528.3" r="5" fill="#4f1f95" fill-opacity="0.95" />
<circle cx="646.3" cy="2532.3" r="5" fill="#4f1f95" fill-opacity="0.95" />
<circle cx="652.3" cy="2544.1" r="5" fill="#4f1f95" fill-opacity="0.95" />
<circle cx="658.1" cy="2559.1" r="5" fill="#4f1f95" fill-opacity="0.95" />
<circle cx="646.3" cy="2567.7" r="5" fill="#4f1f95" fill-opacity="0.95" />
<path d="M641.8 2539.4L662.8 2539.4M652.3 2561.9L652.3 2516.5M646.5 2561.9L658.1 2561.9M646.5 2516.5L658.1 2516.5" stroke="#000" stroke-width="1.6"/>
<path d="M786.5 2333.3L786.5 2603.6M772.7 2603.6L987.6 2603.6M772.7 2536.4L786.5 2536.4M772.7 2469.3L786.5 2469.3M772.7 2402.1L786.5 2402.1M772.7 2334.9L786.5 2334.9M818.7 2603.6L818.7 2617.2M863.6 2603.6L863.6 2617.2M909.1 2603.6L909.1 2617.2M954.6 2603.6L954.6 2617.2" stroke="#000" stroke-width="3.2"/>
<text x="763.7" y="2612.2" font-size="24" text-anchor="end" >0</text>
<text x="763.7" y="2545" font-size="24" text-anchor="end" >20</text>
<text x="763.7" y="2477.9" font-size="24" text-anchor="end" >40</text>
<text x="763.7" y="2410.7" font-size="24" text-anchor="end" >60</text>
<text x="763.7" y="2343.5" font-size="24" text-anchor="end" >80</text>
<text x="723.6" y="2480.2" font-size="22.6" text-anchor="middle" transform="rotate(-90 723.6 2480.2)" >% hCD45 in BM</text>
<text x="824" y="2638.6" font-size="23.9" text-anchor="end" transform="rotate(-45 824 2638.6)" >Vehicle</text>
<text x="868.9" y="2638.6" font-size="23.9" text-anchor="end" transform="rotate(-45 868.9 2638.6)" >BCI</text>
<text x="914.4" y="2638.6" font-size="23.9" text-anchor="end" transform="rotate(-45 914.4 2638.6)" >Rux</text>
<text x="959.9" y="2638.6" font-size="23.9" text-anchor="end" transform="rotate(-45 959.9 2638.6)" >BCI + Rux</text>
<path d="M819.5 2328.6L958.7 2328.6" stroke="#000" stroke-width="1.6" />
<text x="888.4" y="2320.9" font-size="17" text-anchor="middle" >ns</text>
<path d="M819.5 2357.5L914.1 2357.5" stroke="#000" stroke-width="1.6" />
<text x="860" y="2349.8" font-size="17" text-anchor="middle" >ns</text>
<path d="M819.5 2384.5L866.4 2384.5" stroke="#000" stroke-width="1.6" />
<text x="842.4" y="2378.7" font-size="17" text-anchor="middle" >0.003</text>
<circle cx="819.5" cy="2427" r="5" fill="#f08c8c" fill-opacity="0.95" />
<circle cx="819.5" cy="2444.3" r="5" fill="#f08c8c" fill-opacity="0.95" />
<circle cx="819.5" cy="2450.7" r="5" fill="#f08c8c" fill-opacity="0.95" />
<circle cx="834.7" cy="2455.4" r="5" fill="#f08c8c" fill-opacity="0.95" />
<circle cx="803.8" cy="2460.9" r="5" fill="#f08c8c" fill-opacity="0.95" />
<circle cx="819.5" cy="2486.5" r="5" fill="#f08c8c" fill-opacity="0.95" />
<path d="M799.4 2454.5L839.6 2454.5M819.5 2473.8L819.5 2434.7M808.5 2473.8L830.5 2473.8M808.5 2434.7L830.5 2434.7" stroke="#000" stroke-width="1.6"/>
<circle cx="875.2" cy="2476.8" r="5" fill="#1e9af0" fill-opacity="0.95" />
<circle cx="854.5" cy="2482.1" r="5" fill="#1e9af0" fill-opacity="0.95" />
<circle cx="860.9" cy="2486.2" r="5" fill="#1e9af0" fill-opacity="0.95" />
<circle cx="880.2" cy="2491.7" r="5" fill="#1e9af0" fill-opacity="0.95" />
<circle cx="849.3" cy="2495.3" r="5" fill="#1e9af0" fill-opacity="0.95" />
<circle cx="869.1" cy="2493.9" r="5" fill="#1e9af0" fill-opacity="0.95" />
<path d="M844.3 2487.6L884.5 2487.6M864.4 2494.5L864.4 2480.7M853.4 2494.5L875.4 2494.5M853.4 2480.7L875.4 2480.7" stroke="#000" stroke-width="1.6"/>
<circle cx="899.4" cy="2447.1" r="5" fill="#f5a020" fill-opacity="0.95" />
<circle cx="920.1" cy="2444.3" r="5" fill="#f5a020" fill-opacity="0.95" />
<circle cx="909.6" cy="2470.5" r="5" fill="#f5a020" fill-opacity="0.95" />
<circle cx="894.5" cy="2478" r="5" fill="#f5a020" fill-opacity="0.95" />
<circle cx="925.1" cy="2476.6" r="5" fill="#f5a020" fill-opacity="0.95" />
<circle cx="909.6" cy="2490.4" r="5" fill="#f5a020" fill-opacity="0.95" />
<path d="M889.5 2467.2L929.7 2467.2M909.6 2485.7L909.6 2449.8M898.6 2485.7L920.6 2485.7M898.6 2449.8L920.6 2449.8" stroke="#000" stroke-width="1.6"/>
<circle cx="955.1" cy="2458.1" r="5" fill="#4f1f95" fill-opacity="0.95" />
<circle cx="949.1" cy="2465.8" r="5" fill="#4f1f95" fill-opacity="0.95" />
<circle cx="970.5" cy="2471.1" r="5" fill="#4f1f95" fill-opacity="0.95" />
<circle cx="960.9" cy="2471.9" r="5" fill="#4f1f95" fill-opacity="0.95" />
<circle cx="940" cy="2475.2" r="5" fill="#4f1f95" fill-opacity="0.95" />
<circle cx="955.1" cy="2495.3" r="5" fill="#4f1f95" fill-opacity="0.95" />
<path d="M935 2472.7L975.2 2472.7M955.1 2485.1L955.1 2460.3M944.1 2485.1L966.1 2485.1M944.1 2460.3L966.1 2460.3" stroke="#000" stroke-width="1.6"/>
<path d="M1162.6 2333.3L1162.6 2603.3M1148.8 2603.3L1361.6 2603.3M1148.8 2536.2L1162.6 2536.2M1148.8 2469.1L1162.6 2469.1M1148.8 2402L1162.6 2402M1148.8 2334.9L1162.6 2334.9M1194.3 2603.3L1194.3 2616.9M1239.2 2603.3L1239.2 2616.9M1283.9 2603.3L1283.9 2616.9M1328.8 2603.3L1328.8 2616.9" stroke="#000" stroke-width="3.2"/>
<text x="1139.8" y="2611.9" font-size="24" text-anchor="end" >0.0</text>
<text x="1139.8" y="2544.8" font-size="24" text-anchor="end" >5.0×10<tspan dy="-9.6" font-size="17.3">-4</tspan></text>
<text x="1139.8" y="2477.7" font-size="24" text-anchor="end" >1.0×10<tspan dy="-9.6" font-size="17.3">-3</tspan></text>
<text x="1139.8" y="2410.6" font-size="24" text-anchor="end" >1.5×10<tspan dy="-9.6" font-size="17.3">-3</tspan></text>
<text x="1139.8" y="2343.5" font-size="24" text-anchor="end" >2.0×10<tspan dy="-9.6" font-size="17.3">-3</tspan></text>
<text x="1030.9" y="2468.3" font-size="22.6" text-anchor="middle" transform="rotate(-90 1030.9 2468.3)" >Normalized spleen weight</text>
<text x="1199.6" y="2638.3" font-size="23.9" text-anchor="end" transform="rotate(-45 1199.6 2638.3)" >Vehicle</text>
<text x="1244.5" y="2638.3" font-size="23.9" text-anchor="end" transform="rotate(-45 1244.5 2638.3)" >BCI</text>
<text x="1289.2" y="2638.3" font-size="23.9" text-anchor="end" transform="rotate(-45 1289.2 2638.3)" >Rux</text>
<text x="1334.1" y="2638.3" font-size="23.9" text-anchor="end" transform="rotate(-45 1334.1 2638.3)" >BCI + Rux</text>
<path d="M1194.3 2328.6L1333.5 2328.6" stroke="#000" stroke-width="1.6" />
<text x="1263.2" y="2320.9" font-size="17" text-anchor="middle" >ns</text>
<path d="M1194.3 2357L1289.4 2357" stroke="#000" stroke-width="1.6" />
<text x="1234.3" y="2349.8" font-size="17" text-anchor="middle" >ns</text>
<path d="M1194.3 2384.5L1241.1 2384.5" stroke="#000" stroke-width="1.6" />
<text x="1216.9" y="2378.7" font-size="17" text-anchor="middle" >ns</text>
<circle cx="1184.6" cy="2409.3" r="5" fill="#f08c8c" fill-opacity="0.95" />
<circle cx="1204.8" cy="2408.5" r="5" fill="#f08c8c" fill-opacity="0.95" />
<circle cx="1194.3" cy="2427" r="5" fill="#f08c8c" fill-opacity="0.95" />
<circle cx="1184.6" cy="2480.2" r="5" fill="#f08c8c" fill-opacity="0.95" />
<circle cx="1204.8" cy="2478.2" r="5" fill="#f08c8c" fill-opacity="0.95" />
<circle cx="1194.3" cy="2544.4" r="5" fill="#f08c8c" fill-opacity="0.95" />
<path d="M1174.7 2457.6L1214.9 2457.6M1194.8 2511L1194.8 2404.9M1183.8 2511L1205.8 2511M1183.8 2404.9L1205.8 2404.9" stroke="#000" stroke-width="1.6"/>
<circle cx="1228.7" cy="2480.7" r="5" fill="#1e9af0" fill-opacity="0.95" />
<circle cx="1250" cy="2478" r="5" fill="#1e9af0" fill-opacity="0.95" />
<circle cx="1239.2" cy="2492" r="5" fill="#1e9af0" fill-opacity="0.95" />
<circle cx="1239.2" cy="2539.4" r="5" fill="#1e9af0" fill-opacity="0.95" />
<circle cx="1254.9" cy="2540" r="5" fill="#1e9af0" fill-opacity="0.95" />
<circle cx="1224.1" cy="2549.1" r="5" fill="#1e9af0" fill-opacity="0.95" />
<path d="M1219.1 2512.7L1259.3 2512.7M1239.2 2545.7L1239.2 2480.2M1228.2 2545.7L1250.2 2545.7M1228.2 2480.2L1250.2 2480.2" stroke="#000" stroke-width="1.6"/>
<circle cx="1284.4" cy="2426.4" r="5" fill="#f5a020" fill-opacity="0.95" />
<circle cx="1274.2" cy="2486.5" r="5" fill="#f5a020" fill-opacity="0.95" />
<circle cx="1294.9" cy="2484.8" r="5" fill="#f5a020" fill-opacity="0.95" />
<circle cx="1284.4" cy="2538.6" r="5" fill="#f5a020" fill-opacity="0.95" />
<circle cx="1269.2" cy="2548.2" r="5" fill="#f5a020" fill-opacity="0.95" />
<circle cx="1299.8" cy="2546.8" r="5" fill="#f5a020" fill-opacity="0.95" />
<path d="M1264.3 2505L1304.5 2505M1284.4 2553.2L1284.4 2456.7M1273.4 2553.2L1295.4 2553.2M1273.4 2456.7L1295.4 2456.7" stroke="#000" stroke-width="1.6"/>
<circle cx="1329.3" cy="2431.9" r="5" fill="#4f1f95" fill-opacity="0.95" />
<circle cx="1329.3" cy="2481" r="5" fill="#4f1f95" fill-opacity="0.95" />
<circle cx="1324.4" cy="2540.2" r="5" fill="#4f1f95" fill-opacity="0.95" />
<circle cx="1314.2" cy="2546.3" r="5" fill="#4f1f95" fill-opacity="0.95" />
<circle cx="1334.3" cy="2542.7" r="5" fill="#4f1f95" fill-opacity="0.95" />
<circle cx="1345" cy="2541.6" r="5" fill="#4f1f95" fill-opacity="0.95" />
<path d="M1309.2 2514.1L1349.4 2514.1M1329.3 2561.5L1329.3 2466.9M1318.3 2561.5L1340.3 2561.5M1318.3 2466.9L1340.3 2466.9" stroke="#000" stroke-width="1.6"/>
<path d="M1480 2333.7L1480 2602.4M1466.2 2602.4L1679.5 2602.4M1466.2 2513.3L1480 2513.3M1466.2 2424.3L1480 2424.3M1466.2 2335.3L1480 2335.3M1511.6 2602.4L1511.6 2616M1556.4 2602.4L1556.4 2616M1601.1 2602.4L1601.1 2616M1646.4 2602.4L1646.4 2616" stroke="#000" stroke-width="3.2"/>
<text x="1457.2" y="2610.9" font-size="24" text-anchor="end" >0.02</text>
<text x="1457.2" y="2521.9" font-size="24" text-anchor="end" >0.04</text>
<text x="1457.2" y="2432.9" font-size="24" text-anchor="end" >0.06</text>
<text x="1457.2" y="2343.9" font-size="24" text-anchor="end" >0.08</text>
<text x="1398.4" y="2469.1" font-size="22.6" text-anchor="middle" transform="rotate(-90 1398.4 2469.1)" >Normalized liver weight</text>
<text x="1516.9" y="2637.4" font-size="23.9" text-anchor="end" transform="rotate(-45 1516.9 2637.4)" >Vehicle</text>
<text x="1561.7" y="2637.4" font-size="23.9" text-anchor="end" transform="rotate(-45 1561.7 2637.4)" >BCI</text>
<text x="1606.4" y="2637.4" font-size="23.9" text-anchor="end" transform="rotate(-45 1606.4 2637.4)" >Rux</text>
<text x="1651.7" y="2637.4" font-size="23.9" text-anchor="end" transform="rotate(-45 1651.7 2637.4)" >BCI + Rux</text>
<path d="M1513.3 2329.3L1652.6 2329.3" stroke="#000" stroke-width="1.6" />
<text x="1582.5" y="2322.3" font-size="17" text-anchor="middle" >ns</text>
<path d="M1513.3 2357.6L1608.1 2357.6" stroke="#000" stroke-width="1.6" />
<text x="1554.4" y="2350.9" font-size="17" text-anchor="middle" >ns</text>
<path d="M1513.3 2385.2L1560.1 2385.2" stroke="#000" stroke-width="1.6" />
<text x="1536.5" y="2380" font-size="17" text-anchor="middle" >ns</text>
<circle cx="1501.6" cy="2462.8" r="5" fill="#f08c8c" fill-opacity="0.95" />
<circle cx="1522.8" cy="2459.1" r="5" fill="#f08c8c" fill-opacity="0.95" />
<circle cx="1501.6" cy="2481.5" r="5" fill="#f08c8c" fill-opacity="0.95" />
<circle cx="1522.8" cy="2479.5" r="5" fill="#f08c8c" fill-opacity="0.95" />
<circle cx="1501.6" cy="2493.9" r="5" fill="#f08c8c" fill-opacity="0.95" />
<circle cx="1522.8" cy="2490.2" r="5" fill="#f08c8c" fill-opacity="0.95" />
<path d="M1492 2477.8L1532.2 2477.8M1512.1 2491.9L1512.1 2463.3M1501.1 2491.9L1523.1 2491.9M1501.1 2463.3L1523.1 2463.3" stroke="#000" stroke-width="1.6"/>
<circle cx="1546.4" cy="2479" r="5" fill="#1e9af0" fill-opacity="0.95" />
<circle cx="1567.5" cy="2474.8" r="5" fill="#1e9af0" fill-opacity="0.95" />
<circle cx="1567.5" cy="2483.5" r="5" fill="#1e9af0" fill-opacity="0.95" />
<circle cx="1546.4" cy="2491.4" r="5" fill="#1e9af0" fill-opacity="0.95" />
<circle cx="1546.4" cy="2502.1" r="5" fill="#1e9af0" fill-opacity="0.95" />
<circle cx="1567.5" cy="2500.6" r="5" fill="#1e9af0" fill-opacity="0.95" />
<path d="M1536.8 2488.2L1577 2488.2M1556.9 2499.4L1556.9 2476.5M1545.9 2499.4L1567.9 2499.4M1545.9 2476.5L1567.9 2476.5" stroke="#000" stroke-width="1.6"/>
<circle cx="1602.4" cy="2430.5" r="5" fill="#f5a020" fill-opacity="0.95" />
<circle cx="1602.4" cy="2456.1" r="5" fill="#f5a020" fill-opacity="0.95" />
<circle cx="1602.4" cy="2471.5" r="5" fill="#f5a020" fill-opacity="0.95" />
<circle cx="1602.4" cy="2491.9" r="5" fill="#f5a020" fill-opacity="0.95" />
<circle cx="1612.3" cy="2505.1" r="5" fill="#f5a020" fill-opacity="0.95" />
<circle cx="1591.7" cy="2513.8" r="5" fill="#f5a020" fill-opacity="0.95" />
<path d="M1581.5 2477.8L1621.7 2477.8M1601.6 2509.6L1601.6 2446.7M1590.6 2509.6L1612.6 2509.6M1590.6 2446.7L1612.6 2446.7" stroke="#000" stroke-width="1.6"/>
<circle cx="1647.6" cy="2457.1" r="5" fill="#4f1f95" fill-opacity="0.95" />
<circle cx="1647.6" cy="2474.5" r="5" fill="#4f1f95" fill-opacity="0.95" />
<circle cx="1631" cy="2479" r="5" fill="#4f1f95" fill-opacity="0.95" />
<circle cx="1662.8" cy="2478.5" r="5" fill="#4f1f95" fill-opacity="0.95" />
<circle cx="1636.4" cy="2495.2" r="5" fill="#4f1f95" fill-opacity="0.95" />
<circle cx="1657.1" cy="2492.7" r="5" fill="#4f1f95" fill-opacity="0.95" />
<path d="M1627 2479.5L1667.2 2479.5M1647.1 2492.7L1647.1 2465.8M1636.1 2492.7L1658.1 2492.7M1636.1 2465.8L1658.1 2465.8" stroke="#000" stroke-width="1.6"/>
</svg>
</body></html>
